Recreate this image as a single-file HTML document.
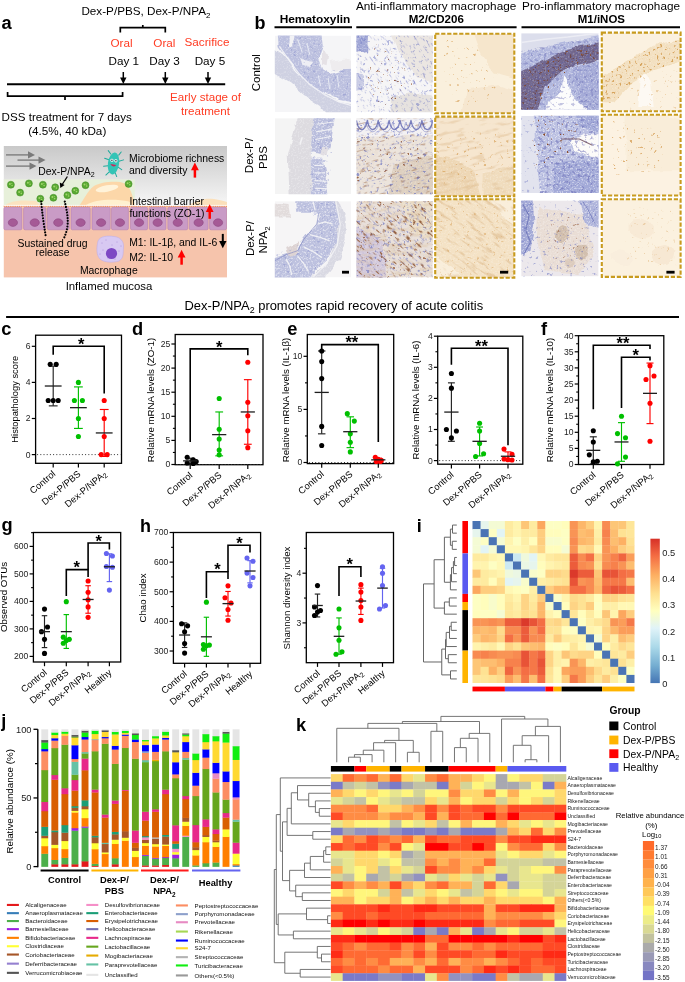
<!DOCTYPE html>
<html><head><meta charset="utf-8"><title>Figure</title><style>html,body{margin:0;padding:0;background:#fff;width:685px;height:982px;overflow:hidden;}svg{display:block;font-family:"Liberation Sans",sans-serif;will-change:transform;}</style></head><body>
<svg width="685" height="982" viewBox="0 0 685 982" font-family="Liberation Sans, sans-serif"><defs><filter id="soft" x="-0.1" y="-0.1" width="1.2" height="1.2"><feTurbulence type="fractalNoise" baseFrequency="0.09" numOctaves="2" seed="4" result="t"/><feDisplacementMap in="SourceGraphic" in2="t" scale="5.5" xChannelSelector="R" yChannelSelector="G" result="d"/><feGaussianBlur in="d" stdDeviation="0.6"/></filter><filter id="ws" x="0" y="0" width="1" height="1" color-interpolation-filters="sRGB"><feTurbulence type="fractalNoise" baseFrequency="0.6" numOctaves="2" seed="2"/><feColorMatrix type="matrix" values="0 0 0 0 1 0 0 0 0 1 0 0 0 0 1 5 0 0 0 -2.5"/><feGaussianBlur stdDeviation="0.3"/><feComposite in2="SourceAlpha" operator="in"/></filter><filter id="bd" x="0" y="0" width="1" height="1" color-interpolation-filters="sRGB"><feTurbulence type="fractalNoise" baseFrequency="0.3" numOctaves="2" seed="7"/><feColorMatrix type="matrix" values="0 0 0 0 0.36 0 0 0 0 0.4 0 0 0 0 0.74 8 0 0 0 -5.1"/><feGaussianBlur stdDeviation="0.4"/><feComposite in2="SourceAlpha" operator="in"/></filter><filter id="bd2" x="0" y="0" width="1" height="1" color-interpolation-filters="sRGB"><feTurbulence type="fractalNoise" baseFrequency="0.32" numOctaves="2" seed="11"/><feColorMatrix type="matrix" values="0 0 0 0 0.35 0 0 0 0 0.36 0 0 0 0 0.68 7 0 0 0 -4"/><feGaussianBlur stdDeviation="0.4"/><feComposite in2="SourceAlpha" operator="in"/></filter><filter id="brd" x="0" y="0" width="1" height="1" color-interpolation-filters="sRGB"><feTurbulence type="fractalNoise" baseFrequency="0.3" numOctaves="2" seed="3"/><feColorMatrix type="matrix" values="0 0 0 0 0.55 0 0 0 0 0.3 0 0 0 0 0.16 10 0 0 0 -7"/><feGaussianBlur stdDeviation="0.4"/><feComposite in2="SourceAlpha" operator="in"/></filter><filter id="gd" x="0" y="0" width="1" height="1" color-interpolation-filters="sRGB"><feTurbulence type="fractalNoise" baseFrequency="0.3" numOctaves="2" seed="5"/><feColorMatrix type="matrix" values="0 0 0 0 0.83 0 0 0 0 0.6 0 0 0 0 0.3 10 0 0 0 -6.9"/><feGaussianBlur stdDeviation="0.4"/><feComposite in2="SourceAlpha" operator="in"/></filter><filter id="brd2" x="0" y="0" width="1" height="1" color-interpolation-filters="sRGB"><feTurbulence type="fractalNoise" baseFrequency="0.4" numOctaves="2" seed="17"/><feColorMatrix type="matrix" values="0 0 0 0 0.45 0 0 0 0 0.25 0 0 0 0 0.2 8 0 0 0 -4.9"/><feGaussianBlur stdDeviation="0.35"/><feComposite in2="SourceAlpha" operator="in"/></filter><filter id="stb" x="0" y="0" width="1" height="1" color-interpolation-filters="sRGB"><feTurbulence type="fractalNoise" baseFrequency="0.14 0.45" numOctaves="2" seed="21"/><feColorMatrix type="matrix" values="0 0 0 0 0.56 0 0 0 0 0.34 0 0 0 0 0.2 8 0 0 0 -5"/><feGaussianBlur stdDeviation="0.4"/><feComposite in2="SourceAlpha" operator="in"/></filter><filter id="stt" x="0" y="0" width="1" height="1" color-interpolation-filters="sRGB"><feTurbulence type="fractalNoise" baseFrequency="0.07 0.3" numOctaves="2" seed="23"/><feColorMatrix type="matrix" values="0 0 0 0 0.84 0 0 0 0 0.68 0 0 0 0 0.48 6 0 0 0 -3.4"/><feGaussianBlur stdDeviation="0.5"/><feComposite in2="SourceAlpha" operator="in"/></filter><filter id="stbl" x="0" y="0" width="1" height="1" color-interpolation-filters="sRGB"><feTurbulence type="fractalNoise" baseFrequency="0.2 0.5" numOctaves="2" seed="25"/><feColorMatrix type="matrix" values="0 0 0 0 0.38 0 0 0 0 0.42 0 0 0 0 0.76 8 0 0 0 -5.1"/><feGaussianBlur stdDeviation="0.35"/><feComposite in2="SourceAlpha" operator="in"/></filter><filter id="gd2" x="0" y="0" width="1" height="1" color-interpolation-filters="sRGB"><feTurbulence type="fractalNoise" baseFrequency="0.35" numOctaves="2" seed="9"/><feColorMatrix type="matrix" values="0 0 0 0 0.82 0 0 0 0 0.6 0 0 0 0 0.3 8 0 0 0 -4.9"/><feGaussianBlur stdDeviation="0.4"/><feComposite in2="SourceAlpha" operator="in"/></filter><filter id="tan" x="0" y="0" width="1" height="1" color-interpolation-filters="sRGB"><feTurbulence type="fractalNoise" baseFrequency="0.08 0.25" numOctaves="2" seed="13"/><feColorMatrix type="matrix" values="0 0 0 0 0.86 0 0 0 0 0.74 0 0 0 0 0.58 5 0 0 0 -2.3"/><feGaussianBlur stdDeviation="0.6"/><feComposite in2="SourceAlpha" operator="in"/></filter><linearGradient id="lum" x1="0" y1="0" x2="0" y2="1"><stop offset="0" stop-color="#c9c9c9"/><stop offset="1" stop-color="#f7f7f7"/></linearGradient><linearGradient id="mound" x1="0" y1="0" x2="0" y2="1"><stop offset="0" stop-color="#fff4e0"/><stop offset="1" stop-color="#fcd9b0"/></linearGradient><clipPath id="c1"><rect x="274.8" y="35.6" width="76.2" height="76.6"/></clipPath><clipPath id="c2"><rect x="356.4" y="35.6" width="76.4" height="76.6"/></clipPath><clipPath id="c3"><rect x="435.5" y="34" width="78.5" height="78.9"/></clipPath><clipPath id="c4"><rect x="521.2" y="33.2" width="77.4" height="76.6"/></clipPath><clipPath id="c5"><rect x="602.1" y="32.9" width="78.2" height="78"/></clipPath><clipPath id="c6"><rect x="274.8" y="118.2" width="76.2" height="76"/></clipPath><clipPath id="c7"><rect x="356.4" y="118.2" width="76.4" height="76"/></clipPath><clipPath id="c8"><rect x="435.5" y="116.9" width="78.5" height="79"/></clipPath><clipPath id="c9"><rect x="521.2" y="115.8" width="77.4" height="77.2"/></clipPath><clipPath id="c10"><rect x="602.1" y="115" width="78.2" height="80.2"/></clipPath><clipPath id="c11"><rect x="274.8" y="201.2" width="76.2" height="76.2"/></clipPath><clipPath id="c12"><rect x="356.4" y="201.2" width="76.4" height="76.2"/></clipPath><clipPath id="c13"><rect x="435.5" y="199.6" width="78.5" height="77.8"/></clipPath><clipPath id="c14"><rect x="521.2" y="200.4" width="77.4" height="76"/></clipPath><clipPath id="c15"><rect x="602.1" y="199.6" width="78.2" height="77"/></clipPath><linearGradient id="cbi" x1="0" y1="1" x2="0" y2="0"><stop offset="0" stop-color="#4575b4"/><stop offset="0.12" stop-color="#74add1"/><stop offset="0.25" stop-color="#abd9e9"/><stop offset="0.38" stop-color="#e0f3f8"/><stop offset="0.5" stop-color="#ffffbf"/><stop offset="0.62" stop-color="#fee090"/><stop offset="0.75" stop-color="#fdae61"/><stop offset="0.88" stop-color="#f46d43"/><stop offset="1" stop-color="#d73027"/></linearGradient></defs><text x="1.6" y="29.1" font-size="18.3" font-weight="bold">a</text><text x="81.4" y="15" font-size="11.6" textLength="129" lengthAdjust="spacingAndGlyphs">Dex-P/PBS, Dex-P/NPA<tspan dy="2.9" font-size="7.89">2</tspan></text><path d="M120.3 32.5 V27.7 H165.3 V32.5 M142.8 27.7 V25" stroke="#000" stroke-width="1.7" fill="none" /><text x="121.5" y="46.6" font-size="11.7" text-anchor="middle" fill="#ff3b22">Oral</text><text x="164.4" y="46.6" font-size="11.7" text-anchor="middle" fill="#ff3b22">Oral</text><text x="207" y="46.3" font-size="11.7" text-anchor="middle" fill="#ff3b22">Sacrifice</text><text x="123.8" y="64.6" font-size="11.7" text-anchor="middle">Day 1</text><text x="164.5" y="64.6" font-size="11.7" text-anchor="middle">Day 3</text><text x="209.9" y="64.8" font-size="11.7" text-anchor="middle">Day 5</text><line x1="123.3" y1="72" x2="123.3" y2="79" stroke="#000" stroke-width="1.5" /><path d="M123.3 84 L120.1 77.5 L126.5 77.5 Z" stroke="none" stroke-width="1" fill="#000" /><line x1="165.3" y1="72" x2="165.3" y2="79" stroke="#000" stroke-width="1.5" /><path d="M165.3 84 L162.1 77.5 L168.5 77.5 Z" stroke="none" stroke-width="1" fill="#000" /><line x1="208" y1="72" x2="208" y2="79" stroke="#000" stroke-width="1.5" /><path d="M208 84 L204.8 77.5 L211.2 77.5 Z" stroke="none" stroke-width="1" fill="#000" /><line x1="7" y1="84.2" x2="225.2" y2="84.2" stroke="#000" stroke-width="1.9" /><path d="M7.6 92 V96.2 H122.6 V92 M65 96.2 V100" stroke="#000" stroke-width="1.7" fill="none" /><text x="1.6" y="121.3" font-size="11.6" textLength="130.3" lengthAdjust="spacingAndGlyphs">DSS treatment for 7 days</text><text x="28.2" y="135.3" font-size="11.8" textLength="78.1" lengthAdjust="spacingAndGlyphs">(4.5%, 40 kDa)</text><text x="205.5" y="101.4" font-size="11.6" text-anchor="middle" fill="#ff3b22">Early stage of</text><text x="205.5" y="114.6" font-size="11.6" text-anchor="middle" fill="#ff3b22">treatment</text><rect x="3.8" y="146" width="223.2" height="60" fill="url(#lum)" /><rect x="3.8" y="179.3" width="131" height="27" fill="#e7f0da" /><path d="M79 206 C 84 200, 87 191, 94 186 C 100 182, 112 181, 120 182 C 128 183, 131 190, 133 198 L 135 206 Z" stroke="none" stroke-width="1" fill="#fcd7a9" /><ellipse cx="107" cy="188.5" rx="11.5" ry="3.2" fill="#fff3da" transform="rotate(-10 107 188.5)"/><path d="M86 205 C 95 199, 115 198.5, 129 201.5 L132 205 Z" stroke="none" stroke-width="1" fill="#fff0cf" /><path d="M4 206 C 10 201, 20 199.5, 36 201 C 38 203, 40 205, 42 206 Z" stroke="none" stroke-width="1" fill="#fbe3c0" /><path d="M188 206 C 196 200, 205 198, 214 199 C 220 200, 224 201, 227 202 L227 206 Z" stroke="none" stroke-width="1" fill="#fbe0bb" /><rect x="3.8" y="206" width="223.2" height="71.4" fill="#f6c4ac" /><rect x="3.9" y="207.2" width="18" height="22.6" rx="1.5" fill="#c99bc6" stroke="#b582b3" stroke-width="0.6"/><ellipse cx="12.9" cy="222.6" rx="4.6" ry="3.8" fill="#a55a96" stroke="#8c4480" stroke-width="0.6"/><rect x="23.6" y="207.2" width="22.3" height="22.6" rx="1.5" fill="#c99bc6" stroke="#b582b3" stroke-width="0.6"/><ellipse cx="34.75" cy="222.6" rx="4.6" ry="3.8" fill="#a55a96" stroke="#8c4480" stroke-width="0.6"/><rect x="47.3" y="207.2" width="21.9" height="22.6" rx="1.5" fill="#c99bc6" stroke="#b582b3" stroke-width="0.6"/><ellipse cx="58.25" cy="222.6" rx="4.6" ry="3.8" fill="#a55a96" stroke="#8c4480" stroke-width="0.6"/><rect x="71" y="207.2" width="19.2" height="22.6" rx="1.5" fill="#c99bc6" stroke="#b582b3" stroke-width="0.6"/><ellipse cx="80.6" cy="222.6" rx="4.6" ry="3.8" fill="#a55a96" stroke="#8c4480" stroke-width="0.6"/><rect x="92" y="207.2" width="18.2" height="22.6" rx="1.5" fill="#c99bc6" stroke="#b582b3" stroke-width="0.6"/><ellipse cx="101.1" cy="222.6" rx="4.6" ry="3.8" fill="#a55a96" stroke="#8c4480" stroke-width="0.6"/><rect x="111.5" y="207.2" width="16.9" height="22.6" rx="1.5" fill="#c99bc6" stroke="#b582b3" stroke-width="0.6"/><ellipse cx="119.95" cy="222.6" rx="4.6" ry="3.8" fill="#a55a96" stroke="#8c4480" stroke-width="0.6"/><rect x="130.5" y="207.2" width="17.1" height="22.6" rx="1.5" fill="#c99bc6" stroke="#b582b3" stroke-width="0.6"/><ellipse cx="139.05" cy="222.6" rx="4.6" ry="3.8" fill="#a55a96" stroke="#8c4480" stroke-width="0.6"/><rect x="149.3" y="207.2" width="16.7" height="22.6" rx="1.5" fill="#c99bc6" stroke="#b582b3" stroke-width="0.6"/><ellipse cx="157.65" cy="222.6" rx="4.6" ry="3.8" fill="#a55a96" stroke="#8c4480" stroke-width="0.6"/><rect x="167.8" y="207.2" width="19.9" height="22.6" rx="1.5" fill="#c99bc6" stroke="#b582b3" stroke-width="0.6"/><ellipse cx="177.75" cy="222.6" rx="4.6" ry="3.8" fill="#a55a96" stroke="#8c4480" stroke-width="0.6"/><rect x="189.2" y="207.2" width="18.9" height="22.6" rx="1.5" fill="#c99bc6" stroke="#b582b3" stroke-width="0.6"/><ellipse cx="198.65" cy="222.6" rx="4.6" ry="3.8" fill="#a55a96" stroke="#8c4480" stroke-width="0.6"/><rect x="209.6" y="207.2" width="16.9" height="22.6" rx="1.5" fill="#c99bc6" stroke="#b582b3" stroke-width="0.6"/><ellipse cx="218.05" cy="222.6" rx="4.6" ry="3.8" fill="#a55a96" stroke="#8c4480" stroke-width="0.6"/><line x1="3.8" y1="206.3" x2="227" y2="206.3" stroke="#f08850" stroke-width="1.6" stroke-dasharray="0.8 1.4"/><line x1="3.8" y1="205.4" x2="227" y2="205.4" stroke="#fff" stroke-width="0.8"/><line x1="6" y1="154.9" x2="29.5" y2="154.9" stroke="#777" stroke-width="1.3" /><path d="M35 154.9 L28 151.2 L28 158.6 Z" stroke="none" stroke-width="1" fill="#7a7a7a" /><line x1="17.5" y1="160.1" x2="40" y2="160.1" stroke="#777" stroke-width="1.3" /><path d="M45.5 160.1 L38.5 156.4 L38.5 163.8 Z" stroke="none" stroke-width="1" fill="#7a7a7a" /><line x1="6" y1="166.1" x2="31" y2="166.1" stroke="#777" stroke-width="1.3" /><path d="M36.5 166.1 L29.5 162.4 L29.5 169.8 Z" stroke="none" stroke-width="1" fill="#7a7a7a" /><circle cx="10.9" cy="184.7" r="3.5" fill="#58a832" stroke="#3f8a22" stroke-width="0.5"/><circle cx="9.9" cy="184" r="1" fill="#9fd66a" /><circle cx="12.1" cy="185.5" r="0.8" fill="#9fd66a" /><circle cx="11.8" cy="183.4" r="0.5" fill="#9fd66a" /><circle cx="28.9" cy="183.4" r="3.5" fill="#58a832" stroke="#3f8a22" stroke-width="0.5"/><circle cx="27.9" cy="182.7" r="1" fill="#9fd66a" /><circle cx="30.1" cy="184.2" r="0.8" fill="#9fd66a" /><circle cx="29.8" cy="182.1" r="0.5" fill="#9fd66a" /><circle cx="42.9" cy="184.7" r="3.5" fill="#58a832" stroke="#3f8a22" stroke-width="0.5"/><circle cx="41.9" cy="184" r="1" fill="#9fd66a" /><circle cx="44.1" cy="185.5" r="0.8" fill="#9fd66a" /><circle cx="43.8" cy="183.4" r="0.5" fill="#9fd66a" /><circle cx="55.2" cy="187.3" r="3.5" fill="#58a832" stroke="#3f8a22" stroke-width="0.5"/><circle cx="54.2" cy="186.6" r="1" fill="#9fd66a" /><circle cx="56.4" cy="188.1" r="0.8" fill="#9fd66a" /><circle cx="56.1" cy="186" r="0.5" fill="#9fd66a" /><circle cx="85.5" cy="185.2" r="3.5" fill="#58a832" stroke="#3f8a22" stroke-width="0.5"/><circle cx="84.5" cy="184.5" r="1" fill="#9fd66a" /><circle cx="86.7" cy="186" r="0.8" fill="#9fd66a" /><circle cx="86.4" cy="183.9" r="0.5" fill="#9fd66a" /><circle cx="20.1" cy="192.6" r="3.5" fill="#58a832" stroke="#3f8a22" stroke-width="0.5"/><circle cx="19.1" cy="191.9" r="1" fill="#9fd66a" /><circle cx="21.3" cy="193.4" r="0.8" fill="#9fd66a" /><circle cx="21" cy="191.3" r="0.5" fill="#9fd66a" /><circle cx="40.3" cy="198.7" r="3.5" fill="#58a832" stroke="#3f8a22" stroke-width="0.5"/><circle cx="39.3" cy="198" r="1" fill="#9fd66a" /><circle cx="41.5" cy="199.5" r="0.8" fill="#9fd66a" /><circle cx="41.2" cy="197.4" r="0.5" fill="#9fd66a" /><circle cx="53.4" cy="197.8" r="3.5" fill="#58a832" stroke="#3f8a22" stroke-width="0.5"/><circle cx="52.4" cy="197.1" r="1" fill="#9fd66a" /><circle cx="54.6" cy="198.6" r="0.8" fill="#9fd66a" /><circle cx="54.3" cy="196.5" r="0.5" fill="#9fd66a" /><circle cx="67.4" cy="195.2" r="3.5" fill="#58a832" stroke="#3f8a22" stroke-width="0.5"/><circle cx="66.4" cy="194.5" r="1" fill="#9fd66a" /><circle cx="68.6" cy="196" r="0.8" fill="#9fd66a" /><circle cx="68.3" cy="193.9" r="0.5" fill="#9fd66a" /><circle cx="75.3" cy="190.8" r="3.5" fill="#58a832" stroke="#3f8a22" stroke-width="0.5"/><circle cx="74.3" cy="190.1" r="1" fill="#9fd66a" /><circle cx="76.5" cy="191.6" r="0.8" fill="#9fd66a" /><circle cx="76.2" cy="189.5" r="0.5" fill="#9fd66a" /><circle cx="128.6" cy="183.9" r="3.5" fill="#58a832" stroke="#3f8a22" stroke-width="0.5"/><circle cx="127.6" cy="183.2" r="1" fill="#9fd66a" /><circle cx="129.8" cy="184.7" r="0.8" fill="#9fd66a" /><circle cx="129.5" cy="182.6" r="0.5" fill="#9fd66a" /><path d="M41.2 201.5 C 42 212, 44 226, 45.9 237" stroke="#000" stroke-width="2.2" fill="none" stroke-dasharray="0.01 2.8" stroke-linecap="round"/><path d="M64.8 201.5 C 67 212, 70.5 224, 64 238" stroke="#000" stroke-width="2.2" fill="none" stroke-dasharray="0.01 2.8" stroke-linecap="round"/><text x="38.3" y="174.5" font-size="10.4">Dex-P/NPA<tspan dy="2.6" font-size="7.07">2</tspan></text><line x1="67.4" y1="176.5" x2="62.2" y2="184.5" stroke="#000" stroke-width="1.3" /><path d="M60.3 188 L59.8 182.6 L64.6 185 Z" stroke="none" stroke-width="1" fill="#000" /><g transform="translate(113.5 163.5) rotate(8)"><g stroke="#1faa9c" stroke-width="1" stroke-linecap="round"><line x1="-4" y1="-9" x2="-7" y2="-12"/><line x1="4" y1="-9" x2="6" y2="-12.5"/><line x1="-5" y1="-3" x2="-9.5" y2="-4"/><line x1="5" y1="-3" x2="9.5" y2="-5"/><line x1="-5" y1="3" x2="-9.5" y2="4"/><line x1="5" y1="3" x2="9" y2="5"/><line x1="-3" y1="9" x2="-6" y2="12.5"/><line x1="3" y1="9" x2="5" y2="12.5"/></g><ellipse cx="0" cy="0" rx="5.6" ry="11" fill="#33c4b6"/><circle cx="-2" cy="-3" r="1.6" fill="#fff"/><circle cx="2" cy="-3" r="1.6" fill="#fff"/><circle cx="-2" cy="-3" r="0.7" fill="#123"/><circle cx="2" cy="-3" r="0.7" fill="#123"/><path d="M-3 1 Q0 5 3 1 Z" fill="#d0245a"/></g><text x="129" y="162.2" font-size="10.4">Microbiome richness</text><text x="129" y="174.3" font-size="10.4">and diversity</text><line x1="194.9" y1="167.4" x2="194.9" y2="177.6" stroke="#ff0000" stroke-width="2.5" /><path d="M194.9 162.4 L191 170.2 L198.8 170.2 Z" stroke="none" stroke-width="1" fill="#ff0000" /><text x="129.4" y="205" font-size="10.4">Intestinal barrier</text><text x="129.4" y="217" font-size="10.4">functions (ZO-1)</text><line x1="209.7" y1="209.2" x2="209.7" y2="218.8" stroke="#ff0000" stroke-width="2.5" /><path d="M209.7 204.2 L205.8 212 L213.6 212 Z" stroke="none" stroke-width="1" fill="#ff0000" /><path d="M98 241 C 100 236, 108 235.5, 114 236.5 C 120 237, 124 241, 123.5 247 C 123 253, 124 258, 119 261 C 113 263, 104 262.5, 100 259 C 96 255, 96.5 247, 98 241 Z" stroke="#c0aee6" stroke-width="0.6" fill="#d8c9f2" /><circle cx="102" cy="243" r="0.45" fill="#8a64c8" /><circle cx="106" cy="240" r="0.45" fill="#8a64c8" /><circle cx="117" cy="242" r="0.45" fill="#8a64c8" /><circle cx="103" cy="250" r="0.45" fill="#8a64c8" /><circle cx="119" cy="251" r="0.45" fill="#8a64c8" /><circle cx="108" cy="258" r="0.45" fill="#8a64c8" /><circle cx="115" cy="259" r="0.45" fill="#8a64c8" /><circle cx="100" cy="254" r="0.45" fill="#8a64c8" /><circle cx="112" cy="245" r="0.45" fill="#8a64c8" /><circle cx="121" cy="246" r="0.45" fill="#8a64c8" /><circle cx="111.5" cy="253.5" r="5.6" fill="#7d48c4" /><text x="129.2" y="246.3" font-size="10.4">M1: IL-1β, and IL-6</text><line x1="222.8" y1="233.9" x2="222.8" y2="243.2" stroke="#000" stroke-width="2" /><path d="M222.8 248.2 L219.1 241 L226.5 241 Z" stroke="none" stroke-width="1" fill="#000" /><text x="129.2" y="260.6" font-size="10.4">M2: IL-10</text><line x1="181.6" y1="254.8" x2="181.6" y2="264.7" stroke="#ff0000" stroke-width="2.5" /><path d="M181.6 249.8 L177.7 257.6 L185.5 257.6 Z" stroke="none" stroke-width="1" fill="#ff0000" /><text x="52.5" y="246.8" font-size="10.4" text-anchor="middle">Sustained drug</text><text x="52.5" y="256.4" font-size="10.4" text-anchor="middle">release</text><text x="108.8" y="274" font-size="10.4" text-anchor="middle">Macrophage</text><text x="109" y="290.3" font-size="11.4" text-anchor="middle">Inflamed mucosa</text><text x="254.4" y="29" font-size="18" font-weight="bold">b</text><text x="279.7" y="23.4" font-size="11.2" textLength="70.6" lengthAdjust="spacingAndGlyphs" font-weight="bold">Hematoxylin</text><line x1="274.5" y1="27.2" x2="352" y2="27.2" stroke="#000" stroke-width="2" /><text x="355.9" y="10.2" font-size="11.4" textLength="160.4" lengthAdjust="spacingAndGlyphs">Anti-inflammatory macrophage</text><text x="408.7" y="23.4" font-size="11.2" textLength="55.2" lengthAdjust="spacingAndGlyphs" font-weight="bold">M2/CD206</text><line x1="356.3" y1="27.2" x2="516.6" y2="27.2" stroke="#000" stroke-width="2" /><text x="522.1" y="10.2" font-size="11.4" textLength="157.9" lengthAdjust="spacingAndGlyphs">Pro-inflammatory macrophage</text><text x="577.8" y="23.4" font-size="11.2" textLength="47.2" lengthAdjust="spacingAndGlyphs" font-weight="bold">M1/iNOS</text><line x1="521.5" y1="27.2" x2="680" y2="27.2" stroke="#000" stroke-width="2" /><text x="260.4" y="72.7" font-size="11.5" text-anchor="middle" transform="rotate(-90 260.4 72.7)">Control</text><text x="253.5" y="155.6" font-size="11.5" text-anchor="middle" transform="rotate(-90 253.5 155.6)">Dex-P/</text><text x="267" y="157.5" font-size="11.5" text-anchor="middle" transform="rotate(-90 267 157.5)">PBS</text><text x="253.5" y="238.5" font-size="11.5" text-anchor="middle" transform="rotate(-90 253.5 238.5)">Dex-P/</text><text x="267" y="240" font-size="11.5" text-anchor="middle" transform="rotate(-90 267 240)">NPA<tspan dy="2.6" font-size="7.8">2</tspan></text><g clip-path="url(#c1)"><rect x="274.8" y="35.6" width="76.2" height="76.6" fill="#f5f5f7" /><path d="M265.66 41.73 L283.94 55.52 L295.37 70.07 L309.09 83.86 L324.33 94.58 L339.57 102.24 L360.14 106.07 L360.14 121.39 L331.19 121.39 L320.52 106.84 L309.09 99.18 L291.56 84.62 L265.66 69.3 Z" fill="#cfd1e2" filter="url(#soft)"/><path d="M265.66 41.73 L283.94 55.52 L295.37 70.07 L309.09 83.86 L324.33 94.58 L339.57 102.24 L360.14 106.07 L360.14 121.39 L331.19 121.39 L320.52 106.84 L309.09 99.18 L291.56 84.62 L265.66 69.3 Z" fill="#000" filter="url(#ws)" opacity="0.2"/><path d="M277.09 26.41 L320.52 26.41 L322.81 46.32 L318.23 58.58 L322.04 69.3 L329.66 73.9 L343.38 70.07 L360.14 69.3 L360.14 103.77 L339.57 99.94 L322.81 93.05 L307.57 82.33 L297.66 70.84 L285.47 55.52 L278.61 46.32 Z" fill="#bcc0df" filter="url(#soft)"/><path d="M277.09 26.41 L320.52 26.41 L322.81 46.32 L318.23 58.58 L322.04 69.3 L329.66 73.9 L343.38 70.07 L360.14 69.3 L360.14 103.77 L339.57 99.94 L322.81 93.05 L307.57 82.33 L297.66 70.84 L285.47 55.52 L278.61 46.32 Z" fill="#000" filter="url(#ws)" opacity="0.3"/><path d="M290.04 26.41 L295.37 26.41 L293.09 46.32 L289.28 48.62 Z" fill="#f2f2f5" filter="url(#soft)"/><path d="M299.95 58.58 L312.9 60.88 L309.85 67.01 L302.23 64.71 Z" fill="#eeeef4" filter="url(#soft)"/><path d="M322.04 50.92 L328.14 54.75 L326.62 66.24 L322.04 64.71 Z" fill="#e6e2e6" filter="url(#soft)"/><path d="M329.66 60.88 L344.9 58.58 L360.14 60.88 L360.14 68.54 L331.95 70.84 Z" fill="#eeecee" filter="url(#soft)"/><path d="M277.09 26.41 L320.52 26.41 L320.52 70.84 L360.14 69.3 L360.14 103.01 L306.8 81.56 Z" fill="#000" filter="url(#bd)" opacity="0.25"/><path d="M279.37 46.32 L290.04 61.64 L299.18 73.9 L309.09 83.86 L324.33 94.58 L339.57 102.24 L351 105.31" fill="none" stroke="#f2f2f6" stroke-width="1.3" opacity="0.9" stroke-linejoin="round"/><path d="M297.66 39.43 L302.23 52.45" fill="none" stroke="#eef0f6" stroke-width="1.1" opacity="0.8" stroke-linejoin="round"/><path d="M306.8 43.26 L309.85 54.75" fill="none" stroke="#eef0f6" stroke-width="1.1" opacity="0.8" stroke-linejoin="round"/><path d="M328.14 77.73 L329.66 89.22" fill="none" stroke="#eef0f6" stroke-width="1.1" opacity="0.8" stroke-linejoin="round"/><path d="M337.28 75.43 L338.81 87.69" fill="none" stroke="#eef0f6" stroke-width="1.1" opacity="0.8" stroke-linejoin="round"/><path d="M318.23 75.43 L320.52 86.16" fill="none" stroke="#eef0f6" stroke-width="1.1" opacity="0.8" stroke-linejoin="round"/></g><g clip-path="url(#c2)"><rect x="356.4" y="35.6" width="76.4" height="76.6" fill="#f6f5f6" /><path d="M388.49 26.41 L441.97 26.41 L441.97 86.16 L417.52 77.73 L402.24 58.58 Z" fill="#ebe6e2" filter="url(#soft)"/><path d="M390.78 96.88 L409.88 92.28 L441.97 96.88 L441.97 121.39 L390.78 121.39 Z" fill="#e6e2df" filter="url(#soft)"/><path d="M347.23 26.41 L368.62 26.41 L367.1 50.92 L347.23 53.98 Z" fill="#a2a8d6" filter="url(#soft)"/><path d="M347.23 26.41 L368.62 26.41 L367.1 50.92 L347.23 53.98 Z" fill="#000" filter="url(#ws)" opacity="0.3"/><path d="M347.23 72.37 L364.04 75.43 L364.04 89.22 L347.23 92.28 Z" fill="#c8cbe4" filter="url(#soft)"/><path d="M347.23 72.37 L364.04 75.43 L364.04 89.22 L347.23 92.28 Z" fill="#000" filter="url(#ws)" opacity="0.2"/><path d="M347.23 26.41 L441.97 26.41 L441.97 121.39 L347.23 121.39 Z" fill="#000" filter="url(#bd)" opacity="0.45"/><path d="M367.86 39.43 L394.6 50.92 L417.52 89.22 L379.32 108.37 L367.86 81.56 Z" fill="#000" filter="url(#brd)" opacity="0.8"/><rect x="334.6" y="13.9" width="120" height="120" fill="#000" filter="url(#stbl)" opacity="0.45" transform="rotate(55 394.6 73.9)"/></g><g clip-path="url(#c3)"><rect x="435.5" y="34" width="78.5" height="78.9" fill="#faf0dd" /><path d="M470.82 24.53 L523.42 24.53 L523.42 81.34 L494.38 73.45 L482.6 57.67 Z" fill="#f6e6cc" filter="url(#soft)"/><path d="M466.9 89.23 L498.3 85.28 L523.42 93.18 L523.42 122.37 L459.05 122.37 Z" fill="#f6e7d0" filter="url(#soft)"/><path d="M443.35 37.95 L478.68 49.78 L502.23 93.18 L459.05 108.95 L443.35 81.34 Z" fill="#000" filter="url(#gd)" opacity="0.6"/></g><rect x="435.2" y="33.7" width="79.1" height="79.5" fill="none" stroke="#c89b1e" stroke-width="2.1" stroke-dasharray="4.2 1.8"/><g clip-path="url(#c4)"><rect x="521.2" y="33.2" width="77.4" height="76.6" fill="#dcdeec" /><path d="M511.91 56.18 L552.16 44.69 L607.89 34.73 L607.89 118.99 L511.91 118.99 Z" fill="#b2b8de" filter="url(#soft)"/><path d="M511.91 56.18 L552.16 44.69 L607.89 34.73 L607.89 118.99 L511.91 118.99 Z" fill="#000" filter="url(#ws)" opacity="0.35"/><path d="M511.91 75.33 L544.42 60.78 L567.64 48.52 L607.89 40.86 L607.89 57.71 L575.38 65.37 L559.9 73.03 L544.42 86.82 L535.13 118.99 L511.91 118.99 Z" fill="#72688f" filter="url(#soft)"/><path d="M511.91 75.33 L544.42 60.78 L567.64 48.52 L607.89 40.86 L607.89 57.71 L575.38 65.37 L559.9 73.03 L544.42 86.82 L535.13 118.99 L511.91 118.99 Z" fill="#000" filter="url(#ws)" opacity="0.2"/><path d="M571.51 67.67 L607.89 60.01 L607.89 118.99 L583.12 118.99 Z" fill="#a6acd8" filter="url(#soft)"/><path d="M571.51 67.67 L607.89 60.01 L607.89 118.99 L583.12 118.99 Z" fill="#000" filter="url(#ws)" opacity="0.35"/><path d="M564.54 75.33 L567.64 80.69 L569.19 92.95 L576.93 100.61 L586.99 108.27 L586.99 118.99 L542.87 118.99 L548.29 102.14 L558.35 94.48 L562.22 82.99 Z" fill="#fcfcfc" filter="url(#soft)"/><path d="M511.91 52.35 L607.89 34.73 L607.89 118.99 L511.91 118.99 Z" fill="#000" filter="url(#bd2)" opacity="0.35"/><path d="M511.91 77.63 L544.42 62.31 L567.64 50.05 L607.89 42.39 L607.89 56.18 L575.38 63.84 L559.9 71.5 L544.42 85.29 L533.58 118.99 L511.91 118.99 Z" fill="#000" filter="url(#brd2)" opacity="0.75"/><path d="M511.91 79.16 L548.29 60.01 L575.38 44.69 L607.89 40.86 L607.89 56.18 L567.64 69.97 L536.68 105.97 Z" fill="#000" filter="url(#brd)" opacity="1"/><path d="M521.2 42.39 L544.42 39.33 L567.64 37.03 L598.6 33.2" fill="none" stroke="#f0f0f6" stroke-width="1.5" opacity="0.8" stroke-linejoin="round"/></g><g clip-path="url(#c5)"><rect x="602.1" y="32.9" width="78.2" height="78" fill="#fbf1e0" /><path d="M592.72 101.54 L592.72 81.26 L629.47 60.2 L656.84 43.82 L689.68 39.14 L689.68 58.64 L652.93 70.34 L633.38 81.26 L613.83 103.1 Z" fill="#f3e0c0" filter="url(#soft)"/><path d="M592.72 101.54 L592.72 81.26 L629.47 60.2 L656.84 43.82 L689.68 39.14 L689.68 58.64 L652.93 70.34 L633.38 81.26 L613.83 103.1 Z" fill="#000" filter="url(#ws)" opacity="0.2"/><path d="M637.29 107 L639.64 79.7 L645.11 73.46 L650.58 79.7 L653.71 107 Z" fill="#fdf9f3" filter="url(#soft)"/><path d="M592.72 101.54 L592.72 81.26 L629.47 60.2 L656.84 43.82 L689.68 39.14 L689.68 58.64 L652.93 70.34 L633.38 81.26 L613.83 103.1 Z" fill="#000" filter="url(#gd2)" opacity="0.85"/><path d="M633.38 75.8 L689.68 64.1 L689.68 120.26 L625.56 120.26 Z" fill="#000" filter="url(#gd)" opacity="0.35"/></g><rect x="601.8" y="32.6" width="78.8" height="78.6" fill="none" stroke="#c89b1e" stroke-width="2.1" stroke-dasharray="4.2 1.8"/><g clip-path="url(#c6)"><rect x="274.8" y="118.2" width="76.2" height="76" fill="#f4f4f4" /><path d="M299.95 109.08 L314.42 109.08 L310.61 156.2 L312.14 203.32 L290.04 203.32 L287.75 156.2 Z" fill="#dddbe0" filter="url(#soft)"/><path d="M299.95 109.08 L314.42 109.08 L310.61 156.2 L312.14 203.32 L290.04 203.32 L287.75 156.2 Z" fill="#000" filter="url(#ws)" opacity="0.25"/><path d="M314.42 109.08 L335.76 109.08 L330.43 148.6 L322.04 153.92 L310.61 152.4 L312.9 122 Z" fill="#babedd" filter="url(#soft)"/><path d="M314.42 109.08 L335.76 109.08 L330.43 148.6 L322.04 153.92 L310.61 152.4 L312.9 122 Z" fill="#000" filter="url(#ws)" opacity="0.5"/><path d="M310.61 157.72 L322.04 157.72 L325.09 171.4 L328.14 203.32 L312.14 203.32 Z" fill="#bcc0de" filter="url(#soft)"/><path d="M310.61 157.72 L322.04 157.72 L325.09 171.4 L328.14 203.32 L312.14 203.32 Z" fill="#000" filter="url(#ws)" opacity="0.5"/><path d="M322.04 147.08 L328.14 148.6 L326.62 156.2 L320.52 154.68 Z" fill="#e2dfe4" filter="url(#soft)"/><path d="M312.9 109.08 L335.76 109.08 L328.14 203.32 L309.09 203.32 Z" fill="#000" filter="url(#bd)" opacity="0.3"/><path d="M316.71 124.28 L334.24 122" fill="none" stroke="#f4f4f6" stroke-width="1.2" opacity="0.9" stroke-linejoin="round"/><path d="M315.95 131.88 L332.71 128.84" fill="none" stroke="#f4f4f6" stroke-width="1.2" opacity="0.9" stroke-linejoin="round"/><path d="M315.19 139.48 L331.19 136.44" fill="none" stroke="#f4f4f6" stroke-width="1.2" opacity="0.9" stroke-linejoin="round"/><path d="M314.42 165.32 L323.57 165.32" fill="none" stroke="#f4f4f6" stroke-width="1.2" opacity="0.9" stroke-linejoin="round"/><path d="M314.42 172.92 L325.09 172.92" fill="none" stroke="#f4f4f6" stroke-width="1.2" opacity="0.9" stroke-linejoin="round"/><path d="M314.42 180.52 L326.62 181.28" fill="none" stroke="#f4f4f6" stroke-width="1.2" opacity="0.9" stroke-linejoin="round"/><path d="M314.42 188.12 L327.38 188.88" fill="none" stroke="#f4f4f6" stroke-width="1.2" opacity="0.9" stroke-linejoin="round"/><path d="M302.23 137.2 L299.95 144.8" fill="none" stroke="#f4f4f6" stroke-width="1.5" opacity="0.9" stroke-linejoin="round"/></g><g clip-path="url(#c7)"><rect x="356.4" y="118.2" width="76.4" height="76" fill="#ece4dc" /><path d="M347.23 109.08 L441.97 109.08 L441.97 134.92 L347.23 137.2 Z" fill="#f3f1f3" filter="url(#soft)"/><path d="M394.6 163.8 L441.97 152.4 L441.97 203.32 L386.96 203.32 Z" fill="#ded0c0" filter="url(#soft)"/><path d="M394.6 163.8 L441.97 152.4 L441.97 203.32 L386.96 203.32 Z" fill="#000" filter="url(#ws)" opacity="0.2"/><path d="M347.23 144.8 L379.32 148.6 L371.68 171.4 L347.23 171.4 Z" fill="#eae0d6" filter="url(#soft)"/><path d="M347.23 144.8 L379.32 148.6 L371.68 171.4 L347.23 171.4 Z" fill="#000" filter="url(#ws)" opacity="0.2"/><path d="M347.23 109.08 L441.97 109.08 L441.97 203.32 L347.23 203.32 Z" fill="#000" filter="url(#bd)" opacity="0.6"/><path d="M347.23 133.4 L425.16 141 L425.16 163.8 L347.23 186.6 Z" fill="#000" filter="url(#brd)" opacity="0.8"/><rect x="334.6" y="96.2" width="120" height="120" fill="#000" filter="url(#stb)" opacity="0.45" transform="rotate(-14 394.6 156.2)"/><rect x="334.6" y="96.2" width="120" height="120" fill="#000" filter="url(#stbl)" opacity="0.35" transform="rotate(-14 394.6 156.2)"/><path d="M356.4 120.48 L357.76 125.61 L359.13 127.89 L360.49 129.18 L361.86 129.6 L363.22 129.18 L364.59 127.89 L365.95 125.61 L367.31 120.48 L367.31 120.48 L368.68 125.61 L370.04 127.89 L371.41 129.18 L372.77 129.6 L374.14 129.18 L375.5 127.89 L376.86 125.61 L378.23 120.48 L378.23 120.48 L379.59 125.61 L380.96 127.89 L382.32 129.18 L383.69 129.6 L385.05 129.18 L386.41 127.89 L387.78 125.61 L389.14 120.48 L389.14 120.48 L390.51 125.61 L391.87 127.89 L393.24 129.18 L394.6 129.6 L395.96 129.18 L397.33 127.89 L398.69 125.61 L400.06 120.48 L400.06 120.48 L401.42 125.61 L402.79 127.89 L404.15 129.18 L405.51 129.6 L406.88 129.18 L408.24 127.89 L409.61 125.61 L410.97 120.48 L410.97 120.48 L412.34 125.61 L413.7 127.89 L415.06 129.18 L416.43 129.6 L417.79 129.18 L419.16 127.89 L420.52 125.61 L421.89 120.48 L421.89 120.48 L423.25 125.61 L424.61 127.89 L425.98 129.18 L427.34 129.6 L428.71 129.18 L430.07 127.89 L431.44 125.61 L432.8 120.48" fill="none" stroke="#4b52a8" stroke-width="1.3" opacity="0.7" stroke-linejoin="round"/><path d="M352.58 122 L354.25 127.55 L355.92 130.03 L357.59 131.42 L359.26 131.88 L360.94 131.42 L362.61 130.03 L364.28 127.55 L365.95 122 L365.95 122 L367.62 127.55 L369.29 130.03 L370.96 131.42 L372.63 131.88 L374.31 131.42 L375.98 130.03 L377.65 127.55 L379.32 122 L379.32 122 L380.99 127.55 L382.66 130.03 L384.33 131.42 L386 131.88 L387.68 131.42 L389.35 130.03 L391.02 127.55 L392.69 122 L392.69 122 L394.36 127.55 L396.03 130.03 L397.7 131.42 L399.38 131.88 L401.05 131.42 L402.72 130.03 L404.39 127.55 L406.06 122 L406.06 122 L407.73 127.55 L409.4 130.03 L411.07 131.42 L412.75 131.88 L414.42 131.42 L416.09 130.03 L417.76 127.55 L419.43 122 L419.43 122 L421.1 127.55 L422.77 130.03 L424.44 131.42 L426.12 131.88 L427.79 131.42 L429.46 130.03 L431.13 127.55 L432.8 122" fill="none" stroke="#6a70b8" stroke-width="1" opacity="0.45" stroke-linejoin="round"/></g><g clip-path="url(#c8)"><rect x="435.5" y="116.9" width="78.5" height="79" fill="#f6e6cf" /><path d="M426.08 152.45 L459.05 160.35 L474.75 173.78 L482.6 205.38 L426.08 205.38 Z" fill="#eed7b5" filter="url(#soft)"/><path d="M426.08 152.45 L459.05 160.35 L474.75 173.78 L482.6 205.38 L426.08 205.38 Z" fill="#000" filter="url(#ws)" opacity="0.2"/><path d="M482.6 172.2 L523.42 164.3 L523.42 205.38 L482.6 205.38 Z" fill="#f0dcbd" filter="url(#soft)"/><path d="M482.6 172.2 L523.42 164.3 L523.42 205.38 L482.6 205.38 Z" fill="#000" filter="url(#ws)" opacity="0.2"/><path d="M426.08 128.75 L523.42 132.7 L523.42 164.3 L474.75 180.1 L426.08 188 Z" fill="#000" filter="url(#gd)" opacity="0.6"/><rect x="414.75" y="96.4" width="120" height="120" fill="#000" filter="url(#stt)" opacity="0.32" transform="rotate(-12 474.75 156.4)"/></g><rect x="435.2" y="116.6" width="79.1" height="79.6" fill="none" stroke="#c89b1e" stroke-width="2.1" stroke-dasharray="4.2 1.8"/><g clip-path="url(#c9)"><rect x="521.2" y="115.8" width="77.4" height="77.2" fill="#e2e3ee" /><path d="M534.36 106.54 L607.89 106.54 L607.89 202.26 L540.55 202.26 L536.68 154.4 Z" fill="#bcc1e2" filter="url(#soft)"/><path d="M534.36 106.54 L607.89 106.54 L607.89 202.26 L540.55 202.26 L536.68 154.4 Z" fill="#000" filter="url(#ws)" opacity="0.5"/><path d="M553.71 163.66 L590.86 159.03 L607.89 162.12 L607.89 202.26 L553.71 202.26 Z" fill="#a3aad8" filter="url(#soft)"/><path d="M553.71 163.66 L590.86 159.03 L607.89 162.12 L607.89 202.26 L553.71 202.26 Z" fill="#000" filter="url(#ws)" opacity="0.45"/><path d="M573.83 106.54 L607.89 106.54 L607.89 131.24 L579.25 128.92 Z" fill="#a3aad8" filter="url(#soft)"/><path d="M573.83 106.54 L607.89 106.54 L607.89 131.24 L579.25 128.92 Z" fill="#000" filter="url(#ws)" opacity="0.45"/><path d="M569.96 143.59 L576.93 137.42 L583.12 134.33 L607.89 134.33 L607.89 159.03 L586.99 155.94 L576.93 151.31 Z" fill="#fcfbf9" filter="url(#soft)"/><path d="M534.36 106.54 L607.89 106.54 L607.89 202.26 L540.55 202.26 Z" fill="#000" filter="url(#bd2)" opacity="0.45"/><path d="M511.91 106.54 L544.42 106.54 L544.42 202.26 L511.91 202.26 Z" fill="#000" filter="url(#bd)" opacity="0.35"/><path d="M530.49 106.54 L579.25 123.52 L567.64 158.26 L532.81 165.98 Z" fill="#000" filter="url(#brd)" opacity="1"/><path d="M561.45 138.96 L569.19 138.96 L579.25 138.96 L592.41 145.14" fill="none" stroke="#6a4a5a" stroke-width="1.1" opacity="0.8" stroke-linejoin="round"/></g><g clip-path="url(#c10)"><rect x="602.1" y="115" width="78.2" height="80.2" fill="#fcf2e2" /><path d="M625.56 105.38 L689.68 123.02 L689.68 171.14 L625.56 171.14 Z" fill="#f9edd9" filter="url(#soft)"/><path d="M609.92 119.01 L664.66 131.04 L660.75 171.14 L613.83 175.15 Z" fill="#000" filter="url(#gd)" opacity="0.7"/></g><rect x="601.8" y="114.7" width="78.8" height="80.8" fill="none" stroke="#c89b1e" stroke-width="2.1" stroke-dasharray="4.2 1.8"/><g clip-path="url(#c11)"><rect x="274.8" y="201.2" width="76.2" height="76.2" fill="#f6f5f6" /><path d="M320.52 192.06 L335.76 192.06 L345.67 216.44 L345.67 239.3 L340.33 258.35 L328.14 273.59 L320.52 286.54 L301.47 286.54 L328.14 262.16 L337.28 239.3 L331.95 212.63 Z" fill="#d9d9e3" filter="url(#soft)"/><path d="M320.52 192.06 L335.76 192.06 L345.67 216.44 L345.67 239.3 L340.33 258.35 L328.14 273.59 L320.52 286.54 L301.47 286.54 L328.14 262.16 L337.28 239.3 L331.95 212.63 Z" fill="#000" filter="url(#ws)" opacity="0.25"/><path d="M293.85 192.06 L334.24 192.06 L338.81 220.25 L335.76 243.11 L326.62 260.64 L316.71 269.78 L303.76 286.54 L265.66 286.54 L265.66 260.64 L286.23 254.54 L297.66 250.73 L303.76 239.3 L316.71 224.06 L319 212.63 L309.09 211.87 L296.14 211.87 Z" fill="#bdc1df" filter="url(#soft)"/><path d="M293.85 192.06 L334.24 192.06 L338.81 220.25 L335.76 243.11 L326.62 260.64 L316.71 269.78 L303.76 286.54 L265.66 286.54 L265.66 260.64 L286.23 254.54 L297.66 250.73 L303.76 239.3 L316.71 224.06 L319 212.63 L309.09 211.87 L296.14 211.87 Z" fill="#000" filter="url(#ws)" opacity="0.45"/><path d="M265.66 202.72 L288.52 205.01 L290.04 216.44 L265.66 216.44 Z" fill="#e2dcdc" filter="url(#soft)"/><path d="M265.66 202.72 L288.52 205.01 L290.04 216.44 L265.66 216.44 Z" fill="#000" filter="url(#ws)" opacity="0.3"/><path d="M286.23 246.92 L299.18 240.82 L297.66 253.02 L288.52 256.06 Z" fill="#ddd3d3" filter="url(#soft)"/><path d="M286.23 246.92 L299.18 240.82 L297.66 253.02 L288.52 256.06 Z" fill="#000" filter="url(#ws)" opacity="0.2"/><path d="M293.85 192.06 L338.81 192.06 L335.76 243.11 L305.28 286.54 L265.66 286.54 L265.66 260.64 L303.76 239.3 L316.71 224.06 Z" fill="#000" filter="url(#bd)" opacity="0.25"/><path d="M312.9 201.2 L315.19 210.34" fill="none" stroke="#f4f4f6" stroke-width="1.4" opacity="0.9" stroke-linejoin="round"/><path d="M317.47 224.06 L325.09 221.77 L332.71 224.06" fill="none" stroke="#f4f4f6" stroke-width="1.3" opacity="0.9" stroke-linejoin="round"/><path d="M309.85 234.73 L319 237.01 L329.66 240.82" fill="none" stroke="#f4f4f6" stroke-width="1.3" opacity="0.9" stroke-linejoin="round"/><path d="M303.76 246.92 L312.9 251.49 L322.04 257.59" fill="none" stroke="#f4f4f6" stroke-width="1.3" opacity="0.9" stroke-linejoin="round"/><path d="M297.66 256.06 L303.76 263.68 L308.33 271.3" fill="none" stroke="#f4f4f6" stroke-width="1.3" opacity="0.9" stroke-linejoin="round"/><path d="M286.23 259.11 L290.04 266.73 L291.56 275.11" fill="none" stroke="#f4f4f6" stroke-width="1.3" opacity="0.9" stroke-linejoin="round"/><path d="M335.76 201.2 L340.33 224.06 L337.28 245.4 L326.62 263.68 L312.9 277.4" fill="none" stroke="#f2f2f5" stroke-width="1.2" opacity="0.9" stroke-linejoin="round"/><path d="M319 212.63 L316.71 224.06 L303.76 239.3 L297.66 250.73 L286.23 254.54 L274.8 260.64" fill="none" stroke="#6f77bb" stroke-width="0.9" opacity="0.6" stroke-linejoin="round"/></g><g clip-path="url(#c12)"><rect x="356.4" y="201.2" width="76.4" height="76.2" fill="#e9e0da" /><path d="M398.42 192.06 L441.97 192.06 L441.97 246.92 L409.88 231.68 Z" fill="#ebdfcc" filter="url(#soft)"/><path d="M398.42 192.06 L441.97 192.06 L441.97 246.92 L409.88 231.68 Z" fill="#000" filter="url(#ws)" opacity="0.2"/><path d="M347.23 224.06 L383.14 239.3 L386.96 286.54 L347.23 286.54 Z" fill="#d4cadb" filter="url(#soft)"/><path d="M347.23 224.06 L383.14 239.3 L386.96 286.54 L347.23 286.54 Z" fill="#000" filter="url(#ws)" opacity="0.2"/><path d="M347.23 192.06 L441.97 192.06 L441.97 286.54 L347.23 286.54 Z" fill="#000" filter="url(#bd)" opacity="0.55"/><path d="M347.23 192.06 L441.97 192.06 L441.97 286.54 L347.23 286.54 Z" fill="#000" filter="url(#brd)" opacity="0.7"/><path d="M347.23 192.06 L441.97 192.06 L441.97 286.54 L347.23 286.54 Z" fill="#000" filter="url(#tan)" opacity="0.3"/><rect x="334.6" y="179.3" width="120" height="120" fill="#000" filter="url(#stb)" opacity="0.9" transform="rotate(42 394.6 239.3)"/><rect x="334.6" y="179.3" width="120" height="120" fill="#000" filter="url(#stbl)" opacity="0.5" transform="rotate(42 394.6 239.3)"/></g><g clip-path="url(#c13)"><rect x="435.5" y="199.6" width="78.5" height="77.8" fill="#f9eedb" /><path d="M426.08 190.26 L482.6 190.26 L523.42 238.5 L523.42 286.74 L474.75 286.74 L426.08 246.28 Z" fill="#f4e2c5" filter="url(#soft)"/><path d="M426.08 190.26 L482.6 190.26 L523.42 238.5 L523.42 286.74 L474.75 286.74 L426.08 246.28 Z" fill="#000" filter="url(#ws)" opacity="0.2"/><path d="M426.08 190.26 L523.42 190.26 L523.42 286.74 L426.08 286.74 Z" fill="#000" filter="url(#gd)" opacity="0.45"/><rect x="414.75" y="178.5" width="120" height="120" fill="#000" filter="url(#stt)" opacity="0.45" transform="rotate(35 474.75 238.5)"/></g><rect x="435.2" y="199.3" width="79.1" height="78.4" fill="none" stroke="#c89b1e" stroke-width="2.1" stroke-dasharray="4.2 1.8"/><g clip-path="url(#c14)"><rect x="521.2" y="200.4" width="77.4" height="76" fill="#ece8ec" /><path d="M538.23 208 L583.12 214.08 L594.73 253.6 L579.25 274.12 L544.42 270.32 L536.68 238.4 Z" fill="#e9ddd5" filter="url(#soft)"/><path d="M538.23 208 L583.12 214.08 L594.73 253.6 L579.25 274.12 L544.42 270.32 L536.68 238.4 Z" fill="#000" filter="url(#ws)" opacity="0.25"/><path d="M511.91 191.28 L532.04 191.28 L534.36 223.2 L530.49 249.8 L511.91 259.68 Z" fill="#a2a8d6" filter="url(#soft)"/><path d="M511.91 191.28 L532.04 191.28 L534.36 223.2 L530.49 249.8 L511.91 259.68 Z" fill="#000" filter="url(#ws)" opacity="0.45"/><path d="M576.93 191.28 L607.89 191.28 L607.89 229.28 L586.99 225.48 L581.57 211.8 Z" fill="#afb4db" filter="url(#soft)"/><path d="M576.93 191.28 L607.89 191.28 L607.89 229.28 L586.99 225.48 L581.57 211.8 Z" fill="#000" filter="url(#ws)" opacity="0.45"/><path d="M567.36 236.4 L564.49 241.6 L560.45 244.13 L556.79 243.02 L554.91 238.69 L555.53 232.8 L558.41 227.6 L562.45 225.07 L566.1 226.18 L567.98 230.51 Z" fill="#d2bfae" filter="url(#soft)"/><path d="M567.36 236.4 L564.49 241.6 L560.45 244.13 L556.79 243.02 L554.91 238.69 L555.53 232.8 L558.41 227.6 L562.45 225.07 L566.1 226.18 L567.98 230.51 Z" fill="#000" filter="url(#ws)" opacity="0.2"/><path d="M587.69 255.36 L584.34 258.65 L579.93 259.44 L576.15 257.41 L574.45 253.35 L575.46 248.8 L578.81 245.51 L583.21 244.72 L586.99 246.75 L588.7 250.81 Z" fill="#d2bfae" filter="url(#soft)"/><path d="M587.69 255.36 L584.34 258.65 L579.93 259.44 L576.15 257.41 L574.45 253.35 L575.46 248.8 L578.81 245.51 L583.21 244.72 L586.99 246.75 L588.7 250.81 Z" fill="#000" filter="url(#ws)" opacity="0.2"/><path d="M573.83 262.72 L572.95 265.4 L570.62 267.06 L567.75 267.06 L565.43 265.4 L564.54 262.72 L565.43 260.04 L567.75 258.38 L570.62 258.38 L572.95 260.04 Z" fill="#dccbbd" filter="url(#soft)"/><path d="M573.83 262.72 L572.95 265.4 L570.62 267.06 L567.75 267.06 L565.43 265.4 L564.54 262.72 L565.43 260.04 L567.75 258.38 L570.62 258.38 L572.95 260.04 Z" fill="#000" filter="url(#ws)" opacity="0.1"/><path d="M511.91 191.28 L607.89 191.28 L607.89 285.52 L511.91 285.52 Z" fill="#000" filter="url(#bd)" opacity="0.45"/><path d="M586.99 238.4 L582.56 251.8 L570.95 260.08 L556.59 260.08 L544.98 251.8 L540.55 238.4 L544.98 225 L556.59 216.72 L570.95 216.72 L582.56 225 Z" fill="#000" filter="url(#brd)" opacity="0.5"/><path d="M522.75 204.2 L528.94 215.6 L525.84 230.8 L530.49 242.2 L524.3 253.6" fill="none" stroke="#5e66b0" stroke-width="1.1" opacity="0.7" stroke-linejoin="round"/><path d="M583.12 201.92 L589.31 211.8 L594.73 223.2" fill="none" stroke="#5e66b0" stroke-width="1" opacity="0.6" stroke-linejoin="round"/></g><g clip-path="url(#c15)"><rect x="602.1" y="199.6" width="78.2" height="77" fill="#fbf1df" /><path d="M652.72 233.66 L648.2 238.16 L641 239.11 L633.87 236.15 L629.55 230.4 L629.68 224.06 L634.2 219.56 L641.4 218.61 L648.53 221.57 L652.85 227.32 Z" fill="#f8ead6" filter="url(#soft)"/><path d="M675.36 252.59 L674.2 258.83 L668.81 263.61 L661.23 265.13 L654.36 262.79 L650.83 257.49 L651.99 251.25 L657.39 246.47 L664.96 244.95 L671.83 247.29 Z" fill="#f7e8d3" filter="url(#soft)"/><path d="M632.86 260.76 L629.36 264.44 L622.92 265.4 L615.99 263.29 L611.23 258.91 L610.44 253.94 L613.94 250.26 L620.38 249.3 L627.31 251.41 L632.07 255.79 Z" fill="#f9eedd" filter="url(#soft)"/><path d="M625.56 207.3 L672.48 207.3 L676.39 268.9 L625.56 261.2 Z" fill="#000" filter="url(#gd)" opacity="0.35"/></g><rect x="601.8" y="199.3" width="78.8" height="77.6" fill="none" stroke="#c89b1e" stroke-width="2.1" stroke-dasharray="4.2 1.8"/><rect x="342" y="270.8" width="7" height="2.8" fill="#000" /><rect x="500" y="270.8" width="8.2" height="2.8" fill="#000" /><rect x="666.4" y="270.8" width="8.2" height="2.8" fill="#000" /><text x="184.5" y="310" font-size="12.9" textLength="298.6" lengthAdjust="spacingAndGlyphs">Dex-P/NPA<tspan dy="3" font-size="8.9">2</tspan><tspan dy="-3"> promotes rapid recovery of acute colitis</tspan></text><line x1="6.1" y1="317" x2="679" y2="317" stroke="#000" stroke-width="1.9" /><text x="1.2" y="335.4" font-size="18.3" font-weight="bold">c</text><text x="132.1" y="335.4" font-size="18.3" font-weight="bold">d</text><text x="287.3" y="335.4" font-size="18.3" font-weight="bold">e</text><text x="541" y="335.3" font-size="18.3" font-weight="bold">f</text><rect x="35.6" y="335.2" width="85.9" height="128.1" fill="none" stroke="#000" stroke-width="1.3"/><line x1="31.8" y1="454.6" x2="35.6" y2="454.6" stroke="#000" stroke-width="1.2" /><text x="30.6" y="457.5" font-size="8.6" text-anchor="end" fill="#222">0</text><line x1="31.8" y1="418.5" x2="35.6" y2="418.5" stroke="#000" stroke-width="1.2" /><text x="30.6" y="421.4" font-size="8.6" text-anchor="end" fill="#222">2</text><line x1="31.8" y1="382.4" x2="35.6" y2="382.4" stroke="#000" stroke-width="1.2" /><text x="30.6" y="385.3" font-size="8.6" text-anchor="end" fill="#222">4</text><line x1="31.8" y1="346.3" x2="35.6" y2="346.3" stroke="#000" stroke-width="1.2" /><text x="30.6" y="349.2" font-size="8.6" text-anchor="end" fill="#222">6</text><line x1="37.1" y1="454.6" x2="120.5" y2="454.6" stroke="#333" stroke-width="1" stroke-dasharray="1 2.2"/><line x1="53.2" y1="463.3" x2="53.2" y2="467.5" stroke="#000" stroke-width="1.2" /><line x1="78.4" y1="463.3" x2="78.4" y2="467.5" stroke="#000" stroke-width="1.2" /><line x1="104.2" y1="463.3" x2="104.2" y2="467.5" stroke="#000" stroke-width="1.2" /><line x1="53.2" y1="405.87" x2="53.2" y2="366.16" stroke="#222" stroke-width="1.15" /><line x1="48.8" y1="405.87" x2="57.6" y2="405.87" stroke="#222" stroke-width="1.15" /><line x1="48.8" y1="366.16" x2="57.6" y2="366.16" stroke="#222" stroke-width="1.15" /><circle cx="50.2" cy="364.35" r="2.55" fill="#000" /><circle cx="56.2" cy="364.35" r="2.55" fill="#000" /><circle cx="48.2" cy="400.45" r="2.55" fill="#000" /><circle cx="53.2" cy="400.45" r="2.55" fill="#000" /><circle cx="58.2" cy="400.45" r="2.55" fill="#000" /><line x1="44.8" y1="386.01" x2="61.6" y2="386.01" stroke="#1e1e1e" stroke-width="1.3" /><line x1="78.4" y1="428.43" x2="78.4" y2="386.91" stroke="#00c000" stroke-width="1.15" /><line x1="74" y1="428.43" x2="82.8" y2="428.43" stroke="#00c000" stroke-width="1.15" /><line x1="74" y1="386.91" x2="82.8" y2="386.91" stroke="#00c000" stroke-width="1.15" /><circle cx="78.4" cy="382.4" r="2.55" fill="#00c000" /><circle cx="74.4" cy="400.45" r="2.55" fill="#00c000" /><circle cx="82.4" cy="400.45" r="2.55" fill="#00c000" /><circle cx="78.4" cy="418.5" r="2.55" fill="#00c000" /><circle cx="78.4" cy="436.55" r="2.55" fill="#00c000" /><line x1="70" y1="407.67" x2="86.8" y2="407.67" stroke="#1e1e1e" stroke-width="1.3" /><line x1="104.2" y1="456.41" x2="104.2" y2="409.48" stroke="#ff0000" stroke-width="1.15" /><line x1="99.8" y1="456.41" x2="108.6" y2="456.41" stroke="#ff0000" stroke-width="1.15" /><line x1="99.8" y1="409.48" x2="108.6" y2="409.48" stroke="#ff0000" stroke-width="1.15" /><circle cx="104.2" cy="400.45" r="2.55" fill="#ff0000" /><circle cx="104.2" cy="418.5" r="2.55" fill="#ff0000" /><circle cx="104.2" cy="436.55" r="2.55" fill="#ff0000" /><circle cx="101.2" cy="454.6" r="2.55" fill="#ff0000" /><circle cx="107.2" cy="454.6" r="2.55" fill="#ff0000" /><line x1="95.8" y1="432.94" x2="112.6" y2="432.94" stroke="#1e1e1e" stroke-width="1.3" /><path d="M53.2 354.7 V346.3 H104.2 V393.4" stroke="#000" stroke-width="1.6" fill="none" /><text x="81.1" y="349.9" font-size="16.5" text-anchor="middle" font-weight="bold">*</text><text x="18.2" y="399.25" font-size="9.3" text-anchor="middle" transform="rotate(-90 18.2 399.25)">Histopathology score</text><text x="56.2" y="474.9" font-size="9.4" text-anchor="end" transform="rotate(-40 56.2 474.9)">Control</text><text x="81.4" y="474.9" font-size="9.4" text-anchor="end" transform="rotate(-40 81.4 474.9)">Dex-P/PBS</text><text x="107.2" y="474.9" font-size="9.4" text-anchor="end" transform="rotate(-40 107.2 474.9)">Dex-P/NPA<tspan font-size="7" dy="1.7">2</tspan></text><rect x="175.2" y="334.5" width="87.8" height="130.2" fill="none" stroke="#000" stroke-width="1.3"/><line x1="171.4" y1="464.5" x2="175.2" y2="464.5" stroke="#000" stroke-width="1.2" /><text x="170.2" y="467.4" font-size="8.6" text-anchor="end" fill="#222">0</text><line x1="171.4" y1="440.4" x2="175.2" y2="440.4" stroke="#000" stroke-width="1.2" /><text x="170.2" y="443.3" font-size="8.6" text-anchor="end" fill="#222">5</text><line x1="171.4" y1="416.3" x2="175.2" y2="416.3" stroke="#000" stroke-width="1.2" /><text x="170.2" y="419.2" font-size="8.6" text-anchor="end" fill="#222">10</text><line x1="171.4" y1="392.2" x2="175.2" y2="392.2" stroke="#000" stroke-width="1.2" /><text x="170.2" y="395.1" font-size="8.6" text-anchor="end" fill="#222">15</text><line x1="171.4" y1="368.1" x2="175.2" y2="368.1" stroke="#000" stroke-width="1.2" /><text x="170.2" y="371" font-size="8.6" text-anchor="end" fill="#222">20</text><line x1="171.4" y1="344" x2="175.2" y2="344" stroke="#000" stroke-width="1.2" /><text x="170.2" y="346.9" font-size="8.6" text-anchor="end" fill="#222">25</text><line x1="172.9" y1="452.45" x2="175.2" y2="452.45" stroke="#000" stroke-width="1.1" /><line x1="172.9" y1="428.35" x2="175.2" y2="428.35" stroke="#000" stroke-width="1.1" /><line x1="172.9" y1="404.25" x2="175.2" y2="404.25" stroke="#000" stroke-width="1.1" /><line x1="172.9" y1="380.15" x2="175.2" y2="380.15" stroke="#000" stroke-width="1.1" /><line x1="172.9" y1="356.05" x2="175.2" y2="356.05" stroke="#000" stroke-width="1.1" /><line x1="176.7" y1="464.5" x2="262" y2="464.5" stroke="#333" stroke-width="1" stroke-dasharray="1 2.2"/><line x1="190.2" y1="464.7" x2="190.2" y2="468.9" stroke="#000" stroke-width="1.2" /><line x1="219.2" y1="464.7" x2="219.2" y2="468.9" stroke="#000" stroke-width="1.2" /><line x1="247.8" y1="464.7" x2="247.8" y2="468.9" stroke="#000" stroke-width="1.2" /><line x1="190.2" y1="463.54" x2="190.2" y2="458.23" stroke="#222" stroke-width="1.15" /><line x1="186.3" y1="463.54" x2="194.1" y2="463.54" stroke="#222" stroke-width="1.15" /><line x1="186.3" y1="458.23" x2="194.1" y2="458.23" stroke="#222" stroke-width="1.15" /><circle cx="187.2" cy="457.27" r="2.55" fill="#000" /><circle cx="193.2" cy="459.68" r="2.55" fill="#000" /><circle cx="196.2" cy="461.61" r="2.55" fill="#000" /><circle cx="187.2" cy="463.05" r="2.55" fill="#000" /><circle cx="193.2" cy="463.54" r="2.55" fill="#000" /><line x1="183.1" y1="460.88" x2="197.3" y2="460.88" stroke="#1e1e1e" stroke-width="1.3" /><line x1="219.2" y1="455.82" x2="219.2" y2="411.96" stroke="#00c000" stroke-width="1.15" /><line x1="215.3" y1="455.82" x2="223.1" y2="455.82" stroke="#00c000" stroke-width="1.15" /><line x1="215.3" y1="411.96" x2="223.1" y2="411.96" stroke="#00c000" stroke-width="1.15" /><circle cx="219.2" cy="398.47" r="2.55" fill="#00c000" /><circle cx="219.2" cy="429.31" r="2.55" fill="#00c000" /><circle cx="219.2" cy="438.95" r="2.55" fill="#00c000" /><circle cx="219.2" cy="450.04" r="2.55" fill="#00c000" /><circle cx="219.2" cy="454.86" r="2.55" fill="#00c000" /><line x1="212.1" y1="434.62" x2="226.3" y2="434.62" stroke="#1e1e1e" stroke-width="1.3" /><line x1="247.8" y1="444.26" x2="247.8" y2="379.67" stroke="#ff0000" stroke-width="1.15" /><line x1="243.9" y1="444.26" x2="251.7" y2="444.26" stroke="#ff0000" stroke-width="1.15" /><line x1="243.9" y1="379.67" x2="251.7" y2="379.67" stroke="#ff0000" stroke-width="1.15" /><circle cx="247.8" cy="362.32" r="2.55" fill="#ff0000" /><circle cx="247.8" cy="402.32" r="2.55" fill="#ff0000" /><circle cx="247.8" cy="415.82" r="2.55" fill="#ff0000" /><circle cx="247.8" cy="430.76" r="2.55" fill="#ff0000" /><circle cx="247.8" cy="447.63" r="2.55" fill="#ff0000" /><line x1="240.7" y1="411.96" x2="254.9" y2="411.96" stroke="#1e1e1e" stroke-width="1.3" /><path d="M190.2 442 V348.9 H247.8 V355.2" stroke="#000" stroke-width="1.6" fill="none" /><text x="219.2" y="352.5" font-size="16.5" text-anchor="middle" font-weight="bold">*</text><text x="154.3" y="400" font-size="9.7" text-anchor="middle" transform="rotate(-90 154.3 400)">Relative mRNA levels (ZO-1)</text><text x="193.2" y="476.3" font-size="9.4" text-anchor="end" transform="rotate(-40 193.2 476.3)">Control</text><text x="222.2" y="476.3" font-size="9.4" text-anchor="end" transform="rotate(-40 222.2 476.3)">Dex-P/PBS</text><text x="250.8" y="476.3" font-size="9.4" text-anchor="end" transform="rotate(-40 250.8 476.3)">Dex-P/NPA<tspan font-size="7" dy="1.7">2</tspan></text><rect x="307.3" y="334.5" width="86.4" height="129.1" fill="none" stroke="#000" stroke-width="1.3"/><line x1="303.5" y1="462.5" x2="307.3" y2="462.5" stroke="#000" stroke-width="1.2" /><text x="302.3" y="465.4" font-size="8.6" text-anchor="end" fill="#222">0</text><line x1="303.5" y1="409.4" x2="307.3" y2="409.4" stroke="#000" stroke-width="1.2" /><text x="302.3" y="412.3" font-size="8.6" text-anchor="end" fill="#222">5</text><line x1="303.5" y1="356.3" x2="307.3" y2="356.3" stroke="#000" stroke-width="1.2" /><text x="302.3" y="359.2" font-size="8.6" text-anchor="end" fill="#222">10</text><line x1="305" y1="435.95" x2="307.3" y2="435.95" stroke="#000" stroke-width="1.1" /><line x1="305" y1="382.85" x2="307.3" y2="382.85" stroke="#000" stroke-width="1.1" /><line x1="308.8" y1="462.5" x2="392.7" y2="462.5" stroke="#333" stroke-width="1" stroke-dasharray="1 2.2"/><line x1="321.7" y1="463.6" x2="321.7" y2="467.8" stroke="#000" stroke-width="1.2" /><line x1="350.3" y1="463.6" x2="350.3" y2="467.8" stroke="#000" stroke-width="1.2" /><line x1="378.3" y1="463.6" x2="378.3" y2="467.8" stroke="#000" stroke-width="1.2" /><line x1="321.7" y1="433.83" x2="321.7" y2="350.99" stroke="#222" stroke-width="1.15" /><line x1="317.95" y1="433.83" x2="325.45" y2="433.83" stroke="#222" stroke-width="1.15" /><line x1="317.95" y1="350.99" x2="325.45" y2="350.99" stroke="#222" stroke-width="1.15" /><circle cx="321.7" cy="350.99" r="2.55" fill="#000" /><circle cx="321.7" cy="361.61" r="2.55" fill="#000" /><circle cx="321.7" cy="378.6" r="2.55" fill="#000" /><circle cx="321.7" cy="426.39" r="2.55" fill="#000" /><circle cx="321.7" cy="445.51" r="2.55" fill="#000" /><line x1="314.6" y1="392.41" x2="328.8" y2="392.41" stroke="#1e1e1e" stroke-width="1.3" /><line x1="350.3" y1="447.63" x2="350.3" y2="416.83" stroke="#00c000" stroke-width="1.15" /><line x1="346.55" y1="447.63" x2="354.05" y2="447.63" stroke="#00c000" stroke-width="1.15" /><line x1="346.55" y1="416.83" x2="354.05" y2="416.83" stroke="#00c000" stroke-width="1.15" /><circle cx="347.3" cy="413.65" r="2.55" fill="#00c000" /><circle cx="354.3" cy="421.08" r="2.55" fill="#00c000" /><circle cx="350.3" cy="433.83" r="2.55" fill="#00c000" /><circle cx="350.3" cy="442.32" r="2.55" fill="#00c000" /><circle cx="350.3" cy="451.88" r="2.55" fill="#00c000" /><line x1="343.2" y1="431.7" x2="357.4" y2="431.7" stroke="#1e1e1e" stroke-width="1.3" /><line x1="378.3" y1="461.44" x2="378.3" y2="458.25" stroke="#ff0000" stroke-width="1.15" /><line x1="374.55" y1="461.44" x2="382.05" y2="461.44" stroke="#ff0000" stroke-width="1.15" /><line x1="374.55" y1="458.25" x2="382.05" y2="458.25" stroke="#ff0000" stroke-width="1.15" /><circle cx="375.3" cy="457.19" r="2.55" fill="#ff0000" /><circle cx="378.3" cy="459.31" r="2.55" fill="#ff0000" /><circle cx="381.3" cy="460.38" r="2.55" fill="#ff0000" /><circle cx="376.3" cy="461.44" r="2.55" fill="#ff0000" /><circle cx="380.3" cy="461.44" r="2.55" fill="#ff0000" /><line x1="371.2" y1="459.85" x2="385.4" y2="459.85" stroke="#1e1e1e" stroke-width="1.3" /><path d="M321.7 350 V344.6 H378.3 V442" stroke="#000" stroke-width="1.6" fill="none" /><text x="351.8" y="348.2" font-size="16.5" text-anchor="middle" font-weight="bold">**</text><text x="289" y="400" font-size="9.7" text-anchor="middle" transform="rotate(-90 289 400)">Relative mRNA levels (IL-1β)</text><text x="324.7" y="475.2" font-size="9.4" text-anchor="end" transform="rotate(-40 324.7 475.2)">Control</text><text x="353.3" y="475.2" font-size="9.4" text-anchor="end" transform="rotate(-40 353.3 475.2)">Dex-P/PBS</text><text x="381.3" y="475.2" font-size="9.4" text-anchor="end" transform="rotate(-40 381.3 475.2)">Dex-P/NPA<tspan font-size="7" dy="1.7">2</tspan></text><rect x="437.7" y="336.2" width="85.1" height="128" fill="none" stroke="#000" stroke-width="1.3"/><line x1="433.9" y1="460.6" x2="437.7" y2="460.6" stroke="#000" stroke-width="1.2" /><text x="432.7" y="463.5" font-size="8.6" text-anchor="end" fill="#222">0</text><line x1="433.9" y1="429.5" x2="437.7" y2="429.5" stroke="#000" stroke-width="1.2" /><text x="432.7" y="432.4" font-size="8.6" text-anchor="end" fill="#222">1</text><line x1="433.9" y1="398.4" x2="437.7" y2="398.4" stroke="#000" stroke-width="1.2" /><text x="432.7" y="401.3" font-size="8.6" text-anchor="end" fill="#222">2</text><line x1="433.9" y1="367.3" x2="437.7" y2="367.3" stroke="#000" stroke-width="1.2" /><text x="432.7" y="370.2" font-size="8.6" text-anchor="end" fill="#222">3</text><line x1="433.9" y1="336.2" x2="437.7" y2="336.2" stroke="#000" stroke-width="1.2" /><text x="432.7" y="339.1" font-size="8.6" text-anchor="end" fill="#222">4</text><line x1="435.4" y1="445.05" x2="437.7" y2="445.05" stroke="#000" stroke-width="1.1" /><line x1="435.4" y1="413.95" x2="437.7" y2="413.95" stroke="#000" stroke-width="1.1" /><line x1="435.4" y1="382.85" x2="437.7" y2="382.85" stroke="#000" stroke-width="1.1" /><line x1="435.4" y1="351.75" x2="437.7" y2="351.75" stroke="#000" stroke-width="1.1" /><line x1="439.2" y1="460.6" x2="521.8" y2="460.6" stroke="#333" stroke-width="1" stroke-dasharray="1 2.2"/><line x1="451.4" y1="464.2" x2="451.4" y2="468.4" stroke="#000" stroke-width="1.2" /><line x1="479.6" y1="464.2" x2="479.6" y2="468.4" stroke="#000" stroke-width="1.2" /><line x1="508" y1="464.2" x2="508" y2="468.4" stroke="#000" stroke-width="1.2" /><line x1="451.4" y1="441.32" x2="451.4" y2="382.85" stroke="#222" stroke-width="1.15" /><line x1="447.95" y1="441.32" x2="454.85" y2="441.32" stroke="#222" stroke-width="1.15" /><line x1="447.95" y1="382.85" x2="454.85" y2="382.85" stroke="#222" stroke-width="1.15" /><circle cx="451.4" cy="373.52" r="2.55" fill="#000" /><circle cx="451.4" cy="388.14" r="2.55" fill="#000" /><circle cx="446.4" cy="429.5" r="2.55" fill="#000" /><circle cx="456.4" cy="431.06" r="2.55" fill="#000" /><circle cx="451.4" cy="437.9" r="2.55" fill="#000" /><line x1="444.25" y1="412.08" x2="458.55" y2="412.08" stroke="#1e1e1e" stroke-width="1.3" /><line x1="479.6" y1="455.94" x2="479.6" y2="427.01" stroke="#00c000" stroke-width="1.15" /><line x1="476.15" y1="455.94" x2="483.05" y2="455.94" stroke="#00c000" stroke-width="1.15" /><line x1="476.15" y1="427.01" x2="483.05" y2="427.01" stroke="#00c000" stroke-width="1.15" /><circle cx="479.6" cy="423.28" r="2.55" fill="#00c000" /><circle cx="479.6" cy="431.06" r="2.55" fill="#00c000" /><circle cx="479.6" cy="443.5" r="2.55" fill="#00c000" /><circle cx="483.6" cy="453.76" r="2.55" fill="#00c000" /><circle cx="475.6" cy="456.56" r="2.55" fill="#00c000" /><line x1="472.45" y1="441.32" x2="486.75" y2="441.32" stroke="#1e1e1e" stroke-width="1.3" /><line x1="508" y1="460.6" x2="508" y2="451.89" stroke="#ff0000" stroke-width="1.15" /><line x1="504.55" y1="460.6" x2="511.45" y2="460.6" stroke="#ff0000" stroke-width="1.15" /><line x1="504.55" y1="451.89" x2="511.45" y2="451.89" stroke="#ff0000" stroke-width="1.15" /><circle cx="504" cy="449.09" r="2.55" fill="#ff0000" /><circle cx="512" cy="454.38" r="2.55" fill="#ff0000" /><circle cx="504" cy="459.05" r="2.55" fill="#ff0000" /><circle cx="508" cy="459.67" r="2.55" fill="#ff0000" /><circle cx="512" cy="459.98" r="2.55" fill="#ff0000" /><line x1="500.85" y1="456.25" x2="515.15" y2="456.25" stroke="#1e1e1e" stroke-width="1.3" /><path d="M451.4 364.7 V348.2 H508 V445.2" stroke="#000" stroke-width="1.6" fill="none" /><text x="481.5" y="351.8" font-size="16.5" text-anchor="middle" font-weight="bold">**</text><text x="418.8" y="400" font-size="9.7" text-anchor="middle" transform="rotate(-90 418.8 400)">Relative mRNA levels (IL-6)</text><text x="454.4" y="475.8" font-size="9.4" text-anchor="end" transform="rotate(-40 454.4 475.8)">Control</text><text x="482.6" y="475.8" font-size="9.4" text-anchor="end" transform="rotate(-40 482.6 475.8)">Dex-P/PBS</text><text x="511" y="475.8" font-size="9.4" text-anchor="end" transform="rotate(-40 511 475.8)">Dex-P/NPA<tspan font-size="7" dy="1.7">2</tspan></text><rect x="578.5" y="335.7" width="85.3" height="128.8" fill="none" stroke="#000" stroke-width="1.3"/><line x1="574.7" y1="464.5" x2="578.5" y2="464.5" stroke="#000" stroke-width="1.2" /><text x="573.5" y="467.4" font-size="8.6" text-anchor="end" fill="#222">0</text><line x1="574.7" y1="448.4" x2="578.5" y2="448.4" stroke="#000" stroke-width="1.2" /><text x="573.5" y="451.3" font-size="8.6" text-anchor="end" fill="#222">5</text><line x1="574.7" y1="432.3" x2="578.5" y2="432.3" stroke="#000" stroke-width="1.2" /><text x="573.5" y="435.2" font-size="8.6" text-anchor="end" fill="#222">10</text><line x1="574.7" y1="416.2" x2="578.5" y2="416.2" stroke="#000" stroke-width="1.2" /><text x="573.5" y="419.1" font-size="8.6" text-anchor="end" fill="#222">15</text><line x1="574.7" y1="400.1" x2="578.5" y2="400.1" stroke="#000" stroke-width="1.2" /><text x="573.5" y="403" font-size="8.6" text-anchor="end" fill="#222">20</text><line x1="574.7" y1="384" x2="578.5" y2="384" stroke="#000" stroke-width="1.2" /><text x="573.5" y="386.9" font-size="8.6" text-anchor="end" fill="#222">25</text><line x1="574.7" y1="367.9" x2="578.5" y2="367.9" stroke="#000" stroke-width="1.2" /><text x="573.5" y="370.8" font-size="8.6" text-anchor="end" fill="#222">30</text><line x1="574.7" y1="351.8" x2="578.5" y2="351.8" stroke="#000" stroke-width="1.2" /><text x="573.5" y="354.7" font-size="8.6" text-anchor="end" fill="#222">35</text><line x1="574.7" y1="335.7" x2="578.5" y2="335.7" stroke="#000" stroke-width="1.2" /><text x="573.5" y="338.6" font-size="8.6" text-anchor="end" fill="#222">40</text><line x1="576.2" y1="456.45" x2="578.5" y2="456.45" stroke="#000" stroke-width="1.1" /><line x1="576.2" y1="440.35" x2="578.5" y2="440.35" stroke="#000" stroke-width="1.1" /><line x1="576.2" y1="424.25" x2="578.5" y2="424.25" stroke="#000" stroke-width="1.1" /><line x1="576.2" y1="408.15" x2="578.5" y2="408.15" stroke="#000" stroke-width="1.1" /><line x1="576.2" y1="392.05" x2="578.5" y2="392.05" stroke="#000" stroke-width="1.1" /><line x1="576.2" y1="375.95" x2="578.5" y2="375.95" stroke="#000" stroke-width="1.1" /><line x1="576.2" y1="359.85" x2="578.5" y2="359.85" stroke="#000" stroke-width="1.1" /><line x1="576.2" y1="343.75" x2="578.5" y2="343.75" stroke="#000" stroke-width="1.1" /><line x1="593.3" y1="464.5" x2="593.3" y2="468.7" stroke="#000" stroke-width="1.2" /><line x1="621.5" y1="464.5" x2="621.5" y2="468.7" stroke="#000" stroke-width="1.2" /><line x1="650" y1="464.5" x2="650" y2="468.7" stroke="#000" stroke-width="1.2" /><line x1="593.3" y1="463.86" x2="593.3" y2="436.81" stroke="#222" stroke-width="1.15" /><line x1="589.8" y1="463.86" x2="596.8" y2="463.86" stroke="#222" stroke-width="1.15" /><line x1="589.8" y1="436.81" x2="596.8" y2="436.81" stroke="#222" stroke-width="1.15" /><circle cx="593.3" cy="430.69" r="2.55" fill="#000" /><circle cx="593.3" cy="441.96" r="2.55" fill="#000" /><circle cx="589.3" cy="454.84" r="2.55" fill="#000" /><circle cx="597.3" cy="461.28" r="2.55" fill="#000" /><circle cx="593.3" cy="461.92" r="2.55" fill="#000" /><line x1="586.3" y1="450.33" x2="600.3" y2="450.33" stroke="#1e1e1e" stroke-width="1.3" /><line x1="621.5" y1="461.28" x2="621.5" y2="422.64" stroke="#00c000" stroke-width="1.15" /><line x1="618" y1="461.28" x2="625" y2="461.28" stroke="#00c000" stroke-width="1.15" /><line x1="618" y1="422.64" x2="625" y2="422.64" stroke="#00c000" stroke-width="1.15" /><circle cx="621.5" cy="416.2" r="2.55" fill="#00c000" /><circle cx="617.5" cy="433.59" r="2.55" fill="#00c000" /><circle cx="625.5" cy="437.77" r="2.55" fill="#00c000" /><circle cx="625.5" cy="457.09" r="2.55" fill="#00c000" /><circle cx="617.5" cy="463.86" r="2.55" fill="#00c000" /><line x1="614.5" y1="441.96" x2="628.5" y2="441.96" stroke="#1e1e1e" stroke-width="1.3" /><line x1="650" y1="423.61" x2="650" y2="363.07" stroke="#ff0000" stroke-width="1.15" /><line x1="646.5" y1="423.61" x2="653.5" y2="423.61" stroke="#ff0000" stroke-width="1.15" /><line x1="646.5" y1="363.07" x2="653.5" y2="363.07" stroke="#ff0000" stroke-width="1.15" /><circle cx="650" cy="365.65" r="2.55" fill="#ff0000" /><circle cx="654" cy="375.95" r="2.55" fill="#ff0000" /><circle cx="646" cy="379.49" r="2.55" fill="#ff0000" /><circle cx="650" cy="403.32" r="2.55" fill="#ff0000" /><circle cx="650" cy="441.32" r="2.55" fill="#ff0000" /><line x1="643" y1="393.34" x2="657" y2="393.34" stroke="#1e1e1e" stroke-width="1.3" /><path d="M593.3 409.2 V345.3 H650 V348.9" stroke="#000" stroke-width="1.6" fill="none" /><text x="623" y="348.9" font-size="16.5" text-anchor="middle" font-weight="bold">**</text><path d="M621.5 408 V357.3 H650 V360.5" stroke="#000" stroke-width="1.6" fill="none" /><text x="635.7" y="360.9" font-size="16.5" text-anchor="middle" font-weight="bold">*</text><text x="553.3" y="400" font-size="9.7" text-anchor="middle" transform="rotate(-90 553.3 400)">Relative mRNA levels (IL-10)</text><text x="596.3" y="476.1" font-size="9.4" text-anchor="end" transform="rotate(-40 596.3 476.1)">Control</text><text x="624.5" y="476.1" font-size="9.4" text-anchor="end" transform="rotate(-40 624.5 476.1)">Dex-P/PBS</text><text x="653" y="476.1" font-size="9.4" text-anchor="end" transform="rotate(-40 653 476.1)">Dex-P/NPA<tspan font-size="7" dy="1.7">2</tspan></text><text x="1.4" y="530.5" font-size="18.3" font-weight="bold">g</text><text x="139.9" y="531.9" font-size="18" font-weight="bold">h</text><rect x="33.4" y="532.5" width="87.3" height="129.5" fill="none" stroke="#000" stroke-width="1.3"/><line x1="29.6" y1="656.4" x2="33.4" y2="656.4" stroke="#000" stroke-width="1.2" /><text x="28.4" y="659.3" font-size="8.6" text-anchor="end" fill="#222">200</text><line x1="29.6" y1="628.9" x2="33.4" y2="628.9" stroke="#000" stroke-width="1.2" /><text x="28.4" y="631.8" font-size="8.6" text-anchor="end" fill="#222">300</text><line x1="29.6" y1="601.4" x2="33.4" y2="601.4" stroke="#000" stroke-width="1.2" /><text x="28.4" y="604.3" font-size="8.6" text-anchor="end" fill="#222">400</text><line x1="29.6" y1="573.9" x2="33.4" y2="573.9" stroke="#000" stroke-width="1.2" /><text x="28.4" y="576.8" font-size="8.6" text-anchor="end" fill="#222">500</text><line x1="29.6" y1="546.4" x2="33.4" y2="546.4" stroke="#000" stroke-width="1.2" /><text x="28.4" y="549.3" font-size="8.6" text-anchor="end" fill="#222">600</text><line x1="31.1" y1="642.65" x2="33.4" y2="642.65" stroke="#000" stroke-width="1.1" /><line x1="31.1" y1="615.15" x2="33.4" y2="615.15" stroke="#000" stroke-width="1.1" /><line x1="31.1" y1="587.65" x2="33.4" y2="587.65" stroke="#000" stroke-width="1.1" /><line x1="31.1" y1="560.15" x2="33.4" y2="560.15" stroke="#000" stroke-width="1.1" /><line x1="31.1" y1="532.65" x2="33.4" y2="532.65" stroke="#000" stroke-width="1.1" /><line x1="44.5" y1="662" x2="44.5" y2="666.2" stroke="#000" stroke-width="1.2" /><line x1="66.3" y1="662" x2="66.3" y2="666.2" stroke="#000" stroke-width="1.2" /><line x1="88.1" y1="662" x2="88.1" y2="666.2" stroke="#000" stroke-width="1.2" /><line x1="109.4" y1="662" x2="109.4" y2="666.2" stroke="#000" stroke-width="1.2" /><line x1="44.5" y1="647.6" x2="44.5" y2="615.7" stroke="#222" stroke-width="1.15" /><line x1="41.75" y1="647.6" x2="47.25" y2="647.6" stroke="#222" stroke-width="1.15" /><line x1="41.75" y1="615.7" x2="47.25" y2="615.7" stroke="#222" stroke-width="1.15" /><circle cx="44.5" cy="609.1" r="2.55" fill="#000" /><circle cx="47.5" cy="626.98" r="2.55" fill="#000" /><circle cx="41.5" cy="631.65" r="2.55" fill="#000" /><circle cx="44.5" cy="639.35" r="2.55" fill="#000" /><circle cx="44.5" cy="653.38" r="2.55" fill="#000" /><line x1="39" y1="631.65" x2="50" y2="631.65" stroke="#1e1e1e" stroke-width="1.3" /><line x1="66.3" y1="648.42" x2="66.3" y2="614.6" stroke="#00c000" stroke-width="1.15" /><line x1="63.55" y1="648.42" x2="69.05" y2="648.42" stroke="#00c000" stroke-width="1.15" /><line x1="63.55" y1="614.6" x2="69.05" y2="614.6" stroke="#00c000" stroke-width="1.15" /><circle cx="66.3" cy="601.67" r="2.55" fill="#00c000" /><circle cx="63.3" cy="637.15" r="2.55" fill="#00c000" /><circle cx="69.3" cy="639.35" r="2.55" fill="#00c000" /><circle cx="66.3" cy="640.45" r="2.55" fill="#00c000" /><circle cx="63.3" cy="643.2" r="2.55" fill="#00c000" /><line x1="60.8" y1="631.65" x2="71.8" y2="631.65" stroke="#1e1e1e" stroke-width="1.3" /><line x1="88.1" y1="613.23" x2="88.1" y2="585.72" stroke="#ff0000" stroke-width="1.15" /><line x1="85.35" y1="613.23" x2="90.85" y2="613.23" stroke="#ff0000" stroke-width="1.15" /><line x1="85.35" y1="585.72" x2="90.85" y2="585.72" stroke="#ff0000" stroke-width="1.15" /><circle cx="88.1" cy="581.05" r="2.55" fill="#ff0000" /><circle cx="88.1" cy="592.32" r="2.55" fill="#ff0000" /><circle cx="88.1" cy="599.75" r="2.55" fill="#ff0000" /><circle cx="88.1" cy="606.9" r="2.55" fill="#ff0000" /><circle cx="88.1" cy="617.35" r="2.55" fill="#ff0000" /><line x1="82.6" y1="599.48" x2="93.6" y2="599.48" stroke="#1e1e1e" stroke-width="1.3" /><line x1="109.4" y1="581.6" x2="109.4" y2="553.82" stroke="#6464f0" stroke-width="1.15" /><line x1="106.65" y1="581.6" x2="112.15" y2="581.6" stroke="#6464f0" stroke-width="1.15" /><line x1="106.65" y1="553.82" x2="112.15" y2="553.82" stroke="#6464f0" stroke-width="1.15" /><circle cx="106.4" cy="553.55" r="2.55" fill="#6464f0" /><circle cx="112.4" cy="556.02" r="2.55" fill="#6464f0" /><circle cx="106.4" cy="566.47" r="2.55" fill="#6464f0" /><circle cx="112.4" cy="567.3" r="2.55" fill="#6464f0" /><circle cx="109.4" cy="590.12" r="2.55" fill="#6464f0" /><line x1="103.9" y1="566.75" x2="114.9" y2="566.75" stroke="#1e1e1e" stroke-width="1.3" /><path d="M66.3 596 V569.6 H88.1 V577" stroke="#000" stroke-width="1.6" fill="none" /><text x="76.6" y="573.2" font-size="16.5" text-anchor="middle" font-weight="bold">*</text><path d="M88.1 569.6 V543 H109.4 V549.5" stroke="#000" stroke-width="1.6" fill="none" /><text x="98.6" y="546.6" font-size="16.5" text-anchor="middle" font-weight="bold">*</text><text x="7.2" y="597" font-size="9.7" text-anchor="middle" transform="rotate(-90 7.2 597)">Observed OTUs</text><text x="47.5" y="673.6" font-size="9.4" text-anchor="end" transform="rotate(-40 47.5 673.6)">Control</text><text x="69.3" y="673.6" font-size="9.4" text-anchor="end" transform="rotate(-40 69.3 673.6)">Dex-P/PBS</text><text x="91.1" y="673.6" font-size="9.4" text-anchor="end" transform="rotate(-40 91.1 673.6)">Dex-P/NPA<tspan font-size="7" dy="1.7">2</tspan></text><text x="112.4" y="673.6" font-size="9.4" text-anchor="end" transform="rotate(-40 112.4 673.6)">Healthy</text><rect x="173.4" y="532.5" width="87.2" height="130.8" fill="none" stroke="#000" stroke-width="1.3"/><line x1="169.6" y1="651.02" x2="173.4" y2="651.02" stroke="#000" stroke-width="1.2" /><text x="168.4" y="653.92" font-size="8.6" text-anchor="end" fill="#222">300</text><line x1="169.6" y1="621.39" x2="173.4" y2="621.39" stroke="#000" stroke-width="1.2" /><text x="168.4" y="624.29" font-size="8.6" text-anchor="end" fill="#222">400</text><line x1="169.6" y1="591.76" x2="173.4" y2="591.76" stroke="#000" stroke-width="1.2" /><text x="168.4" y="594.66" font-size="8.6" text-anchor="end" fill="#222">500</text><line x1="169.6" y1="562.13" x2="173.4" y2="562.13" stroke="#000" stroke-width="1.2" /><text x="168.4" y="565.03" font-size="8.6" text-anchor="end" fill="#222">600</text><line x1="169.6" y1="532.5" x2="173.4" y2="532.5" stroke="#000" stroke-width="1.2" /><text x="168.4" y="535.4" font-size="8.6" text-anchor="end" fill="#222">700</text><line x1="171.1" y1="636.21" x2="173.4" y2="636.21" stroke="#000" stroke-width="1.1" /><line x1="171.1" y1="606.58" x2="173.4" y2="606.58" stroke="#000" stroke-width="1.1" /><line x1="171.1" y1="576.95" x2="173.4" y2="576.95" stroke="#000" stroke-width="1.1" /><line x1="171.1" y1="547.32" x2="173.4" y2="547.32" stroke="#000" stroke-width="1.1" /><line x1="184.6" y1="663.3" x2="184.6" y2="667.5" stroke="#000" stroke-width="1.2" /><line x1="206.4" y1="663.3" x2="206.4" y2="667.5" stroke="#000" stroke-width="1.2" /><line x1="228" y1="663.3" x2="228" y2="667.5" stroke="#000" stroke-width="1.2" /><line x1="250" y1="663.3" x2="250" y2="667.5" stroke="#000" stroke-width="1.2" /><line x1="184.6" y1="647.46" x2="184.6" y2="622.87" stroke="#222" stroke-width="1.15" /><line x1="181.9" y1="647.46" x2="187.3" y2="647.46" stroke="#222" stroke-width="1.15" /><line x1="181.9" y1="622.87" x2="187.3" y2="622.87" stroke="#222" stroke-width="1.15" /><circle cx="181.6" cy="623.76" r="2.55" fill="#000" /><circle cx="187.6" cy="625.83" r="2.55" fill="#000" /><circle cx="184.6" cy="631.76" r="2.55" fill="#000" /><circle cx="184.6" cy="643.61" r="2.55" fill="#000" /><circle cx="184.6" cy="653.09" r="2.55" fill="#000" /><line x1="179.1" y1="635.02" x2="190.1" y2="635.02" stroke="#1e1e1e" stroke-width="1.3" /><line x1="206.4" y1="656.35" x2="206.4" y2="617.24" stroke="#00c000" stroke-width="1.15" /><line x1="203.7" y1="656.35" x2="209.1" y2="656.35" stroke="#00c000" stroke-width="1.15" /><line x1="203.7" y1="617.24" x2="209.1" y2="617.24" stroke="#00c000" stroke-width="1.15" /><circle cx="206.4" cy="602.13" r="2.55" fill="#00c000" /><circle cx="203.4" cy="644.5" r="2.55" fill="#00c000" /><circle cx="209.4" cy="645.09" r="2.55" fill="#00c000" /><circle cx="206.4" cy="645.69" r="2.55" fill="#00c000" /><circle cx="203.4" cy="649.24" r="2.55" fill="#00c000" /><line x1="200.9" y1="636.8" x2="211.9" y2="636.8" stroke="#1e1e1e" stroke-width="1.3" /><line x1="228" y1="616.06" x2="228" y2="591.46" stroke="#ff0000" stroke-width="1.15" /><line x1="225.3" y1="616.06" x2="230.7" y2="616.06" stroke="#ff0000" stroke-width="1.15" /><line x1="225.3" y1="591.46" x2="230.7" y2="591.46" stroke="#ff0000" stroke-width="1.15" /><circle cx="228" cy="585.83" r="2.55" fill="#ff0000" /><circle cx="225" cy="597.69" r="2.55" fill="#ff0000" /><circle cx="231" cy="603.02" r="2.55" fill="#ff0000" /><circle cx="228" cy="609.54" r="2.55" fill="#ff0000" /><circle cx="228" cy="620.2" r="2.55" fill="#ff0000" /><line x1="222.5" y1="603.61" x2="233.5" y2="603.61" stroke="#1e1e1e" stroke-width="1.3" /><line x1="250" y1="582.87" x2="250" y2="560.65" stroke="#6464f0" stroke-width="1.15" /><line x1="247.3" y1="582.87" x2="252.7" y2="582.87" stroke="#6464f0" stroke-width="1.15" /><line x1="247.3" y1="560.65" x2="252.7" y2="560.65" stroke="#6464f0" stroke-width="1.15" /><circle cx="247" cy="557.98" r="2.55" fill="#6464f0" /><circle cx="253" cy="561.24" r="2.55" fill="#6464f0" /><circle cx="247" cy="573.09" r="2.55" fill="#6464f0" /><circle cx="253" cy="577.54" r="2.55" fill="#6464f0" /><circle cx="250" cy="585.83" r="2.55" fill="#6464f0" /><line x1="244.5" y1="571.02" x2="255.5" y2="571.02" stroke="#1e1e1e" stroke-width="1.3" /><path d="M206.4 598 V571.7 H228 V579" stroke="#000" stroke-width="1.6" fill="none" /><text x="217.4" y="575.3" font-size="16.5" text-anchor="middle" font-weight="bold">*</text><path d="M228 571.7 V545.2 H250 V552.6" stroke="#000" stroke-width="1.6" fill="none" /><text x="239.4" y="548.8" font-size="16.5" text-anchor="middle" font-weight="bold">*</text><text x="145.5" y="598" font-size="9.7" text-anchor="middle" transform="rotate(-90 145.5 598)">Chao index</text><text x="187.6" y="674.9" font-size="9.4" text-anchor="end" transform="rotate(-40 187.6 674.9)">Control</text><text x="209.4" y="674.9" font-size="9.4" text-anchor="end" transform="rotate(-40 209.4 674.9)">Dex-P/PBS</text><text x="231" y="674.9" font-size="9.4" text-anchor="end" transform="rotate(-40 231 674.9)">Dex-P/NPA<tspan font-size="7" dy="1.7">2</tspan></text><text x="253" y="674.9" font-size="9.4" text-anchor="end" transform="rotate(-40 253 674.9)">Healthy</text><rect x="306.3" y="532.5" width="87.2" height="130.2" fill="none" stroke="#000" stroke-width="1.3"/><line x1="302.5" y1="622.9" x2="306.3" y2="622.9" stroke="#000" stroke-width="1.2" /><text x="301.3" y="625.8" font-size="8.6" text-anchor="end" fill="#222">3</text><line x1="302.5" y1="573.2" x2="306.3" y2="573.2" stroke="#000" stroke-width="1.2" /><text x="301.3" y="576.1" font-size="8.6" text-anchor="end" fill="#222">4</text><line x1="304" y1="647.75" x2="306.3" y2="647.75" stroke="#000" stroke-width="1.1" /><line x1="304" y1="598.05" x2="306.3" y2="598.05" stroke="#000" stroke-width="1.1" /><line x1="304" y1="548.35" x2="306.3" y2="548.35" stroke="#000" stroke-width="1.1" /><line x1="317.5" y1="662.7" x2="317.5" y2="666.9" stroke="#000" stroke-width="1.2" /><line x1="339" y1="662.7" x2="339" y2="666.9" stroke="#000" stroke-width="1.2" /><line x1="360.9" y1="662.7" x2="360.9" y2="666.9" stroke="#000" stroke-width="1.2" /><line x1="382.5" y1="662.7" x2="382.5" y2="666.9" stroke="#000" stroke-width="1.2" /><line x1="317.5" y1="616.94" x2="317.5" y2="594.07" stroke="#222" stroke-width="1.15" /><line x1="314.75" y1="616.94" x2="320.25" y2="616.94" stroke="#222" stroke-width="1.15" /><line x1="314.75" y1="594.07" x2="320.25" y2="594.07" stroke="#222" stroke-width="1.15" /><circle cx="317.5" cy="585.62" r="2.55" fill="#000" /><circle cx="314.5" cy="607" r="2.55" fill="#000" /><circle cx="320.5" cy="610.48" r="2.55" fill="#000" /><circle cx="317.5" cy="611.97" r="2.55" fill="#000" /><circle cx="314.5" cy="615.45" r="2.55" fill="#000" /><line x1="312.2" y1="605.5" x2="322.8" y2="605.5" stroke="#1e1e1e" stroke-width="1.3" /><line x1="339" y1="654.21" x2="339" y2="617.93" stroke="#00c000" stroke-width="1.15" /><line x1="336.25" y1="654.21" x2="341.75" y2="654.21" stroke="#00c000" stroke-width="1.15" /><line x1="336.25" y1="617.93" x2="341.75" y2="617.93" stroke="#00c000" stroke-width="1.15" /><circle cx="339" cy="608.98" r="2.55" fill="#00c000" /><circle cx="339" cy="627.87" r="2.55" fill="#00c000" /><circle cx="339" cy="640.3" r="2.55" fill="#00c000" /><circle cx="342" cy="651.73" r="2.55" fill="#00c000" /><circle cx="336" cy="654.21" r="2.55" fill="#00c000" /><line x1="333.7" y1="636.32" x2="344.3" y2="636.32" stroke="#1e1e1e" stroke-width="1.3" /><line x1="360.9" y1="614.45" x2="360.9" y2="588.11" stroke="#ff0000" stroke-width="1.15" /><line x1="358.15" y1="614.45" x2="363.65" y2="614.45" stroke="#ff0000" stroke-width="1.15" /><line x1="358.15" y1="588.11" x2="363.65" y2="588.11" stroke="#ff0000" stroke-width="1.15" /><circle cx="360.9" cy="584.63" r="2.55" fill="#ff0000" /><circle cx="360.9" cy="592.09" r="2.55" fill="#ff0000" /><circle cx="360.9" cy="600.54" r="2.55" fill="#ff0000" /><circle cx="360.9" cy="607" r="2.55" fill="#ff0000" /><circle cx="360.9" cy="620.42" r="2.55" fill="#ff0000" /><line x1="355.6" y1="601.03" x2="366.2" y2="601.03" stroke="#1e1e1e" stroke-width="1.3" /><line x1="382.5" y1="607.99" x2="382.5" y2="568.23" stroke="#6464f0" stroke-width="1.15" /><line x1="379.75" y1="607.99" x2="385.25" y2="607.99" stroke="#6464f0" stroke-width="1.15" /><line x1="379.75" y1="568.23" x2="385.25" y2="568.23" stroke="#6464f0" stroke-width="1.15" /><circle cx="382.5" cy="566.74" r="2.55" fill="#6464f0" /><circle cx="382.5" cy="573.2" r="2.55" fill="#6464f0" /><circle cx="382.5" cy="585.62" r="2.55" fill="#6464f0" /><circle cx="385.5" cy="605.5" r="2.55" fill="#6464f0" /><circle cx="379.5" cy="608.98" r="2.55" fill="#6464f0" /><line x1="377.2" y1="588.11" x2="387.8" y2="588.11" stroke="#1e1e1e" stroke-width="1.3" /><path d="M339 596 V566.8 H360.9 V577" stroke="#000" stroke-width="1.6" fill="none" /><text x="349.7" y="570.4" font-size="16.5" text-anchor="middle" font-weight="bold">*</text><text x="289.5" y="598" font-size="9.7" text-anchor="middle" transform="rotate(-90 289.5 598)">Shannon diversity index</text><text x="320.5" y="674.3" font-size="9.4" text-anchor="end" transform="rotate(-40 320.5 674.3)">Control</text><text x="342" y="674.3" font-size="9.4" text-anchor="end" transform="rotate(-40 342 674.3)">Dex-P/PBS</text><text x="363.9" y="674.3" font-size="9.4" text-anchor="end" transform="rotate(-40 363.9 674.3)">Dex-P/NPA<tspan font-size="7" dy="1.7">2</tspan></text><text x="385.5" y="674.3" font-size="9.4" text-anchor="end" transform="rotate(-40 385.5 674.3)">Healthy</text><text x="416.7" y="532.1" font-size="18" font-weight="bold">i</text><rect x="472.5" y="521" width="8.4" height="8.4" fill="#4a74b4" /><rect x="480.6" y="521" width="8.4" height="8.4" fill="#e6f5ed" /><rect x="488.7" y="521" width="8.4" height="8.4" fill="#f4fbd4" /><rect x="496.8" y="521" width="8.4" height="8.4" fill="#f4fbd4" /><rect x="504.9" y="521" width="8.4" height="8.4" fill="#feeba0" /><rect x="513" y="521" width="8.4" height="8.4" fill="#fff4ae" /><rect x="521.1" y="521" width="8.4" height="8.4" fill="#fdc677" /><rect x="529.2" y="521" width="8.4" height="8.4" fill="#feeba0" /><rect x="537.3" y="521" width="8.4" height="8.4" fill="#fca75e" /><rect x="545.4" y="521" width="8.4" height="8.4" fill="#fdfec3" /><rect x="553.5" y="521" width="8.4" height="8.4" fill="#fdfec3" /><rect x="561.6" y="521" width="8.4" height="8.4" fill="#fffdbc" /><rect x="569.7" y="521" width="8.4" height="8.4" fill="#f99455" /><rect x="577.8" y="521" width="8.4" height="8.4" fill="#fdb76a" /><rect x="585.9" y="521" width="8.4" height="8.4" fill="#fecd7e" /><rect x="594" y="521" width="8.4" height="8.4" fill="#fff4ae" /><rect x="602.1" y="521" width="8.4" height="8.4" fill="#f88b51" /><rect x="610.2" y="521" width="8.4" height="8.4" fill="#fdc677" /><rect x="618.3" y="521" width="8.4" height="8.4" fill="#fdc677" /><rect x="626.4" y="521" width="8.1" height="8.4" fill="#fee699" /><rect x="472.5" y="529.1" width="8.4" height="8.4" fill="#e6f5ed" /><rect x="480.6" y="529.1" width="8.4" height="8.4" fill="#4a74b4" /><rect x="488.7" y="529.1" width="8.4" height="8.4" fill="#fdfec3" /><rect x="496.8" y="529.1" width="8.4" height="8.4" fill="#e2f4f5" /><rect x="504.9" y="529.1" width="8.4" height="8.4" fill="#feeba0" /><rect x="513" y="529.1" width="8.4" height="8.4" fill="#fff4ae" /><rect x="521.1" y="529.1" width="8.4" height="8.4" fill="#feeba0" /><rect x="529.2" y="529.1" width="8.4" height="8.4" fill="#feeba0" /><rect x="537.3" y="529.1" width="8.4" height="8.4" fill="#fecd7e" /><rect x="545.4" y="529.1" width="8.4" height="8.4" fill="#fffdbc" /><rect x="553.5" y="529.1" width="8.4" height="8.4" fill="#fffdbc" /><rect x="561.6" y="529.1" width="8.4" height="8.4" fill="#fdfec3" /><rect x="569.7" y="529.1" width="8.4" height="8.4" fill="#f99455" /><rect x="577.8" y="529.1" width="8.4" height="8.4" fill="#fdbe70" /><rect x="585.9" y="529.1" width="8.4" height="8.4" fill="#fdb76a" /><rect x="594" y="529.1" width="8.4" height="8.4" fill="#feefa7" /><rect x="602.1" y="529.1" width="8.4" height="8.4" fill="#f7814c" /><rect x="610.2" y="529.1" width="8.4" height="8.4" fill="#fdbe70" /><rect x="618.3" y="529.1" width="8.4" height="8.4" fill="#fee293" /><rect x="626.4" y="529.1" width="8.1" height="8.4" fill="#fee699" /><rect x="472.5" y="537.2" width="8.4" height="8.4" fill="#f4fbd4" /><rect x="480.6" y="537.2" width="8.4" height="8.4" fill="#fdfec3" /><rect x="488.7" y="537.2" width="8.4" height="8.4" fill="#4a74b4" /><rect x="496.8" y="537.2" width="8.4" height="8.4" fill="#f4fbd4" /><rect x="504.9" y="537.2" width="8.4" height="8.4" fill="#fff4ae" /><rect x="513" y="537.2" width="8.4" height="8.4" fill="#fdfec3" /><rect x="521.1" y="537.2" width="8.4" height="8.4" fill="#feefa7" /><rect x="529.2" y="537.2" width="8.4" height="8.4" fill="#fffdbc" /><rect x="537.3" y="537.2" width="8.4" height="8.4" fill="#fecd7e" /><rect x="545.4" y="537.2" width="8.4" height="8.4" fill="#f8fccb" /><rect x="553.5" y="537.2" width="8.4" height="8.4" fill="#f8fccb" /><rect x="561.6" y="537.2" width="8.4" height="8.4" fill="#fdfec3" /><rect x="569.7" y="537.2" width="8.4" height="8.4" fill="#f88b51" /><rect x="577.8" y="537.2" width="8.4" height="8.4" fill="#fdb76a" /><rect x="585.9" y="537.2" width="8.4" height="8.4" fill="#fdbe70" /><rect x="594" y="537.2" width="8.4" height="8.4" fill="#feeba0" /><rect x="602.1" y="537.2" width="8.4" height="8.4" fill="#f88b51" /><rect x="610.2" y="537.2" width="8.4" height="8.4" fill="#fdbe70" /><rect x="618.3" y="537.2" width="8.4" height="8.4" fill="#fdb063" /><rect x="626.4" y="537.2" width="8.1" height="8.4" fill="#fee293" /><rect x="472.5" y="545.3" width="8.4" height="8.4" fill="#f4fbd4" /><rect x="480.6" y="545.3" width="8.4" height="8.4" fill="#e2f4f5" /><rect x="488.7" y="545.3" width="8.4" height="8.4" fill="#f4fbd4" /><rect x="496.8" y="545.3" width="8.4" height="8.4" fill="#4a74b4" /><rect x="504.9" y="545.3" width="8.4" height="8.4" fill="#fff8b5" /><rect x="513" y="545.3" width="8.4" height="8.4" fill="#fff8b5" /><rect x="521.1" y="545.3" width="8.4" height="8.4" fill="#fff4ae" /><rect x="529.2" y="545.3" width="8.4" height="8.4" fill="#fee699" /><rect x="537.3" y="545.3" width="8.4" height="8.4" fill="#fed485" /><rect x="545.4" y="545.3" width="8.4" height="8.4" fill="#fffdbc" /><rect x="553.5" y="545.3" width="8.4" height="8.4" fill="#fffdbc" /><rect x="561.6" y="545.3" width="8.4" height="8.4" fill="#f4fbd4" /><rect x="569.7" y="545.3" width="8.4" height="8.4" fill="#f99455" /><rect x="577.8" y="545.3" width="8.4" height="8.4" fill="#fedb8c" /><rect x="585.9" y="545.3" width="8.4" height="8.4" fill="#fed485" /><rect x="594" y="545.3" width="8.4" height="8.4" fill="#fff8b5" /><rect x="602.1" y="545.3" width="8.4" height="8.4" fill="#f99455" /><rect x="610.2" y="545.3" width="8.4" height="8.4" fill="#fdb063" /><rect x="618.3" y="545.3" width="8.4" height="8.4" fill="#fecd7e" /><rect x="626.4" y="545.3" width="8.1" height="8.4" fill="#fedb8c" /><rect x="472.5" y="553.4" width="8.4" height="8.4" fill="#feeba0" /><rect x="480.6" y="553.4" width="8.4" height="8.4" fill="#feeba0" /><rect x="488.7" y="553.4" width="8.4" height="8.4" fill="#fff4ae" /><rect x="496.8" y="553.4" width="8.4" height="8.4" fill="#fff8b5" /><rect x="504.9" y="553.4" width="8.4" height="8.4" fill="#4a74b4" /><rect x="513" y="553.4" width="8.4" height="8.4" fill="#cce9f2" /><rect x="521.1" y="553.4" width="8.4" height="8.4" fill="#eff9dc" /><rect x="529.2" y="553.4" width="8.4" height="8.4" fill="#e2f4f5" /><rect x="537.3" y="553.4" width="8.4" height="8.4" fill="#fff8b5" /><rect x="545.4" y="553.4" width="8.4" height="8.4" fill="#feeba0" /><rect x="553.5" y="553.4" width="8.4" height="8.4" fill="#fee699" /><rect x="561.6" y="553.4" width="8.4" height="8.4" fill="#fee699" /><rect x="569.7" y="553.4" width="8.4" height="8.4" fill="#ec5c3b" /><rect x="577.8" y="553.4" width="8.4" height="8.4" fill="#f88b51" /><rect x="585.9" y="553.4" width="8.4" height="8.4" fill="#f46e44" /><rect x="594" y="553.4" width="8.4" height="8.4" fill="#fed485" /><rect x="602.1" y="553.4" width="8.4" height="8.4" fill="#f99455" /><rect x="610.2" y="553.4" width="8.4" height="8.4" fill="#f7814c" /><rect x="618.3" y="553.4" width="8.4" height="8.4" fill="#f0653f" /><rect x="626.4" y="553.4" width="8.1" height="8.4" fill="#fb9d59" /><rect x="472.5" y="561.5" width="8.4" height="8.4" fill="#fff4ae" /><rect x="480.6" y="561.5" width="8.4" height="8.4" fill="#fff4ae" /><rect x="488.7" y="561.5" width="8.4" height="8.4" fill="#fdfec3" /><rect x="496.8" y="561.5" width="8.4" height="8.4" fill="#fff8b5" /><rect x="504.9" y="561.5" width="8.4" height="8.4" fill="#cce9f2" /><rect x="513" y="561.5" width="8.4" height="8.4" fill="#4a74b4" /><rect x="521.1" y="561.5" width="8.4" height="8.4" fill="#ebf7e4" /><rect x="529.2" y="561.5" width="8.4" height="8.4" fill="#e6f5ed" /><rect x="537.3" y="561.5" width="8.4" height="8.4" fill="#fffdbc" /><rect x="545.4" y="561.5" width="8.4" height="8.4" fill="#fff4ae" /><rect x="553.5" y="561.5" width="8.4" height="8.4" fill="#feefa7" /><rect x="561.6" y="561.5" width="8.4" height="8.4" fill="#feeba0" /><rect x="569.7" y="561.5" width="8.4" height="8.4" fill="#ec5c3b" /><rect x="577.8" y="561.5" width="8.4" height="8.4" fill="#f88b51" /><rect x="585.9" y="561.5" width="8.4" height="8.4" fill="#f99455" /><rect x="594" y="561.5" width="8.4" height="8.4" fill="#fee293" /><rect x="602.1" y="561.5" width="8.4" height="8.4" fill="#f88b51" /><rect x="610.2" y="561.5" width="8.4" height="8.4" fill="#f7814c" /><rect x="618.3" y="561.5" width="8.4" height="8.4" fill="#f99455" /><rect x="626.4" y="561.5" width="8.1" height="8.4" fill="#fdbe70" /><rect x="472.5" y="569.6" width="8.4" height="8.4" fill="#fdc677" /><rect x="480.6" y="569.6" width="8.4" height="8.4" fill="#feeba0" /><rect x="488.7" y="569.6" width="8.4" height="8.4" fill="#feefa7" /><rect x="496.8" y="569.6" width="8.4" height="8.4" fill="#fff4ae" /><rect x="504.9" y="569.6" width="8.4" height="8.4" fill="#eff9dc" /><rect x="513" y="569.6" width="8.4" height="8.4" fill="#ebf7e4" /><rect x="521.1" y="569.6" width="8.4" height="8.4" fill="#4a74b4" /><rect x="529.2" y="569.6" width="8.4" height="8.4" fill="#f8fccb" /><rect x="537.3" y="569.6" width="8.4" height="8.4" fill="#fdfec3" /><rect x="545.4" y="569.6" width="8.4" height="8.4" fill="#fed485" /><rect x="553.5" y="569.6" width="8.4" height="8.4" fill="#fed485" /><rect x="561.6" y="569.6" width="8.4" height="8.4" fill="#fedb8c" /><rect x="569.7" y="569.6" width="8.4" height="8.4" fill="#db392b" /><rect x="577.8" y="569.6" width="8.4" height="8.4" fill="#ec5c3b" /><rect x="585.9" y="569.6" width="8.4" height="8.4" fill="#ec5c3b" /><rect x="594" y="569.6" width="8.4" height="8.4" fill="#fdc677" /><rect x="602.1" y="569.6" width="8.4" height="8.4" fill="#e85337" /><rect x="610.2" y="569.6" width="8.4" height="8.4" fill="#e85337" /><rect x="618.3" y="569.6" width="8.4" height="8.4" fill="#f46e44" /><rect x="626.4" y="569.6" width="8.1" height="8.4" fill="#f57848" /><rect x="472.5" y="577.7" width="8.4" height="8.4" fill="#feeba0" /><rect x="480.6" y="577.7" width="8.4" height="8.4" fill="#feeba0" /><rect x="488.7" y="577.7" width="8.4" height="8.4" fill="#fffdbc" /><rect x="496.8" y="577.7" width="8.4" height="8.4" fill="#fee699" /><rect x="504.9" y="577.7" width="8.4" height="8.4" fill="#e2f4f5" /><rect x="513" y="577.7" width="8.4" height="8.4" fill="#e6f5ed" /><rect x="521.1" y="577.7" width="8.4" height="8.4" fill="#f8fccb" /><rect x="529.2" y="577.7" width="8.4" height="8.4" fill="#4a74b4" /><rect x="537.3" y="577.7" width="8.4" height="8.4" fill="#feefa7" /><rect x="545.4" y="577.7" width="8.4" height="8.4" fill="#feeba0" /><rect x="553.5" y="577.7" width="8.4" height="8.4" fill="#fee699" /><rect x="561.6" y="577.7" width="8.4" height="8.4" fill="#fee293" /><rect x="569.7" y="577.7" width="8.4" height="8.4" fill="#e85337" /><rect x="577.8" y="577.7" width="8.4" height="8.4" fill="#f99455" /><rect x="585.9" y="577.7" width="8.4" height="8.4" fill="#f88b51" /><rect x="594" y="577.7" width="8.4" height="8.4" fill="#fdbe70" /><rect x="602.1" y="577.7" width="8.4" height="8.4" fill="#f57848" /><rect x="610.2" y="577.7" width="8.4" height="8.4" fill="#f57848" /><rect x="618.3" y="577.7" width="8.4" height="8.4" fill="#f57848" /><rect x="626.4" y="577.7" width="8.1" height="8.4" fill="#fdbe70" /><rect x="472.5" y="585.8" width="8.4" height="8.4" fill="#fca75e" /><rect x="480.6" y="585.8" width="8.4" height="8.4" fill="#fecd7e" /><rect x="488.7" y="585.8" width="8.4" height="8.4" fill="#fecd7e" /><rect x="496.8" y="585.8" width="8.4" height="8.4" fill="#fed485" /><rect x="504.9" y="585.8" width="8.4" height="8.4" fill="#fff8b5" /><rect x="513" y="585.8" width="8.4" height="8.4" fill="#fffdbc" /><rect x="521.1" y="585.8" width="8.4" height="8.4" fill="#fdfec3" /><rect x="529.2" y="585.8" width="8.4" height="8.4" fill="#feefa7" /><rect x="537.3" y="585.8" width="8.4" height="8.4" fill="#4a74b4" /><rect x="545.4" y="585.8" width="8.4" height="8.4" fill="#fecd7e" /><rect x="553.5" y="585.8" width="8.4" height="8.4" fill="#fdb76a" /><rect x="561.6" y="585.8" width="8.4" height="8.4" fill="#fdb76a" /><rect x="569.7" y="585.8" width="8.4" height="8.4" fill="#f46e44" /><rect x="577.8" y="585.8" width="8.4" height="8.4" fill="#f46e44" /><rect x="585.9" y="585.8" width="8.4" height="8.4" fill="#f88b51" /><rect x="594" y="585.8" width="8.4" height="8.4" fill="#fdb76a" /><rect x="602.1" y="585.8" width="8.4" height="8.4" fill="#f0653f" /><rect x="610.2" y="585.8" width="8.4" height="8.4" fill="#e85337" /><rect x="618.3" y="585.8" width="8.4" height="8.4" fill="#ec5c3b" /><rect x="626.4" y="585.8" width="8.1" height="8.4" fill="#f46e44" /><rect x="472.5" y="593.9" width="8.4" height="8.4" fill="#fdfec3" /><rect x="480.6" y="593.9" width="8.4" height="8.4" fill="#fffdbc" /><rect x="488.7" y="593.9" width="8.4" height="8.4" fill="#f8fccb" /><rect x="496.8" y="593.9" width="8.4" height="8.4" fill="#fffdbc" /><rect x="504.9" y="593.9" width="8.4" height="8.4" fill="#feeba0" /><rect x="513" y="593.9" width="8.4" height="8.4" fill="#fff4ae" /><rect x="521.1" y="593.9" width="8.4" height="8.4" fill="#fed485" /><rect x="529.2" y="593.9" width="8.4" height="8.4" fill="#feeba0" /><rect x="537.3" y="593.9" width="8.4" height="8.4" fill="#fecd7e" /><rect x="545.4" y="593.9" width="8.4" height="8.4" fill="#4a74b4" /><rect x="553.5" y="593.9" width="8.4" height="8.4" fill="#f8fccb" /><rect x="561.6" y="593.9" width="8.4" height="8.4" fill="#fff4ae" /><rect x="569.7" y="593.9" width="8.4" height="8.4" fill="#fedb8c" /><rect x="577.8" y="593.9" width="8.4" height="8.4" fill="#fee293" /><rect x="585.9" y="593.9" width="8.4" height="8.4" fill="#feeba0" /><rect x="594" y="593.9" width="8.4" height="8.4" fill="#fffdbc" /><rect x="602.1" y="593.9" width="8.4" height="8.4" fill="#fed485" /><rect x="610.2" y="593.9" width="8.4" height="8.4" fill="#fed485" /><rect x="618.3" y="593.9" width="8.4" height="8.4" fill="#fee293" /><rect x="626.4" y="593.9" width="8.1" height="8.4" fill="#fee699" /><rect x="472.5" y="602" width="8.4" height="8.4" fill="#fdfec3" /><rect x="480.6" y="602" width="8.4" height="8.4" fill="#fffdbc" /><rect x="488.7" y="602" width="8.4" height="8.4" fill="#f8fccb" /><rect x="496.8" y="602" width="8.4" height="8.4" fill="#fffdbc" /><rect x="504.9" y="602" width="8.4" height="8.4" fill="#fee699" /><rect x="513" y="602" width="8.4" height="8.4" fill="#feefa7" /><rect x="521.1" y="602" width="8.4" height="8.4" fill="#fed485" /><rect x="529.2" y="602" width="8.4" height="8.4" fill="#fee699" /><rect x="537.3" y="602" width="8.4" height="8.4" fill="#fdb76a" /><rect x="545.4" y="602" width="8.4" height="8.4" fill="#f8fccb" /><rect x="553.5" y="602" width="8.4" height="8.4" fill="#4a74b4" /><rect x="561.6" y="602" width="8.4" height="8.4" fill="#fffdbc" /><rect x="569.7" y="602" width="8.4" height="8.4" fill="#fed485" /><rect x="577.8" y="602" width="8.4" height="8.4" fill="#fee293" /><rect x="585.9" y="602" width="8.4" height="8.4" fill="#fecd7e" /><rect x="594" y="602" width="8.4" height="8.4" fill="#fdfec3" /><rect x="602.1" y="602" width="8.4" height="8.4" fill="#feefa7" /><rect x="610.2" y="602" width="8.4" height="8.4" fill="#feefa7" /><rect x="618.3" y="602" width="8.4" height="8.4" fill="#fff8b5" /><rect x="626.4" y="602" width="8.1" height="8.4" fill="#fff8b5" /><rect x="472.5" y="610.1" width="8.4" height="8.4" fill="#fffdbc" /><rect x="480.6" y="610.1" width="8.4" height="8.4" fill="#fdfec3" /><rect x="488.7" y="610.1" width="8.4" height="8.4" fill="#fdfec3" /><rect x="496.8" y="610.1" width="8.4" height="8.4" fill="#f4fbd4" /><rect x="504.9" y="610.1" width="8.4" height="8.4" fill="#fee699" /><rect x="513" y="610.1" width="8.4" height="8.4" fill="#feeba0" /><rect x="521.1" y="610.1" width="8.4" height="8.4" fill="#fedb8c" /><rect x="529.2" y="610.1" width="8.4" height="8.4" fill="#fee293" /><rect x="537.3" y="610.1" width="8.4" height="8.4" fill="#fdb76a" /><rect x="545.4" y="610.1" width="8.4" height="8.4" fill="#fff4ae" /><rect x="553.5" y="610.1" width="8.4" height="8.4" fill="#fffdbc" /><rect x="561.6" y="610.1" width="8.4" height="8.4" fill="#4a74b4" /><rect x="569.7" y="610.1" width="8.4" height="8.4" fill="#fee699" /><rect x="577.8" y="610.1" width="8.4" height="8.4" fill="#fffdbc" /><rect x="585.9" y="610.1" width="8.4" height="8.4" fill="#feeba0" /><rect x="594" y="610.1" width="8.4" height="8.4" fill="#fffdbc" /><rect x="602.1" y="610.1" width="8.4" height="8.4" fill="#fdc677" /><rect x="610.2" y="610.1" width="8.4" height="8.4" fill="#fff4ae" /><rect x="618.3" y="610.1" width="8.4" height="8.4" fill="#fca75e" /><rect x="626.4" y="610.1" width="8.1" height="8.4" fill="#fecd7e" /><rect x="472.5" y="618.2" width="8.4" height="8.4" fill="#f99455" /><rect x="480.6" y="618.2" width="8.4" height="8.4" fill="#f99455" /><rect x="488.7" y="618.2" width="8.4" height="8.4" fill="#f88b51" /><rect x="496.8" y="618.2" width="8.4" height="8.4" fill="#f99455" /><rect x="504.9" y="618.2" width="8.4" height="8.4" fill="#ec5c3b" /><rect x="513" y="618.2" width="8.4" height="8.4" fill="#ec5c3b" /><rect x="521.1" y="618.2" width="8.4" height="8.4" fill="#db392b" /><rect x="529.2" y="618.2" width="8.4" height="8.4" fill="#e85337" /><rect x="537.3" y="618.2" width="8.4" height="8.4" fill="#f46e44" /><rect x="545.4" y="618.2" width="8.4" height="8.4" fill="#fedb8c" /><rect x="553.5" y="618.2" width="8.4" height="8.4" fill="#fed485" /><rect x="561.6" y="618.2" width="8.4" height="8.4" fill="#fee699" /><rect x="569.7" y="618.2" width="8.4" height="8.4" fill="#4a74b4" /><rect x="577.8" y="618.2" width="8.4" height="8.4" fill="#fdfec3" /><rect x="585.9" y="618.2" width="8.4" height="8.4" fill="#feefa7" /><rect x="594" y="618.2" width="8.4" height="8.4" fill="#fee699" /><rect x="602.1" y="618.2" width="8.4" height="8.4" fill="#fedb8c" /><rect x="610.2" y="618.2" width="8.4" height="8.4" fill="#f99455" /><rect x="618.3" y="618.2" width="8.4" height="8.4" fill="#fb9d59" /><rect x="626.4" y="618.2" width="8.1" height="8.4" fill="#f57848" /><rect x="472.5" y="626.3" width="8.4" height="8.4" fill="#fdb76a" /><rect x="480.6" y="626.3" width="8.4" height="8.4" fill="#fdbe70" /><rect x="488.7" y="626.3" width="8.4" height="8.4" fill="#fdb76a" /><rect x="496.8" y="626.3" width="8.4" height="8.4" fill="#fedb8c" /><rect x="504.9" y="626.3" width="8.4" height="8.4" fill="#f88b51" /><rect x="513" y="626.3" width="8.4" height="8.4" fill="#f88b51" /><rect x="521.1" y="626.3" width="8.4" height="8.4" fill="#ec5c3b" /><rect x="529.2" y="626.3" width="8.4" height="8.4" fill="#f99455" /><rect x="537.3" y="626.3" width="8.4" height="8.4" fill="#f46e44" /><rect x="545.4" y="626.3" width="8.4" height="8.4" fill="#fee293" /><rect x="553.5" y="626.3" width="8.4" height="8.4" fill="#fee293" /><rect x="561.6" y="626.3" width="8.4" height="8.4" fill="#fffdbc" /><rect x="569.7" y="626.3" width="8.4" height="8.4" fill="#fdfec3" /><rect x="577.8" y="626.3" width="8.4" height="8.4" fill="#4a74b4" /><rect x="585.9" y="626.3" width="8.4" height="8.4" fill="#fff4ae" /><rect x="594" y="626.3" width="8.4" height="8.4" fill="#fff8b5" /><rect x="602.1" y="626.3" width="8.4" height="8.4" fill="#fed485" /><rect x="610.2" y="626.3" width="8.4" height="8.4" fill="#fdb76a" /><rect x="618.3" y="626.3" width="8.4" height="8.4" fill="#fb9d59" /><rect x="626.4" y="626.3" width="8.1" height="8.4" fill="#fb9d59" /><rect x="472.5" y="634.4" width="8.4" height="8.4" fill="#fecd7e" /><rect x="480.6" y="634.4" width="8.4" height="8.4" fill="#fdb76a" /><rect x="488.7" y="634.4" width="8.4" height="8.4" fill="#fdbe70" /><rect x="496.8" y="634.4" width="8.4" height="8.4" fill="#fed485" /><rect x="504.9" y="634.4" width="8.4" height="8.4" fill="#f46e44" /><rect x="513" y="634.4" width="8.4" height="8.4" fill="#f99455" /><rect x="521.1" y="634.4" width="8.4" height="8.4" fill="#ec5c3b" /><rect x="529.2" y="634.4" width="8.4" height="8.4" fill="#f88b51" /><rect x="537.3" y="634.4" width="8.4" height="8.4" fill="#f88b51" /><rect x="545.4" y="634.4" width="8.4" height="8.4" fill="#feeba0" /><rect x="553.5" y="634.4" width="8.4" height="8.4" fill="#fecd7e" /><rect x="561.6" y="634.4" width="8.4" height="8.4" fill="#feeba0" /><rect x="569.7" y="634.4" width="8.4" height="8.4" fill="#feefa7" /><rect x="577.8" y="634.4" width="8.4" height="8.4" fill="#fff4ae" /><rect x="585.9" y="634.4" width="8.4" height="8.4" fill="#4a74b4" /><rect x="594" y="634.4" width="8.4" height="8.4" fill="#f4fbd4" /><rect x="602.1" y="634.4" width="8.4" height="8.4" fill="#fed485" /><rect x="610.2" y="634.4" width="8.4" height="8.4" fill="#feefa7" /><rect x="618.3" y="634.4" width="8.4" height="8.4" fill="#fdbe70" /><rect x="626.4" y="634.4" width="8.1" height="8.4" fill="#fecd7e" /><rect x="472.5" y="642.5" width="8.4" height="8.4" fill="#fff4ae" /><rect x="480.6" y="642.5" width="8.4" height="8.4" fill="#feefa7" /><rect x="488.7" y="642.5" width="8.4" height="8.4" fill="#feeba0" /><rect x="496.8" y="642.5" width="8.4" height="8.4" fill="#fff8b5" /><rect x="504.9" y="642.5" width="8.4" height="8.4" fill="#fed485" /><rect x="513" y="642.5" width="8.4" height="8.4" fill="#fee293" /><rect x="521.1" y="642.5" width="8.4" height="8.4" fill="#fdc677" /><rect x="529.2" y="642.5" width="8.4" height="8.4" fill="#fdbe70" /><rect x="537.3" y="642.5" width="8.4" height="8.4" fill="#fdb76a" /><rect x="545.4" y="642.5" width="8.4" height="8.4" fill="#fffdbc" /><rect x="553.5" y="642.5" width="8.4" height="8.4" fill="#fdfec3" /><rect x="561.6" y="642.5" width="8.4" height="8.4" fill="#fffdbc" /><rect x="569.7" y="642.5" width="8.4" height="8.4" fill="#fee699" /><rect x="577.8" y="642.5" width="8.4" height="8.4" fill="#fff8b5" /><rect x="585.9" y="642.5" width="8.4" height="8.4" fill="#f4fbd4" /><rect x="594" y="642.5" width="8.4" height="8.4" fill="#4a74b4" /><rect x="602.1" y="642.5" width="8.4" height="8.4" fill="#fffdbc" /><rect x="610.2" y="642.5" width="8.4" height="8.4" fill="#feeba0" /><rect x="618.3" y="642.5" width="8.4" height="8.4" fill="#fedb8c" /><rect x="626.4" y="642.5" width="8.1" height="8.4" fill="#fee699" /><rect x="472.5" y="650.6" width="8.4" height="8.4" fill="#f88b51" /><rect x="480.6" y="650.6" width="8.4" height="8.4" fill="#f7814c" /><rect x="488.7" y="650.6" width="8.4" height="8.4" fill="#f88b51" /><rect x="496.8" y="650.6" width="8.4" height="8.4" fill="#f99455" /><rect x="504.9" y="650.6" width="8.4" height="8.4" fill="#f99455" /><rect x="513" y="650.6" width="8.4" height="8.4" fill="#f88b51" /><rect x="521.1" y="650.6" width="8.4" height="8.4" fill="#e85337" /><rect x="529.2" y="650.6" width="8.4" height="8.4" fill="#f57848" /><rect x="537.3" y="650.6" width="8.4" height="8.4" fill="#f0653f" /><rect x="545.4" y="650.6" width="8.4" height="8.4" fill="#fed485" /><rect x="553.5" y="650.6" width="8.4" height="8.4" fill="#feefa7" /><rect x="561.6" y="650.6" width="8.4" height="8.4" fill="#fdc677" /><rect x="569.7" y="650.6" width="8.4" height="8.4" fill="#fedb8c" /><rect x="577.8" y="650.6" width="8.4" height="8.4" fill="#fed485" /><rect x="585.9" y="650.6" width="8.4" height="8.4" fill="#fed485" /><rect x="594" y="650.6" width="8.4" height="8.4" fill="#fffdbc" /><rect x="602.1" y="650.6" width="8.4" height="8.4" fill="#4a74b4" /><rect x="610.2" y="650.6" width="8.4" height="8.4" fill="#fee699" /><rect x="618.3" y="650.6" width="8.4" height="8.4" fill="#feeba0" /><rect x="626.4" y="650.6" width="8.1" height="8.4" fill="#fecd7e" /><rect x="472.5" y="658.7" width="8.4" height="8.4" fill="#fdc677" /><rect x="480.6" y="658.7" width="8.4" height="8.4" fill="#fdbe70" /><rect x="488.7" y="658.7" width="8.4" height="8.4" fill="#fdbe70" /><rect x="496.8" y="658.7" width="8.4" height="8.4" fill="#fdb063" /><rect x="504.9" y="658.7" width="8.4" height="8.4" fill="#f7814c" /><rect x="513" y="658.7" width="8.4" height="8.4" fill="#f7814c" /><rect x="521.1" y="658.7" width="8.4" height="8.4" fill="#e85337" /><rect x="529.2" y="658.7" width="8.4" height="8.4" fill="#f57848" /><rect x="537.3" y="658.7" width="8.4" height="8.4" fill="#e85337" /><rect x="545.4" y="658.7" width="8.4" height="8.4" fill="#fed485" /><rect x="553.5" y="658.7" width="8.4" height="8.4" fill="#feefa7" /><rect x="561.6" y="658.7" width="8.4" height="8.4" fill="#fff4ae" /><rect x="569.7" y="658.7" width="8.4" height="8.4" fill="#f99455" /><rect x="577.8" y="658.7" width="8.4" height="8.4" fill="#fdb76a" /><rect x="585.9" y="658.7" width="8.4" height="8.4" fill="#feefa7" /><rect x="594" y="658.7" width="8.4" height="8.4" fill="#feeba0" /><rect x="602.1" y="658.7" width="8.4" height="8.4" fill="#fee699" /><rect x="610.2" y="658.7" width="8.4" height="8.4" fill="#4a74b4" /><rect x="618.3" y="658.7" width="8.4" height="8.4" fill="#fee293" /><rect x="626.4" y="658.7" width="8.1" height="8.4" fill="#feefa7" /><rect x="472.5" y="666.8" width="8.4" height="8.4" fill="#fdc677" /><rect x="480.6" y="666.8" width="8.4" height="8.4" fill="#fee293" /><rect x="488.7" y="666.8" width="8.4" height="8.4" fill="#fdb063" /><rect x="496.8" y="666.8" width="8.4" height="8.4" fill="#fecd7e" /><rect x="504.9" y="666.8" width="8.4" height="8.4" fill="#f0653f" /><rect x="513" y="666.8" width="8.4" height="8.4" fill="#f99455" /><rect x="521.1" y="666.8" width="8.4" height="8.4" fill="#f46e44" /><rect x="529.2" y="666.8" width="8.4" height="8.4" fill="#f57848" /><rect x="537.3" y="666.8" width="8.4" height="8.4" fill="#ec5c3b" /><rect x="545.4" y="666.8" width="8.4" height="8.4" fill="#fee293" /><rect x="553.5" y="666.8" width="8.4" height="8.4" fill="#fff8b5" /><rect x="561.6" y="666.8" width="8.4" height="8.4" fill="#fca75e" /><rect x="569.7" y="666.8" width="8.4" height="8.4" fill="#fb9d59" /><rect x="577.8" y="666.8" width="8.4" height="8.4" fill="#fb9d59" /><rect x="585.9" y="666.8" width="8.4" height="8.4" fill="#fdbe70" /><rect x="594" y="666.8" width="8.4" height="8.4" fill="#fedb8c" /><rect x="602.1" y="666.8" width="8.4" height="8.4" fill="#feeba0" /><rect x="610.2" y="666.8" width="8.4" height="8.4" fill="#fee293" /><rect x="618.3" y="666.8" width="8.4" height="8.4" fill="#4a74b4" /><rect x="626.4" y="666.8" width="8.1" height="8.4" fill="#fdfec3" /><rect x="472.5" y="674.9" width="8.4" height="8.1" fill="#fee699" /><rect x="480.6" y="674.9" width="8.4" height="8.1" fill="#fee699" /><rect x="488.7" y="674.9" width="8.4" height="8.1" fill="#fee293" /><rect x="496.8" y="674.9" width="8.4" height="8.1" fill="#fedb8c" /><rect x="504.9" y="674.9" width="8.4" height="8.1" fill="#fb9d59" /><rect x="513" y="674.9" width="8.4" height="8.1" fill="#fdbe70" /><rect x="521.1" y="674.9" width="8.4" height="8.1" fill="#f57848" /><rect x="529.2" y="674.9" width="8.4" height="8.1" fill="#fdbe70" /><rect x="537.3" y="674.9" width="8.4" height="8.1" fill="#f46e44" /><rect x="545.4" y="674.9" width="8.4" height="8.1" fill="#fee699" /><rect x="553.5" y="674.9" width="8.4" height="8.1" fill="#fff8b5" /><rect x="561.6" y="674.9" width="8.4" height="8.1" fill="#fecd7e" /><rect x="569.7" y="674.9" width="8.4" height="8.1" fill="#f57848" /><rect x="577.8" y="674.9" width="8.4" height="8.1" fill="#fb9d59" /><rect x="585.9" y="674.9" width="8.4" height="8.1" fill="#fecd7e" /><rect x="594" y="674.9" width="8.4" height="8.1" fill="#fee699" /><rect x="602.1" y="674.9" width="8.4" height="8.1" fill="#fecd7e" /><rect x="610.2" y="674.9" width="8.4" height="8.1" fill="#feefa7" /><rect x="618.3" y="674.9" width="8.4" height="8.1" fill="#fdfec3" /><rect x="626.4" y="674.9" width="8.1" height="8.1" fill="#4a74b4" /><rect x="462.4" y="521" width="5.6" height="32.4" fill="#ff0000" /><rect x="472.5" y="686.6" width="32.4" height="4.8" fill="#ff0000" /><rect x="462.4" y="553.4" width="5.6" height="40.5" fill="#5a5af0" /><rect x="504.9" y="686.6" width="40.5" height="4.8" fill="#5a5af0" /><rect x="462.4" y="593.9" width="5.6" height="8.1" fill="#ff0000" /><rect x="545.4" y="686.6" width="8.1" height="4.8" fill="#ff0000" /><rect x="462.4" y="602" width="5.6" height="8.1" fill="#ffb400" /><rect x="553.5" y="686.6" width="8.1" height="4.8" fill="#ffb400" /><rect x="462.4" y="610.1" width="5.6" height="40.5" fill="#000000" /><rect x="561.6" y="686.6" width="40.5" height="4.8" fill="#000000" /><rect x="462.4" y="650.6" width="5.6" height="32.4" fill="#ffb400" /><rect x="602.1" y="686.6" width="32.4" height="4.8" fill="#ffb400" /><path d="M456.8 525.05 H452.5 V533.15 H456.8 M456.8 541.25 H452.3 V549.35 H456.8 M452.5 529.1 H450.4 V545.3 H452.3 M456.8 557.45 H454.6 V565.55 H456.8 M454.6 561.5 H453.4 V573.65 H456.8 M453.4 567.58 H451.5 V581.75 H456.8 M451.5 574.66 H450.4 V589.85 H456.8 M450.4 537.2 H444.4 V582.26 H450.4 M456.8 597.95 H449.3 V606.05 H456.8 M449.3 602 H444.4 V614.15 H456.8 M444.4 559.73 H434.1 V608.08 H444.4 M456.8 622.25 H451.2 V630.35 H456.8 M451.2 626.3 H449.5 V638.45 H456.8 M449.5 632.38 H446.2 V646.55 H456.8 M456.8 654.65 H448.3 V662.75 H456.8 M446.2 639.46 H445.5 V658.7 H448.3 M456.8 670.85 H450.5 V678.95 H456.8 M445.5 649.08 H441.75 V674.9 H450.5 M434.1 583.9 H423.5 V661.99 H441.75" stroke="#666" stroke-width="1" fill="none" /><rect x="650.4" y="538.7" width="9.4" height="144.4" fill="url(#cbi)" /><text x="662.3" y="686.9" font-size="9.3" fill="#222">0</text><text x="662.3" y="660.7" font-size="9.3" fill="#222">0.1</text><text x="662.3" y="634.5" font-size="9.3" fill="#222">0.2</text><text x="662.3" y="608.3" font-size="9.3" fill="#222">0.3</text><text x="662.3" y="582.1" font-size="9.3" fill="#222">0.4</text><text x="662.3" y="555.9" font-size="9.3" fill="#222">0.5</text><text x="1.2" y="727.1" font-size="18" font-weight="bold">j</text><line x1="37.8" y1="729.3" x2="37.8" y2="867.2" stroke="#000" stroke-width="1.4" /><line x1="33.5" y1="866.6" x2="37.8" y2="866.6" stroke="#000" stroke-width="1.3" /><text x="31.5" y="869.9" font-size="9.3" text-anchor="end" fill="#222">0</text><line x1="33.5" y1="797.95" x2="37.8" y2="797.95" stroke="#000" stroke-width="1.3" /><text x="31.5" y="801.25" font-size="9.3" text-anchor="end" fill="#222">50</text><line x1="33.5" y1="729.3" x2="37.8" y2="729.3" stroke="#000" stroke-width="1.3" /><text x="31.5" y="732.6" font-size="9.3" text-anchor="end" fill="#222">100</text><line x1="35" y1="832.27" x2="37.8" y2="832.27" stroke="#000" stroke-width="1.2" /><line x1="35" y1="763.62" x2="37.8" y2="763.62" stroke="#000" stroke-width="1.2" /><text x="12.6" y="801.3" font-size="9.8" text-anchor="middle" transform="rotate(-90 12.6 801.3)">Relative abundance (%)</text><rect x="41.3" y="853.56" width="6.9" height="13.29" fill="#4daf4a" /><rect x="41.3" y="846" width="6.9" height="7.8" fill="#ff7f00" /><rect x="41.3" y="838.04" width="6.9" height="8.21" fill="#ffff33" /><rect x="41.3" y="835.57" width="6.9" height="2.72" fill="#a65628" /><rect x="41.3" y="826.65" width="6.9" height="9.17" fill="#1b9e77" /><rect x="41.3" y="810.99" width="6.9" height="15.9" fill="#d95f02" /><rect x="41.3" y="801.79" width="6.9" height="9.45" fill="#e7298a" /><rect x="41.3" y="769.94" width="6.9" height="32.1" fill="#66a61e" /><rect x="41.3" y="751.13" width="6.9" height="19.06" fill="#fc8d62" /><rect x="41.3" y="748.93" width="6.9" height="2.45" fill="#0000ff" /><rect x="41.3" y="742.34" width="6.9" height="6.84" fill="#11ee11" /><rect x="41.3" y="739.87" width="6.9" height="2.72" fill="#555555" /><rect x="41.3" y="729.3" width="6.9" height="10.82" fill="#e5e5e5" /><rect x="51.37" y="864.13" width="6.9" height="2.72" fill="#e41a1c" /><rect x="51.37" y="859.74" width="6.9" height="4.64" fill="#4daf4a" /><rect x="51.37" y="847.93" width="6.9" height="12.06" fill="#ff7f00" /><rect x="51.37" y="844.63" width="6.9" height="3.55" fill="#ffff33" /><rect x="51.37" y="832" width="6.9" height="12.88" fill="#a65628" /><rect x="51.37" y="830.35" width="6.9" height="1.9" fill="#1b9e77" /><rect x="51.37" y="779.55" width="6.9" height="51.05" fill="#d95f02" /><rect x="51.37" y="774.88" width="6.9" height="4.92" fill="#e7298a" /><rect x="51.37" y="747.97" width="6.9" height="27.16" fill="#66a61e" /><rect x="51.37" y="740.42" width="6.9" height="7.8" fill="#fc8d62" /><rect x="51.37" y="738.09" width="6.9" height="2.58" fill="#0000ff" /><rect x="51.37" y="734.79" width="6.9" height="3.55" fill="#ffd92f" /><rect x="51.37" y="732.32" width="6.9" height="2.72" fill="#11ee11" /><rect x="51.37" y="729.3" width="6.9" height="3.27" fill="#e5e5e5" /><rect x="61.44" y="864.13" width="6.9" height="2.72" fill="#e41a1c" /><rect x="61.44" y="857.69" width="6.9" height="6.69" fill="#4daf4a" /><rect x="61.44" y="848.92" width="6.9" height="9.02" fill="#ff7f00" /><rect x="61.44" y="840.84" width="6.9" height="8.33" fill="#ffff33" /><rect x="61.44" y="832.48" width="6.9" height="8.61" fill="#a65628" /><rect x="61.44" y="824.94" width="6.9" height="7.79" fill="#1b9e77" /><rect x="61.44" y="793.98" width="6.9" height="31.22" fill="#d95f02" /><rect x="61.44" y="788.08" width="6.9" height="6.14" fill="#e7298a" /><rect x="61.44" y="744.51" width="6.9" height="43.82" fill="#66a61e" /><rect x="61.44" y="735.6" width="6.9" height="9.16" fill="#fc8d62" /><rect x="61.44" y="733.55" width="6.9" height="2.31" fill="#ffd92f" /><rect x="61.44" y="731.49" width="6.9" height="2.31" fill="#11ee11" /><rect x="61.44" y="729.3" width="6.9" height="2.44" fill="#e5e5e5" /><rect x="71.51" y="864.13" width="6.9" height="2.72" fill="#e41a1c" /><rect x="71.51" y="830.45" width="6.9" height="33.92" fill="#4daf4a" /><rect x="71.51" y="827.98" width="6.9" height="2.72" fill="#9c1fe0" /><rect x="71.51" y="812.31" width="6.9" height="15.92" fill="#ff7f00" /><rect x="71.51" y="810.66" width="6.9" height="1.9" fill="#ffff33" /><rect x="71.51" y="807.64" width="6.9" height="3.27" fill="#a65628" /><rect x="71.51" y="805.99" width="6.9" height="1.9" fill="#1b9e77" /><rect x="71.51" y="790.46" width="6.9" height="15.78" fill="#d95f02" /><rect x="71.51" y="779.88" width="6.9" height="10.83" fill="#e7298a" /><rect x="71.51" y="774.52" width="6.9" height="5.61" fill="#66a61e" /><rect x="71.51" y="761.6" width="6.9" height="13.17" fill="#66c2a5" /><rect x="71.51" y="758.85" width="6.9" height="3" fill="#fc8d62" /><rect x="71.51" y="745.11" width="6.9" height="13.99" fill="#0000ff" /><rect x="71.51" y="737.55" width="6.9" height="7.81" fill="#ffd92f" /><rect x="71.51" y="736.45" width="6.9" height="1.35" fill="#66a61e" /><rect x="71.51" y="734.8" width="6.9" height="1.9" fill="#555555" /><rect x="71.51" y="729.3" width="6.9" height="5.75" fill="#e5e5e5" /><rect x="81.58" y="861.12" width="6.9" height="5.73" fill="#e41a1c" /><rect x="81.58" y="827.55" width="6.9" height="33.82" fill="#4daf4a" /><rect x="81.58" y="826.31" width="6.9" height="1.48" fill="#9c1fe0" /><rect x="81.58" y="817.96" width="6.9" height="8.61" fill="#ff7f00" /><rect x="81.58" y="809.05" width="6.9" height="9.16" fill="#ffff33" /><rect x="81.58" y="806.03" width="6.9" height="3.26" fill="#a65628" /><rect x="81.58" y="800.14" width="6.9" height="6.14" fill="#1b9e77" /><rect x="81.58" y="770.13" width="6.9" height="30.26" fill="#d95f02" /><rect x="81.58" y="758.35" width="6.9" height="12.03" fill="#e7298a" /><rect x="81.58" y="753.28" width="6.9" height="5.32" fill="#66a61e" /><rect x="81.58" y="751.91" width="6.9" height="1.62" fill="#66c2a5" /><rect x="81.58" y="739.3" width="6.9" height="12.86" fill="#fc8d62" /><rect x="81.58" y="736.84" width="6.9" height="2.72" fill="#0000ff" /><rect x="81.58" y="732.31" width="6.9" height="4.77" fill="#11ee11" /><rect x="81.58" y="730.53" width="6.9" height="2.03" fill="#555555" /><rect x="81.58" y="729.3" width="6.9" height="1.48" fill="#e5e5e5" /><rect x="91.65" y="865.78" width="6.9" height="1.07" fill="#e41a1c" /><rect x="91.65" y="863.58" width="6.9" height="2.44" fill="#4daf4a" /><rect x="91.65" y="849.04" width="6.9" height="14.79" fill="#ff7f00" /><rect x="91.65" y="843.01" width="6.9" height="6.29" fill="#ffff33" /><rect x="91.65" y="837.11" width="6.9" height="6.15" fill="#a65628" /><rect x="91.65" y="835.6" width="6.9" height="1.76" fill="#1b9e77" /><rect x="91.65" y="792.26" width="6.9" height="43.59" fill="#d95f02" /><rect x="91.65" y="789.38" width="6.9" height="3.13" fill="#e7298a" /><rect x="91.65" y="751.11" width="6.9" height="38.52" fill="#66a61e" /><rect x="91.65" y="739.86" width="6.9" height="11.5" fill="#fc8d62" /><rect x="91.65" y="739.04" width="6.9" height="1.07" fill="#8da0cb" /><rect x="91.65" y="733.83" width="6.9" height="5.46" fill="#ffd92f" /><rect x="91.65" y="730.53" width="6.9" height="3.54" fill="#11ee11" /><rect x="91.65" y="729.3" width="6.9" height="1.48" fill="#e5e5e5" /><rect x="101.72" y="853.86" width="6.9" height="12.99" fill="#ff7f00" /><rect x="101.72" y="852.21" width="6.9" height="1.89" fill="#ffff33" /><rect x="101.72" y="843.85" width="6.9" height="8.61" fill="#a65628" /><rect x="101.72" y="842.62" width="6.9" height="1.48" fill="#66c2a5" /><rect x="101.72" y="817.41" width="6.9" height="25.46" fill="#d95f02" /><rect x="101.72" y="814.39" width="6.9" height="3.26" fill="#e7298a" /><rect x="101.72" y="743.55" width="6.9" height="71.09" fill="#66a61e" /><rect x="101.72" y="738.07" width="6.9" height="5.73" fill="#fc8d62" /><rect x="101.72" y="736.84" width="6.9" height="1.48" fill="#0000ff" /><rect x="101.72" y="731.77" width="6.9" height="5.32" fill="#ffd92f" /><rect x="101.72" y="730.12" width="6.9" height="1.89" fill="#555555" /><rect x="101.72" y="729.3" width="6.9" height="1.07" fill="#e5e5e5" /><rect x="111.79" y="864.13" width="6.9" height="2.72" fill="#e41a1c" /><rect x="111.79" y="858.08" width="6.9" height="6.3" fill="#4daf4a" /><rect x="111.79" y="843.79" width="6.9" height="14.54" fill="#ff7f00" /><rect x="111.79" y="839.52" width="6.9" height="4.51" fill="#ffff33" /><rect x="111.79" y="834.16" width="6.9" height="5.61" fill="#a65628" /><rect x="111.79" y="831.69" width="6.9" height="2.72" fill="#1b9e77" /><rect x="111.79" y="803.65" width="6.9" height="28.29" fill="#d95f02" /><rect x="111.79" y="800.36" width="6.9" height="3.55" fill="#e7298a" /><rect x="111.79" y="763.66" width="6.9" height="36.95" fill="#66a61e" /><rect x="111.79" y="749.37" width="6.9" height="14.54" fill="#fc8d62" /><rect x="111.79" y="745.66" width="6.9" height="3.96" fill="#0000ff" /><rect x="111.79" y="734.25" width="6.9" height="11.66" fill="#ffd92f" /><rect x="111.79" y="731.77" width="6.9" height="2.72" fill="#11ee11" /><rect x="111.79" y="729.3" width="6.9" height="2.72" fill="#e5e5e5" /><rect x="121.86" y="840.57" width="6.9" height="26.28" fill="#ff7f00" /><rect x="121.86" y="837.55" width="6.9" height="3.26" fill="#ffff33" /><rect x="121.86" y="831.11" width="6.9" height="6.69" fill="#a65628" /><rect x="121.86" y="790.55" width="6.9" height="40.81" fill="#d95f02" /><rect x="121.86" y="789.73" width="6.9" height="1.07" fill="#e7298a" /><rect x="121.86" y="747.8" width="6.9" height="42.18" fill="#66a61e" /><rect x="121.86" y="735.6" width="6.9" height="12.45" fill="#fc8d62" /><rect x="121.86" y="734.37" width="6.9" height="1.48" fill="#0000ff" /><rect x="121.86" y="732.73" width="6.9" height="1.89" fill="#ffd92f" /><rect x="121.86" y="730.67" width="6.9" height="2.31" fill="#11ee11" /><rect x="121.86" y="729.3" width="6.9" height="1.62" fill="#e5e5e5" /><rect x="131.93" y="856.85" width="6.9" height="10" fill="#ff7f00" /><rect x="131.93" y="850.67" width="6.9" height="6.43" fill="#ffff33" /><rect x="131.93" y="847.65" width="6.9" height="3.27" fill="#a65628" /><rect x="131.93" y="842.57" width="6.9" height="5.33" fill="#d95f02" /><rect x="131.93" y="830.35" width="6.9" height="12.47" fill="#e7298a" /><rect x="131.93" y="758.54" width="6.9" height="72.06" fill="#66a61e" /><rect x="131.93" y="741.79" width="6.9" height="17" fill="#fc8d62" /><rect x="131.93" y="739.32" width="6.9" height="2.72" fill="#0000ff" /><rect x="131.93" y="734.79" width="6.9" height="4.78" fill="#11ee11" /><rect x="131.93" y="733.14" width="6.9" height="1.9" fill="#555555" /><rect x="131.93" y="729.3" width="6.9" height="4.09" fill="#e5e5e5" /><rect x="142" y="865.23" width="6.9" height="1.62" fill="#e41a1c" /><rect x="142" y="855.64" width="6.9" height="9.84" fill="#4daf4a" /><rect x="142" y="854.68" width="6.9" height="1.21" fill="#9c1fe0" /><rect x="142" y="845.64" width="6.9" height="9.29" fill="#ff7f00" /><rect x="142" y="842.89" width="6.9" height="2.99" fill="#ffff33" /><rect x="142" y="839.61" width="6.9" height="3.54" fill="#a65628" /><rect x="142" y="837.14" width="6.9" height="2.72" fill="#f58fc8" /><rect x="142" y="835.91" width="6.9" height="1.48" fill="#1b9e77" /><rect x="142" y="820.42" width="6.9" height="15.73" fill="#d95f02" /><rect x="142" y="811.52" width="6.9" height="9.16" fill="#e7298a" /><rect x="142" y="762.05" width="6.9" height="49.72" fill="#66a61e" /><rect x="142" y="759.99" width="6.9" height="2.31" fill="#66c2a5" /><rect x="142" y="752.73" width="6.9" height="7.51" fill="#fc8d62" /><rect x="142" y="751.09" width="6.9" height="1.89" fill="#8da0cb" /><rect x="142" y="744.92" width="6.9" height="6.42" fill="#0000ff" /><rect x="142" y="741.08" width="6.9" height="4.09" fill="#ffd92f" /><rect x="142" y="739.85" width="6.9" height="1.48" fill="#11ee11" /><rect x="142" y="729.3" width="6.9" height="10.8" fill="#e5e5e5" /><rect x="152.07" y="865.23" width="6.9" height="1.62" fill="#e41a1c" /><rect x="152.07" y="858.51" width="6.9" height="6.97" fill="#4daf4a" /><rect x="152.07" y="857.68" width="6.9" height="1.07" fill="#9c1fe0" /><rect x="152.07" y="846.3" width="6.9" height="11.63" fill="#ff7f00" /><rect x="152.07" y="843.97" width="6.9" height="2.58" fill="#ffff33" /><rect x="152.07" y="838.48" width="6.9" height="5.74" fill="#a65628" /><rect x="152.07" y="837.25" width="6.9" height="1.48" fill="#b3b3b3" /><rect x="152.07" y="811.6" width="6.9" height="25.9" fill="#d95f02" /><rect x="152.07" y="809.13" width="6.9" height="2.72" fill="#e7298a" /><rect x="152.07" y="760.98" width="6.9" height="48.39" fill="#66a61e" /><rect x="152.07" y="759.61" width="6.9" height="1.62" fill="#e6ab02" /><rect x="152.07" y="751.66" width="6.9" height="8.21" fill="#fc8d62" /><rect x="152.07" y="744.39" width="6.9" height="7.52" fill="#0000ff" /><rect x="152.07" y="738.22" width="6.9" height="6.42" fill="#ffd92f" /><rect x="152.07" y="736.02" width="6.9" height="2.44" fill="#11ee11" /><rect x="152.07" y="729.3" width="6.9" height="6.97" fill="#e5e5e5" /><rect x="162.14" y="864.82" width="6.9" height="2.03" fill="#e41a1c" /><rect x="162.14" y="857.81" width="6.9" height="7.25" fill="#4daf4a" /><rect x="162.14" y="856.99" width="6.9" height="1.07" fill="#9c1fe0" /><rect x="162.14" y="845.73" width="6.9" height="11.51" fill="#ff7f00" /><rect x="162.14" y="844.36" width="6.9" height="1.62" fill="#ffff33" /><rect x="162.14" y="836.39" width="6.9" height="8.21" fill="#a65628" /><rect x="162.14" y="834.75" width="6.9" height="1.9" fill="#1b9e77" /><rect x="162.14" y="793.97" width="6.9" height="41.03" fill="#d95f02" /><rect x="162.14" y="789.44" width="6.9" height="4.78" fill="#e7298a" /><rect x="162.14" y="751.13" width="6.9" height="38.56" fill="#66a61e" /><rect x="162.14" y="739.32" width="6.9" height="12.06" fill="#fc8d62" /><rect x="162.14" y="737.68" width="6.9" height="1.9" fill="#0000ff" /><rect x="162.14" y="735.2" width="6.9" height="2.72" fill="#ffd92f" /><rect x="162.14" y="731.5" width="6.9" height="3.96" fill="#11ee11" /><rect x="162.14" y="729.3" width="6.9" height="2.45" fill="#e5e5e5" /><rect x="172.21" y="858.09" width="6.9" height="8.76" fill="#4daf4a" /><rect x="172.21" y="854.38" width="6.9" height="3.96" fill="#9c1fe0" /><rect x="172.21" y="851.91" width="6.9" height="2.72" fill="#ffff33" /><rect x="172.21" y="848.61" width="6.9" height="3.55" fill="#f58fc8" /><rect x="172.21" y="843.53" width="6.9" height="5.33" fill="#1b9e77" /><rect x="172.21" y="841.06" width="6.9" height="2.72" fill="#d95f02" /><rect x="172.21" y="825.14" width="6.9" height="16.18" fill="#e7298a" /><rect x="172.21" y="778.04" width="6.9" height="47.34" fill="#66a61e" /><rect x="172.21" y="774.2" width="6.9" height="4.09" fill="#fc8d62" /><rect x="172.21" y="762.11" width="6.9" height="12.33" fill="#0000ff" /><rect x="172.21" y="752.09" width="6.9" height="10.27" fill="#ffd92f" /><rect x="172.21" y="750.03" width="6.9" height="2.31" fill="#555555" /><rect x="172.21" y="729.3" width="6.9" height="20.98" fill="#e5e5e5" /><rect x="182.28" y="836.73" width="6.9" height="30.12" fill="#4daf4a" /><rect x="182.28" y="835.5" width="6.9" height="1.48" fill="#f58fc8" /><rect x="182.28" y="825.77" width="6.9" height="9.98" fill="#ff7f00" /><rect x="182.28" y="821.52" width="6.9" height="4.5" fill="#ffff33" /><rect x="182.28" y="817.68" width="6.9" height="4.09" fill="#a65628" /><rect x="182.28" y="798.91" width="6.9" height="19.02" fill="#d95f02" /><rect x="182.28" y="795.89" width="6.9" height="3.26" fill="#e7298a" /><rect x="182.28" y="759.45" width="6.9" height="36.7" fill="#66a61e" /><rect x="182.28" y="757.8" width="6.9" height="1.89" fill="#66c2a5" /><rect x="182.28" y="751.64" width="6.9" height="6.42" fill="#fc8d62" /><rect x="182.28" y="741.91" width="6.9" height="9.98" fill="#0000ff" /><rect x="182.28" y="736.01" width="6.9" height="6.14" fill="#ffd92f" /><rect x="182.28" y="734.37" width="6.9" height="1.89" fill="#11ee11" /><rect x="182.28" y="733.14" width="6.9" height="1.48" fill="#555555" /><rect x="182.28" y="729.3" width="6.9" height="4.09" fill="#e5e5e5" /><rect x="192.35" y="865.23" width="6.9" height="1.62" fill="#4daf4a" /><rect x="192.35" y="855.23" width="6.9" height="10.25" fill="#ff7f00" /><rect x="192.35" y="849.88" width="6.9" height="5.59" fill="#ffff33" /><rect x="192.35" y="847.14" width="6.9" height="2.99" fill="#a65628" /><rect x="192.35" y="842.07" width="6.9" height="5.32" fill="#d95f02" /><rect x="192.35" y="824.94" width="6.9" height="17.38" fill="#e7298a" /><rect x="192.35" y="795.89" width="6.9" height="29.3" fill="#66a61e" /><rect x="192.35" y="785.48" width="6.9" height="10.66" fill="#fc8d62" /><rect x="192.35" y="772.6" width="6.9" height="13.13" fill="#0000ff" /><rect x="192.35" y="759.86" width="6.9" height="12.99" fill="#ffd92f" /><rect x="192.35" y="753.28" width="6.9" height="6.83" fill="#11ee11" /><rect x="192.35" y="729.3" width="6.9" height="24.23" fill="#e5e5e5" /><rect x="202.42" y="863.03" width="6.9" height="3.82" fill="#4daf4a" /><rect x="202.42" y="842.05" width="6.9" height="21.24" fill="#ff7f00" /><rect x="202.42" y="836.7" width="6.9" height="5.6" fill="#ffff33" /><rect x="202.42" y="835.05" width="6.9" height="1.9" fill="#a65628" /><rect x="202.42" y="826.69" width="6.9" height="8.62" fill="#d95f02" /><rect x="202.42" y="819.14" width="6.9" height="7.79" fill="#e7298a" /><rect x="202.42" y="768.8" width="6.9" height="50.59" fill="#66a61e" /><rect x="202.42" y="757.42" width="6.9" height="11.63" fill="#fc8d62" /><rect x="202.42" y="749.19" width="6.9" height="8.48" fill="#0000ff" /><rect x="202.42" y="741.92" width="6.9" height="7.52" fill="#ffd92f" /><rect x="202.42" y="733.96" width="6.9" height="8.21" fill="#11ee11" /><rect x="202.42" y="729.3" width="6.9" height="4.91" fill="#e5e5e5" /><rect x="212.49" y="862.35" width="6.9" height="4.5" fill="#4daf4a" /><rect x="212.49" y="846.71" width="6.9" height="15.89" fill="#ff7f00" /><rect x="212.49" y="842.05" width="6.9" height="4.91" fill="#ffff33" /><rect x="212.49" y="840.4" width="6.9" height="1.9" fill="#a65628" /><rect x="212.49" y="833.82" width="6.9" height="6.83" fill="#d95f02" /><rect x="212.49" y="829.15" width="6.9" height="4.91" fill="#e7298a" /><rect x="212.49" y="792.26" width="6.9" height="37.15" fill="#66a61e" /><rect x="212.49" y="778.54" width="6.9" height="13.97" fill="#fc8d62" /><rect x="212.49" y="773.05" width="6.9" height="5.74" fill="#e78ac3" /><rect x="212.49" y="762.63" width="6.9" height="10.67" fill="#0000ff" /><rect x="212.49" y="741.1" width="6.9" height="21.78" fill="#ffd92f" /><rect x="212.49" y="736.02" width="6.9" height="5.33" fill="#11ee11" /><rect x="212.49" y="729.3" width="6.9" height="6.97" fill="#e5e5e5" /><rect x="222.56" y="836.73" width="6.9" height="30.12" fill="#ff7f00" /><rect x="222.56" y="829.19" width="6.9" height="7.79" fill="#ffff33" /><rect x="222.56" y="817.41" width="6.9" height="12.03" fill="#d95f02" /><rect x="222.56" y="812.89" width="6.9" height="4.77" fill="#e7298a" /><rect x="222.56" y="799.46" width="6.9" height="13.68" fill="#66a61e" /><rect x="222.56" y="781.78" width="6.9" height="17.93" fill="#fc8d62" /><rect x="222.56" y="771.23" width="6.9" height="10.8" fill="#0000ff" /><rect x="222.56" y="742.32" width="6.9" height="29.16" fill="#ffd92f" /><rect x="222.56" y="733.41" width="6.9" height="9.16" fill="#11ee11" /><rect x="222.56" y="731.77" width="6.9" height="1.89" fill="#555555" /><rect x="222.56" y="729.3" width="6.9" height="2.72" fill="#e5e5e5" /><rect x="232.63" y="865.23" width="6.9" height="1.62" fill="#377eb8" /><rect x="232.63" y="864" width="6.9" height="1.48" fill="#ff7f00" /><rect x="232.63" y="853.45" width="6.9" height="10.8" fill="#ffff33" /><rect x="232.63" y="842.48" width="6.9" height="11.21" fill="#e7298a" /><rect x="232.63" y="821.52" width="6.9" height="21.21" fill="#66a61e" /><rect x="232.63" y="819.46" width="6.9" height="2.31" fill="#66c2a5" /><rect x="232.63" y="799.18" width="6.9" height="20.53" fill="#fc8d62" /><rect x="232.63" y="797.13" width="6.9" height="2.31" fill="#e78ac3" /><rect x="232.63" y="780.82" width="6.9" height="16.56" fill="#0000ff" /><rect x="232.63" y="759.72" width="6.9" height="21.35" fill="#ffd92f" /><rect x="232.63" y="746.02" width="6.9" height="13.95" fill="#11ee11" /><rect x="232.63" y="729.3" width="6.9" height="16.97" fill="#e5e5e5" /><line x1="40.6" y1="870.6" x2="88.6" y2="870.6" stroke="#000" stroke-width="2" /><line x1="91.4" y1="870.6" x2="138.4" y2="870.6" stroke="#ffb400" stroke-width="2" /><line x1="141" y1="870.6" x2="188.6" y2="870.6" stroke="#ff1a1a" stroke-width="2" /><line x1="192" y1="870.6" x2="240.4" y2="870.6" stroke="#6464f0" stroke-width="2" /><text x="64.6" y="882.6" font-size="9.3" text-anchor="middle" font-weight="bold">Control</text><text x="114.4" y="882.6" font-size="9.3" text-anchor="middle" font-weight="bold">Dex-P/</text><text x="114.4" y="894.3" font-size="9.3" text-anchor="middle" font-weight="bold">PBS</text><text x="164.4" y="882.6" font-size="9.3" text-anchor="middle" font-weight="bold">Dex-P/</text><text x="164.4" y="894.3" font-size="9.3" text-anchor="middle" font-weight="bold">NPA<tspan dy="2.3" font-size="6.4">2</tspan></text><text x="215.6" y="885.6" font-size="9.3" text-anchor="middle" font-weight="bold">Healthy</text><rect x="6.9" y="903.9" width="12" height="2.1" fill="#e41a1c" /><text x="25.2" y="907.1" font-size="6.1" fill="#111">Alcaligenaceae</text><rect x="6.9" y="912.1" width="12" height="2.1" fill="#377eb8" /><text x="25.2" y="915.3" font-size="6.1" fill="#111">Anaeroplasmataceae</text><rect x="6.9" y="920" width="12" height="2.1" fill="#4daf4a" /><text x="25.2" y="923.2" font-size="6.1" fill="#111">Bacteroidaceae</text><rect x="6.9" y="928.1" width="12" height="2.1" fill="#9c1fe0" /><text x="25.2" y="931.3" font-size="6.1" fill="#111">Barnesiellaceae</text><rect x="6.9" y="936.8" width="12" height="2.1" fill="#ff7f00" /><text x="25.2" y="940" font-size="6.1" fill="#111">Bifidobacteriaceae</text><rect x="6.9" y="945.2" width="12" height="2.1" fill="#ffff33" /><text x="25.2" y="948.4" font-size="6.1" fill="#111">Clostridiaceae</text><rect x="6.9" y="953.5" width="12" height="2.1" fill="#a65628" /><text x="25.2" y="956.7" font-size="6.1" fill="#111">Coriobacteriaceae</text><rect x="6.9" y="962.6" width="12" height="2.1" fill="#9580d0" /><text x="25.2" y="965.8" font-size="6.1" fill="#111">Deferribacteraceae</text><rect x="6.9" y="971.8" width="12" height="2.1" fill="#555555" /><text x="25.2" y="975" font-size="6.1" fill="#111">Verrucomicrobiaceae</text><rect x="86.3" y="903.9" width="12" height="2.1" fill="#f58fc8" /><text x="104.8" y="907.1" font-size="6.1" fill="#111">Desulfovibrionaceae</text><rect x="86.3" y="912.1" width="12" height="2.1" fill="#1b9e77" /><text x="104.8" y="915.3" font-size="6.1" fill="#111">Enterobacteriaceae</text><rect x="86.3" y="920" width="12" height="2.1" fill="#d95f02" /><text x="104.8" y="923.2" font-size="6.1" fill="#111">Erysipelotrichaceae</text><rect x="86.3" y="928.1" width="12" height="2.1" fill="#7570b3" /><text x="104.8" y="931.3" font-size="6.1" fill="#111">Helicobacteraceae</text><rect x="86.3" y="936.8" width="12" height="2.1" fill="#e7298a" /><text x="104.8" y="940" font-size="6.1" fill="#111">Lachnospiraceae</text><rect x="86.3" y="945.6" width="12" height="2.1" fill="#66a61e" /><text x="104.8" y="948.8" font-size="6.1" fill="#111">Lactobacillaceae</text><rect x="86.3" y="954.5" width="12" height="2.1" fill="#e6ab02" /><text x="104.8" y="957.7" font-size="6.1" fill="#111">Mogibacteriaceae</text><rect x="86.3" y="963.4" width="12" height="2.1" fill="#66c2a5" /><text x="104.8" y="966.6" font-size="6.1" fill="#111">Paraprevotellaceae</text><rect x="86.3" y="973.8" width="12" height="2.1" fill="#e5e5e5" /><text x="104.8" y="977" font-size="6.1" fill="#111">Unclassified</text><rect x="175.9" y="904.4" width="12" height="2.1" fill="#fc8d62" /><text x="194.6" y="907.6" font-size="6.1" fill="#111">Peptostreptococcaceae</text><rect x="175.9" y="913.1" width="12" height="2.1" fill="#8da0cb" /><text x="194.6" y="916.3" font-size="6.1" fill="#111">Porphyromonadaceae</text><rect x="175.9" y="921.2" width="12" height="2.1" fill="#e78ac3" /><text x="194.6" y="924.4" font-size="6.1" fill="#111">Prevotellaceae</text><rect x="175.9" y="930.5" width="12" height="2.1" fill="#a6d854" /><text x="194.6" y="933.7" font-size="6.1" fill="#111">Rikenellaceae</text><rect x="175.9" y="939.5" width="12" height="2.1" fill="#0000ff" /><text x="194.6" y="942.7" font-size="6.1" fill="#111">Ruminococcaceae</text><rect x="175.9" y="947.2" width="12" height="2.1" fill="#ffd92f" /><text x="194.6" y="950.4" font-size="6.1" fill="#111">S24-7</text><rect x="175.9" y="956.1" width="12" height="2.1" fill="#b3b3b3" /><text x="194.6" y="959.3" font-size="6.1" fill="#111">Streptococcaceae</text><rect x="175.9" y="964.4" width="12" height="2.1" fill="#11ee11" /><text x="194.6" y="967.6" font-size="6.1" fill="#111">Turicibacteraceae</text><rect x="175.9" y="974.4" width="12" height="2.1" fill="#999999" /><text x="194.6" y="977.6" font-size="6.1" fill="#111">Others(&lt;0.5%)</text><text x="296.1" y="730.6" font-size="18.3" font-weight="bold">k</text><rect x="330.9" y="774.1" width="12.07" height="7.96" fill="#ffd86c" /><rect x="342.67" y="774.1" width="12.07" height="7.96" fill="#ff6a33" /><rect x="354.44" y="774.1" width="12.07" height="7.96" fill="#ff8c44" /><rect x="366.21" y="774.1" width="12.07" height="7.96" fill="#ff6a33" /><rect x="377.98" y="774.1" width="12.07" height="7.96" fill="#ffb257" /><rect x="389.75" y="774.1" width="12.07" height="7.96" fill="#ff6a33" /><rect x="401.52" y="774.1" width="12.07" height="7.96" fill="#ffd86c" /><rect x="413.29" y="774.1" width="12.07" height="7.96" fill="#e8e68e" /><rect x="425.06" y="774.1" width="12.07" height="7.96" fill="#ff8c44" /><rect x="436.83" y="774.1" width="12.07" height="7.96" fill="#ff6a33" /><rect x="448.6" y="774.1" width="12.07" height="7.96" fill="#ffb257" /><rect x="460.37" y="774.1" width="12.07" height="7.96" fill="#ffb257" /><rect x="472.14" y="774.1" width="12.07" height="7.96" fill="#ffd86c" /><rect x="483.91" y="774.1" width="12.07" height="7.96" fill="#fff67c" /><rect x="495.68" y="774.1" width="12.07" height="7.96" fill="#a8a8b0" /><rect x="507.45" y="774.1" width="12.07" height="7.96" fill="#fff67c" /><rect x="519.22" y="774.1" width="12.07" height="7.96" fill="#ffd86c" /><rect x="530.99" y="774.1" width="12.07" height="7.96" fill="#ffd86c" /><rect x="542.76" y="774.1" width="12.07" height="7.96" fill="#d4d498" /><rect x="554.53" y="774.1" width="11.77" height="7.96" fill="#d4d498" /><text x="567.4" y="779.73" font-size="5.15" fill="#222">Alcaligenaceae</text><rect x="330.9" y="781.76" width="12.07" height="7.96" fill="#7a7ac8" /><rect x="342.67" y="781.76" width="12.07" height="7.96" fill="#c2c2a6" /><rect x="354.44" y="781.76" width="12.07" height="7.96" fill="#d4d498" /><rect x="366.21" y="781.76" width="12.07" height="7.96" fill="#c2c2a6" /><rect x="377.98" y="781.76" width="12.07" height="7.96" fill="#9292c0" /><rect x="389.75" y="781.76" width="12.07" height="7.96" fill="#7a7ac8" /><rect x="401.52" y="781.76" width="12.07" height="7.96" fill="#a8a8b0" /><rect x="413.29" y="781.76" width="12.07" height="7.96" fill="#c2c2a6" /><rect x="425.06" y="781.76" width="12.07" height="7.96" fill="#c2c2a6" /><rect x="436.83" y="781.76" width="12.07" height="7.96" fill="#7a7ac8" /><rect x="448.6" y="781.76" width="12.07" height="7.96" fill="#ffb257" /><rect x="460.37" y="781.76" width="12.07" height="7.96" fill="#d4d498" /><rect x="472.14" y="781.76" width="12.07" height="7.96" fill="#fff67c" /><rect x="483.91" y="781.76" width="12.07" height="7.96" fill="#e8e68e" /><rect x="495.68" y="781.76" width="12.07" height="7.96" fill="#a8a8b0" /><rect x="507.45" y="781.76" width="12.07" height="7.96" fill="#a8a8b0" /><rect x="519.22" y="781.76" width="12.07" height="7.96" fill="#c2c2a6" /><rect x="530.99" y="781.76" width="12.07" height="7.96" fill="#fff67c" /><rect x="542.76" y="781.76" width="12.07" height="7.96" fill="#7a7ac8" /><rect x="554.53" y="781.76" width="11.77" height="7.96" fill="#ffb257" /><text x="567.4" y="787.39" font-size="5.15" fill="#222">Anaeroplasmataceae</text><rect x="330.9" y="789.42" width="12.07" height="7.96" fill="#ffb257" /><rect x="342.67" y="789.42" width="12.07" height="7.96" fill="#ffd86c" /><rect x="354.44" y="789.42" width="12.07" height="7.96" fill="#fff67c" /><rect x="366.21" y="789.42" width="12.07" height="7.96" fill="#ffd86c" /><rect x="377.98" y="789.42" width="12.07" height="7.96" fill="#fff67c" /><rect x="389.75" y="789.42" width="12.07" height="7.96" fill="#e8e68e" /><rect x="401.52" y="789.42" width="12.07" height="7.96" fill="#fff67c" /><rect x="413.29" y="789.42" width="12.07" height="7.96" fill="#d4d498" /><rect x="425.06" y="789.42" width="12.07" height="7.96" fill="#fff67c" /><rect x="436.83" y="789.42" width="12.07" height="7.96" fill="#fff67c" /><rect x="448.6" y="789.42" width="12.07" height="7.96" fill="#ff8c44" /><rect x="460.37" y="789.42" width="12.07" height="7.96" fill="#ffd86c" /><rect x="472.14" y="789.42" width="12.07" height="7.96" fill="#ffd86c" /><rect x="483.91" y="789.42" width="12.07" height="7.96" fill="#ff8c44" /><rect x="495.68" y="789.42" width="12.07" height="7.96" fill="#fff67c" /><rect x="507.45" y="789.42" width="12.07" height="7.96" fill="#ffb257" /><rect x="519.22" y="789.42" width="12.07" height="7.96" fill="#fff67c" /><rect x="530.99" y="789.42" width="12.07" height="7.96" fill="#fff67c" /><rect x="542.76" y="789.42" width="12.07" height="7.96" fill="#fff67c" /><rect x="554.53" y="789.42" width="11.77" height="7.96" fill="#ffd86c" /><text x="567.4" y="795.05" font-size="5.15" fill="#222">Desulfovibrionaceae</text><rect x="330.9" y="797.08" width="12.07" height="7.96" fill="#e8e68e" /><rect x="342.67" y="797.08" width="12.07" height="7.96" fill="#d4d498" /><rect x="354.44" y="797.08" width="12.07" height="7.96" fill="#c2c2a6" /><rect x="366.21" y="797.08" width="12.07" height="7.96" fill="#fff67c" /><rect x="377.98" y="797.08" width="12.07" height="7.96" fill="#e8e68e" /><rect x="389.75" y="797.08" width="12.07" height="7.96" fill="#d4d498" /><rect x="401.52" y="797.08" width="12.07" height="7.96" fill="#c2c2a6" /><rect x="413.29" y="797.08" width="12.07" height="7.96" fill="#c2c2a6" /><rect x="425.06" y="797.08" width="12.07" height="7.96" fill="#ffd86c" /><rect x="436.83" y="797.08" width="12.07" height="7.96" fill="#e8e68e" /><rect x="448.6" y="797.08" width="12.07" height="7.96" fill="#ffb257" /><rect x="460.37" y="797.08" width="12.07" height="7.96" fill="#fff67c" /><rect x="472.14" y="797.08" width="12.07" height="7.96" fill="#ffd86c" /><rect x="483.91" y="797.08" width="12.07" height="7.96" fill="#ffd86c" /><rect x="495.68" y="797.08" width="12.07" height="7.96" fill="#d4d498" /><rect x="507.45" y="797.08" width="12.07" height="7.96" fill="#ffd86c" /><rect x="519.22" y="797.08" width="12.07" height="7.96" fill="#fff67c" /><rect x="530.99" y="797.08" width="12.07" height="7.96" fill="#ffd86c" /><rect x="542.76" y="797.08" width="12.07" height="7.96" fill="#d4d498" /><rect x="554.53" y="797.08" width="11.77" height="7.96" fill="#ffd86c" /><text x="567.4" y="802.71" font-size="5.15" fill="#222">Rikenellaceae</text><rect x="330.9" y="804.74" width="12.07" height="7.96" fill="#ff8c44" /><rect x="342.67" y="804.74" width="12.07" height="7.96" fill="#ff8c44" /><rect x="354.44" y="804.74" width="12.07" height="7.96" fill="#ff8c44" /><rect x="366.21" y="804.74" width="12.07" height="7.96" fill="#ff6a33" /><rect x="377.98" y="804.74" width="12.07" height="7.96" fill="#ffd86c" /><rect x="389.75" y="804.74" width="12.07" height="7.96" fill="#ffd86c" /><rect x="401.52" y="804.74" width="12.07" height="7.96" fill="#ffb257" /><rect x="413.29" y="804.74" width="12.07" height="7.96" fill="#ff8c44" /><rect x="425.06" y="804.74" width="12.07" height="7.96" fill="#ff4a25" /><rect x="436.83" y="804.74" width="12.07" height="7.96" fill="#ff8c44" /><rect x="448.6" y="804.74" width="12.07" height="7.96" fill="#ff4a25" /><rect x="460.37" y="804.74" width="12.07" height="7.96" fill="#ff6a33" /><rect x="472.14" y="804.74" width="12.07" height="7.96" fill="#ff4a25" /><rect x="483.91" y="804.74" width="12.07" height="7.96" fill="#ff4a25" /><rect x="495.68" y="804.74" width="12.07" height="7.96" fill="#ff8c44" /><rect x="507.45" y="804.74" width="12.07" height="7.96" fill="#ff4a25" /><rect x="519.22" y="804.74" width="12.07" height="7.96" fill="#ff4a25" /><rect x="530.99" y="804.74" width="12.07" height="7.96" fill="#ff4a25" /><rect x="542.76" y="804.74" width="12.07" height="7.96" fill="#ff4a25" /><rect x="554.53" y="804.74" width="11.77" height="7.96" fill="#ff4a25" /><text x="567.4" y="810.37" font-size="5.15" fill="#222">Ruminococcaceae</text><rect x="330.9" y="812.4" width="12.07" height="7.96" fill="#ff4a25" /><rect x="342.67" y="812.4" width="12.07" height="7.96" fill="#ff8c44" /><rect x="354.44" y="812.4" width="12.07" height="7.96" fill="#ff8c44" /><rect x="366.21" y="812.4" width="12.07" height="7.96" fill="#ff8c44" /><rect x="377.98" y="812.4" width="12.07" height="7.96" fill="#ffb257" /><rect x="389.75" y="812.4" width="12.07" height="7.96" fill="#ff8c44" /><rect x="401.52" y="812.4" width="12.07" height="7.96" fill="#ff8c44" /><rect x="413.29" y="812.4" width="12.07" height="7.96" fill="#ffb257" /><rect x="425.06" y="812.4" width="12.07" height="7.96" fill="#ff4a25" /><rect x="436.83" y="812.4" width="12.07" height="7.96" fill="#ffb257" /><rect x="448.6" y="812.4" width="12.07" height="7.96" fill="#ff4a25" /><rect x="460.37" y="812.4" width="12.07" height="7.96" fill="#ff6a33" /><rect x="472.14" y="812.4" width="12.07" height="7.96" fill="#ff6a33" /><rect x="483.91" y="812.4" width="12.07" height="7.96" fill="#ff0000" /><rect x="495.68" y="812.4" width="12.07" height="7.96" fill="#ff6a33" /><rect x="507.45" y="812.4" width="12.07" height="7.96" fill="#ff0000" /><rect x="519.22" y="812.4" width="12.07" height="7.96" fill="#ff6a33" /><rect x="530.99" y="812.4" width="12.07" height="7.96" fill="#ff6a33" /><rect x="542.76" y="812.4" width="12.07" height="7.96" fill="#ff6a33" /><rect x="554.53" y="812.4" width="11.77" height="7.96" fill="#ff0000" /><text x="567.4" y="818.03" font-size="5.15" fill="#222">Unclassified</text><rect x="330.9" y="820.06" width="12.07" height="7.96" fill="#e8e68e" /><rect x="342.67" y="820.06" width="12.07" height="7.96" fill="#ffd86c" /><rect x="354.44" y="820.06" width="12.07" height="7.96" fill="#fff67c" /><rect x="366.21" y="820.06" width="12.07" height="7.96" fill="#fff67c" /><rect x="377.98" y="820.06" width="12.07" height="7.96" fill="#fff67c" /><rect x="389.75" y="820.06" width="12.07" height="7.96" fill="#c2c2a6" /><rect x="401.52" y="820.06" width="12.07" height="7.96" fill="#fff67c" /><rect x="413.29" y="820.06" width="12.07" height="7.96" fill="#e8e68e" /><rect x="425.06" y="820.06" width="12.07" height="7.96" fill="#ffd86c" /><rect x="436.83" y="820.06" width="12.07" height="7.96" fill="#c2c2a6" /><rect x="448.6" y="820.06" width="12.07" height="7.96" fill="#fff67c" /><rect x="460.37" y="820.06" width="12.07" height="7.96" fill="#ffb257" /><rect x="472.14" y="820.06" width="12.07" height="7.96" fill="#fff67c" /><rect x="483.91" y="820.06" width="12.07" height="7.96" fill="#fff67c" /><rect x="495.68" y="820.06" width="12.07" height="7.96" fill="#ffb257" /><rect x="507.45" y="820.06" width="12.07" height="7.96" fill="#ffd86c" /><rect x="519.22" y="820.06" width="12.07" height="7.96" fill="#e8e68e" /><rect x="530.99" y="820.06" width="12.07" height="7.96" fill="#fff67c" /><rect x="542.76" y="820.06" width="12.07" height="7.96" fill="#e8e68e" /><rect x="554.53" y="820.06" width="11.77" height="7.96" fill="#fff67c" /><text x="567.4" y="825.69" font-size="5.15" fill="#222">Mogibacteriaceae</text><rect x="330.9" y="827.72" width="12.07" height="7.96" fill="#7a7ac8" /><rect x="342.67" y="827.72" width="12.07" height="7.96" fill="#a8a8b0" /><rect x="354.44" y="827.72" width="12.07" height="7.96" fill="#9292c0" /><rect x="366.21" y="827.72" width="12.07" height="7.96" fill="#9292c0" /><rect x="377.98" y="827.72" width="12.07" height="7.96" fill="#a8a8b0" /><rect x="389.75" y="827.72" width="12.07" height="7.96" fill="#9292c0" /><rect x="401.52" y="827.72" width="12.07" height="7.96" fill="#7a7ac8" /><rect x="413.29" y="827.72" width="12.07" height="7.96" fill="#7a7ac8" /><rect x="425.06" y="827.72" width="12.07" height="7.96" fill="#9292c0" /><rect x="436.83" y="827.72" width="12.07" height="7.96" fill="#7a7ac8" /><rect x="448.6" y="827.72" width="12.07" height="7.96" fill="#a8a8b0" /><rect x="460.37" y="827.72" width="12.07" height="7.96" fill="#7a7ac8" /><rect x="472.14" y="827.72" width="12.07" height="7.96" fill="#7a7ac8" /><rect x="483.91" y="827.72" width="12.07" height="7.96" fill="#7a7ac8" /><rect x="495.68" y="827.72" width="12.07" height="7.96" fill="#a8a8b0" /><rect x="507.45" y="827.72" width="12.07" height="7.96" fill="#ffb257" /><rect x="519.22" y="827.72" width="12.07" height="7.96" fill="#ffd86c" /><rect x="530.99" y="827.72" width="12.07" height="7.96" fill="#ff6a33" /><rect x="542.76" y="827.72" width="12.07" height="7.96" fill="#ffd86c" /><rect x="554.53" y="827.72" width="11.77" height="7.96" fill="#ff8c44" /><text x="567.4" y="833.35" font-size="5.15" fill="#222">Prevotellaceae</text><rect x="330.9" y="835.38" width="12.07" height="7.96" fill="#ffd86c" /><rect x="342.67" y="835.38" width="12.07" height="7.96" fill="#ff6a33" /><rect x="354.44" y="835.38" width="12.07" height="7.96" fill="#ff8c44" /><rect x="366.21" y="835.38" width="12.07" height="7.96" fill="#ff4a25" /><rect x="377.98" y="835.38" width="12.07" height="7.96" fill="#ff6a33" /><rect x="389.75" y="835.38" width="12.07" height="7.96" fill="#ff8c44" /><rect x="401.52" y="835.38" width="12.07" height="7.96" fill="#ff6a33" /><rect x="413.29" y="835.38" width="12.07" height="7.96" fill="#ffb257" /><rect x="425.06" y="835.38" width="12.07" height="7.96" fill="#ff4a25" /><rect x="436.83" y="835.38" width="12.07" height="7.96" fill="#ff6a33" /><rect x="448.6" y="835.38" width="12.07" height="7.96" fill="#ff6a33" /><rect x="460.37" y="835.38" width="12.07" height="7.96" fill="#ff4a25" /><rect x="472.14" y="835.38" width="12.07" height="7.96" fill="#ff4a25" /><rect x="483.91" y="835.38" width="12.07" height="7.96" fill="#ff4a25" /><rect x="495.68" y="835.38" width="12.07" height="7.96" fill="#ff8c44" /><rect x="507.45" y="835.38" width="12.07" height="7.96" fill="#ff4a25" /><rect x="519.22" y="835.38" width="12.07" height="7.96" fill="#ff4a25" /><rect x="530.99" y="835.38" width="12.07" height="7.96" fill="#ff2a15" /><rect x="542.76" y="835.38" width="12.07" height="7.96" fill="#ff2a15" /><rect x="554.53" y="835.38" width="11.77" height="7.96" fill="#ff2a15" /><text x="567.4" y="841.01" font-size="5.15" fill="#222">S24-7</text><rect x="330.9" y="843.04" width="12.07" height="7.96" fill="#ff4a25" /><rect x="342.67" y="843.04" width="12.07" height="7.96" fill="#ff6a33" /><rect x="354.44" y="843.04" width="12.07" height="7.96" fill="#ff4a25" /><rect x="366.21" y="843.04" width="12.07" height="7.96" fill="#ff4a25" /><rect x="377.98" y="843.04" width="12.07" height="7.96" fill="#ff8c44" /><rect x="389.75" y="843.04" width="12.07" height="7.96" fill="#ff4a25" /><rect x="401.52" y="843.04" width="12.07" height="7.96" fill="#fff67c" /><rect x="413.29" y="843.04" width="12.07" height="7.96" fill="#e8e68e" /><rect x="425.06" y="843.04" width="12.07" height="7.96" fill="#ff0000" /><rect x="436.83" y="843.04" width="12.07" height="7.96" fill="#ff0000" /><rect x="448.6" y="843.04" width="12.07" height="7.96" fill="#ff4a25" /><rect x="460.37" y="843.04" width="12.07" height="7.96" fill="#ff4a25" /><rect x="472.14" y="843.04" width="12.07" height="7.96" fill="#ff0000" /><rect x="483.91" y="843.04" width="12.07" height="7.96" fill="#ff4a25" /><rect x="495.68" y="843.04" width="12.07" height="7.96" fill="#fff67c" /><rect x="507.45" y="843.04" width="12.07" height="7.96" fill="#ff8c44" /><rect x="519.22" y="843.04" width="12.07" height="7.96" fill="#ff6a33" /><rect x="530.99" y="843.04" width="12.07" height="7.96" fill="#ff6a33" /><rect x="542.76" y="843.04" width="12.07" height="7.96" fill="#ffd86c" /><rect x="554.53" y="843.04" width="11.77" height="7.96" fill="#ff8c44" /><text x="567.4" y="848.67" font-size="5.15" fill="#222">Bacteroidaceae</text><rect x="330.9" y="850.7" width="12.07" height="7.96" fill="#e8e68e" /><rect x="342.67" y="850.7" width="12.07" height="7.96" fill="#e8e68e" /><rect x="354.44" y="850.7" width="12.07" height="7.96" fill="#ffd86c" /><rect x="366.21" y="850.7" width="12.07" height="7.96" fill="#ffd86c" /><rect x="377.98" y="850.7" width="12.07" height="7.96" fill="#fff67c" /><rect x="389.75" y="850.7" width="12.07" height="7.96" fill="#ffd86c" /><rect x="401.52" y="850.7" width="12.07" height="7.96" fill="#a8a8b0" /><rect x="413.29" y="850.7" width="12.07" height="7.96" fill="#c2c2a6" /><rect x="425.06" y="850.7" width="12.07" height="7.96" fill="#ffb257" /><rect x="436.83" y="850.7" width="12.07" height="7.96" fill="#ffb257" /><rect x="448.6" y="850.7" width="12.07" height="7.96" fill="#ffb257" /><rect x="460.37" y="850.7" width="12.07" height="7.96" fill="#ffb257" /><rect x="472.14" y="850.7" width="12.07" height="7.96" fill="#ffb257" /><rect x="483.91" y="850.7" width="12.07" height="7.96" fill="#ffb257" /><rect x="495.68" y="850.7" width="12.07" height="7.96" fill="#e8e68e" /><rect x="507.45" y="850.7" width="12.07" height="7.96" fill="#fff67c" /><rect x="519.22" y="850.7" width="12.07" height="7.96" fill="#ffd86c" /><rect x="530.99" y="850.7" width="12.07" height="7.96" fill="#ffd86c" /><rect x="542.76" y="850.7" width="12.07" height="7.96" fill="#e8e68e" /><rect x="554.53" y="850.7" width="11.77" height="7.96" fill="#fff67c" /><text x="567.4" y="856.33" font-size="5.15" fill="#222">Porphyromonadaceae</text><rect x="330.9" y="858.36" width="12.07" height="7.96" fill="#d4d498" /><rect x="342.67" y="858.36" width="12.07" height="7.96" fill="#e8e68e" /><rect x="354.44" y="858.36" width="12.07" height="7.96" fill="#ffd86c" /><rect x="366.21" y="858.36" width="12.07" height="7.96" fill="#ffd86c" /><rect x="377.98" y="858.36" width="12.07" height="7.96" fill="#e8e68e" /><rect x="389.75" y="858.36" width="12.07" height="7.96" fill="#fff67c" /><rect x="401.52" y="858.36" width="12.07" height="7.96" fill="#c2c2a6" /><rect x="413.29" y="858.36" width="12.07" height="7.96" fill="#c2c2a6" /><rect x="425.06" y="858.36" width="12.07" height="7.96" fill="#ff8c44" /><rect x="436.83" y="858.36" width="12.07" height="7.96" fill="#ffb257" /><rect x="448.6" y="858.36" width="12.07" height="7.96" fill="#ff8c44" /><rect x="460.37" y="858.36" width="12.07" height="7.96" fill="#ffb257" /><rect x="472.14" y="858.36" width="12.07" height="7.96" fill="#ffb257" /><rect x="483.91" y="858.36" width="12.07" height="7.96" fill="#ff6a33" /><rect x="495.68" y="858.36" width="12.07" height="7.96" fill="#d4d498" /><rect x="507.45" y="858.36" width="12.07" height="7.96" fill="#d4d498" /><rect x="519.22" y="858.36" width="12.07" height="7.96" fill="#d4d498" /><rect x="530.99" y="858.36" width="12.07" height="7.96" fill="#d4d498" /><rect x="542.76" y="858.36" width="12.07" height="7.96" fill="#c2c2a6" /><rect x="554.53" y="858.36" width="11.77" height="7.96" fill="#c2c2a6" /><text x="567.4" y="863.99" font-size="5.15" fill="#222">Barnesiellaceae</text><rect x="330.9" y="866.02" width="12.07" height="7.96" fill="#ffb257" /><rect x="342.67" y="866.02" width="12.07" height="7.96" fill="#e8e68e" /><rect x="354.44" y="866.02" width="12.07" height="7.96" fill="#fff67c" /><rect x="366.21" y="866.02" width="12.07" height="7.96" fill="#ffd86c" /><rect x="377.98" y="866.02" width="12.07" height="7.96" fill="#c2c2a6" /><rect x="389.75" y="866.02" width="12.07" height="7.96" fill="#ffd86c" /><rect x="401.52" y="866.02" width="12.07" height="7.96" fill="#e8e68e" /><rect x="413.29" y="866.02" width="12.07" height="7.96" fill="#d4d498" /><rect x="425.06" y="866.02" width="12.07" height="7.96" fill="#ff4a25" /><rect x="436.83" y="866.02" width="12.07" height="7.96" fill="#ff8c44" /><rect x="448.6" y="866.02" width="12.07" height="7.96" fill="#ff8c44" /><rect x="460.37" y="866.02" width="12.07" height="7.96" fill="#ffb257" /><rect x="472.14" y="866.02" width="12.07" height="7.96" fill="#ff8c44" /><rect x="483.91" y="866.02" width="12.07" height="7.96" fill="#ffd86c" /><rect x="495.68" y="866.02" width="12.07" height="7.96" fill="#e8e68e" /><rect x="507.45" y="866.02" width="12.07" height="7.96" fill="#d4d498" /><rect x="519.22" y="866.02" width="12.07" height="7.96" fill="#e8e68e" /><rect x="530.99" y="866.02" width="12.07" height="7.96" fill="#fff67c" /><rect x="542.76" y="866.02" width="12.07" height="7.96" fill="#fff67c" /><rect x="554.53" y="866.02" width="11.77" height="7.96" fill="#ff8c44" /><text x="567.4" y="871.65" font-size="5.15" fill="#222">Paraprevotellaceae</text><rect x="330.9" y="873.68" width="12.07" height="7.96" fill="#d4d498" /><rect x="342.67" y="873.68" width="12.07" height="7.96" fill="#c2c2a6" /><rect x="354.44" y="873.68" width="12.07" height="7.96" fill="#fff67c" /><rect x="366.21" y="873.68" width="12.07" height="7.96" fill="#a8a8b0" /><rect x="377.98" y="873.68" width="12.07" height="7.96" fill="#c2c2a6" /><rect x="389.75" y="873.68" width="12.07" height="7.96" fill="#d4d498" /><rect x="401.52" y="873.68" width="12.07" height="7.96" fill="#a8a8b0" /><rect x="413.29" y="873.68" width="12.07" height="7.96" fill="#9292c0" /><rect x="425.06" y="873.68" width="12.07" height="7.96" fill="#e8e68e" /><rect x="436.83" y="873.68" width="12.07" height="7.96" fill="#d4d498" /><rect x="448.6" y="873.68" width="12.07" height="7.96" fill="#ffd86c" /><rect x="460.37" y="873.68" width="12.07" height="7.96" fill="#e8e68e" /><rect x="472.14" y="873.68" width="12.07" height="7.96" fill="#d4d498" /><rect x="483.91" y="873.68" width="12.07" height="7.96" fill="#e8e68e" /><rect x="495.68" y="873.68" width="12.07" height="7.96" fill="#9292c0" /><rect x="507.45" y="873.68" width="12.07" height="7.96" fill="#d4d498" /><rect x="519.22" y="873.68" width="12.07" height="7.96" fill="#e8e68e" /><rect x="530.99" y="873.68" width="12.07" height="7.96" fill="#e8e68e" /><rect x="542.76" y="873.68" width="12.07" height="7.96" fill="#d4d498" /><rect x="554.53" y="873.68" width="11.77" height="7.96" fill="#d4d498" /><text x="567.4" y="879.31" font-size="5.15" fill="#222">Deferribacteraceae</text><rect x="330.9" y="881.34" width="12.07" height="7.96" fill="#ff4a25" /><rect x="342.67" y="881.34" width="12.07" height="7.96" fill="#ff8c44" /><rect x="354.44" y="881.34" width="12.07" height="7.96" fill="#ffb257" /><rect x="366.21" y="881.34" width="12.07" height="7.96" fill="#ff8c44" /><rect x="377.98" y="881.34" width="12.07" height="7.96" fill="#ffb257" /><rect x="389.75" y="881.34" width="12.07" height="7.96" fill="#ff4a25" /><rect x="401.52" y="881.34" width="12.07" height="7.96" fill="#ffb257" /><rect x="413.29" y="881.34" width="12.07" height="7.96" fill="#ffd86c" /><rect x="425.06" y="881.34" width="12.07" height="7.96" fill="#ff8c44" /><rect x="436.83" y="881.34" width="12.07" height="7.96" fill="#ff6a33" /><rect x="448.6" y="881.34" width="12.07" height="7.96" fill="#ffb257" /><rect x="460.37" y="881.34" width="12.07" height="7.96" fill="#ffb257" /><rect x="472.14" y="881.34" width="12.07" height="7.96" fill="#d4d498" /><rect x="483.91" y="881.34" width="12.07" height="7.96" fill="#ff6a33" /><rect x="495.68" y="881.34" width="12.07" height="7.96" fill="#ffd86c" /><rect x="507.45" y="881.34" width="12.07" height="7.96" fill="#a8a8b0" /><rect x="519.22" y="881.34" width="12.07" height="7.96" fill="#e8e68e" /><rect x="530.99" y="881.34" width="12.07" height="7.96" fill="#e8e68e" /><rect x="542.76" y="881.34" width="12.07" height="7.96" fill="#d4d498" /><rect x="554.53" y="881.34" width="11.77" height="7.96" fill="#d4d498" /><text x="567.4" y="886.97" font-size="5.15" fill="#222">Enterobacteriaceae</text><rect x="330.9" y="889" width="12.07" height="7.96" fill="#fff67c" /><rect x="342.67" y="889" width="12.07" height="7.96" fill="#ffd86c" /><rect x="354.44" y="889" width="12.07" height="7.96" fill="#fff67c" /><rect x="366.21" y="889" width="12.07" height="7.96" fill="#fff67c" /><rect x="377.98" y="889" width="12.07" height="7.96" fill="#d4d498" /><rect x="389.75" y="889" width="12.07" height="7.96" fill="#ffb257" /><rect x="401.52" y="889" width="12.07" height="7.96" fill="#c2c2a6" /><rect x="413.29" y="889" width="12.07" height="7.96" fill="#e8e68e" /><rect x="425.06" y="889" width="12.07" height="7.96" fill="#ffd86c" /><rect x="436.83" y="889" width="12.07" height="7.96" fill="#fff67c" /><rect x="448.6" y="889" width="12.07" height="7.96" fill="#e8e68e" /><rect x="460.37" y="889" width="12.07" height="7.96" fill="#c2c2a6" /><rect x="472.14" y="889" width="12.07" height="7.96" fill="#d4d498" /><rect x="483.91" y="889" width="12.07" height="7.96" fill="#ffd86c" /><rect x="495.68" y="889" width="12.07" height="7.96" fill="#fff67c" /><rect x="507.45" y="889" width="12.07" height="7.96" fill="#e8e68e" /><rect x="519.22" y="889" width="12.07" height="7.96" fill="#fff67c" /><rect x="530.99" y="889" width="12.07" height="7.96" fill="#fff67c" /><rect x="542.76" y="889" width="12.07" height="7.96" fill="#d4d498" /><rect x="554.53" y="889" width="11.77" height="7.96" fill="#e8e68e" /><text x="567.4" y="894.63" font-size="5.15" fill="#222">Streptococcaceae</text><rect x="330.9" y="896.66" width="12.07" height="7.96" fill="#ffb257" /><rect x="342.67" y="896.66" width="12.07" height="7.96" fill="#ffb257" /><rect x="354.44" y="896.66" width="12.07" height="7.96" fill="#fff67c" /><rect x="366.21" y="896.66" width="12.07" height="7.96" fill="#ffd86c" /><rect x="377.98" y="896.66" width="12.07" height="7.96" fill="#ffd86c" /><rect x="389.75" y="896.66" width="12.07" height="7.96" fill="#ffb257" /><rect x="401.52" y="896.66" width="12.07" height="7.96" fill="#fff67c" /><rect x="413.29" y="896.66" width="12.07" height="7.96" fill="#ffd86c" /><rect x="425.06" y="896.66" width="12.07" height="7.96" fill="#ffb257" /><rect x="436.83" y="896.66" width="12.07" height="7.96" fill="#ffd86c" /><rect x="448.6" y="896.66" width="12.07" height="7.96" fill="#ffb257" /><rect x="460.37" y="896.66" width="12.07" height="7.96" fill="#ffd86c" /><rect x="472.14" y="896.66" width="12.07" height="7.96" fill="#ffd86c" /><rect x="483.91" y="896.66" width="12.07" height="7.96" fill="#ffb257" /><rect x="495.68" y="896.66" width="12.07" height="7.96" fill="#ffd86c" /><rect x="507.45" y="896.66" width="12.07" height="7.96" fill="#ffd86c" /><rect x="519.22" y="896.66" width="12.07" height="7.96" fill="#ffd86c" /><rect x="530.99" y="896.66" width="12.07" height="7.96" fill="#ffd86c" /><rect x="542.76" y="896.66" width="12.07" height="7.96" fill="#fff67c" /><rect x="554.53" y="896.66" width="11.77" height="7.96" fill="#ffb257" /><text x="567.4" y="902.29" font-size="5.15" fill="#222">Others(&lt;0.5%)</text><rect x="330.9" y="904.32" width="12.07" height="7.96" fill="#ff4a25" /><rect x="342.67" y="904.32" width="12.07" height="7.96" fill="#ff4a25" /><rect x="354.44" y="904.32" width="12.07" height="7.96" fill="#ff4a25" /><rect x="366.21" y="904.32" width="12.07" height="7.96" fill="#ff4a25" /><rect x="377.98" y="904.32" width="12.07" height="7.96" fill="#ff2a15" /><rect x="389.75" y="904.32" width="12.07" height="7.96" fill="#ff4a25" /><rect x="401.52" y="904.32" width="12.07" height="7.96" fill="#ff4a25" /><rect x="413.29" y="904.32" width="12.07" height="7.96" fill="#ff2a15" /><rect x="425.06" y="904.32" width="12.07" height="7.96" fill="#ff2a15" /><rect x="436.83" y="904.32" width="12.07" height="7.96" fill="#ff4a25" /><rect x="448.6" y="904.32" width="12.07" height="7.96" fill="#ff4a25" /><rect x="460.37" y="904.32" width="12.07" height="7.96" fill="#ff4a25" /><rect x="472.14" y="904.32" width="12.07" height="7.96" fill="#ff4a25" /><rect x="483.91" y="904.32" width="12.07" height="7.96" fill="#ffb257" /><rect x="495.68" y="904.32" width="12.07" height="7.96" fill="#ff4a25" /><rect x="507.45" y="904.32" width="12.07" height="7.96" fill="#ff4a25" /><rect x="519.22" y="904.32" width="12.07" height="7.96" fill="#ff2a15" /><rect x="530.99" y="904.32" width="12.07" height="7.96" fill="#ff2a15" /><rect x="542.76" y="904.32" width="12.07" height="7.96" fill="#ff2a15" /><rect x="554.53" y="904.32" width="11.77" height="7.96" fill="#ffb257" /><text x="567.4" y="909.95" font-size="5.15" fill="#222">Bifidobacteriaceae</text><rect x="330.9" y="911.98" width="12.07" height="7.96" fill="#ff8c44" /><rect x="342.67" y="911.98" width="12.07" height="7.96" fill="#ff4a25" /><rect x="354.44" y="911.98" width="12.07" height="7.96" fill="#ff4a25" /><rect x="366.21" y="911.98" width="12.07" height="7.96" fill="#ff6a33" /><rect x="377.98" y="911.98" width="12.07" height="7.96" fill="#ff4a25" /><rect x="389.75" y="911.98" width="12.07" height="7.96" fill="#ff4a25" /><rect x="401.52" y="911.98" width="12.07" height="7.96" fill="#ff4a25" /><rect x="413.29" y="911.98" width="12.07" height="7.96" fill="#ff4a25" /><rect x="425.06" y="911.98" width="12.07" height="7.96" fill="#ff6a33" /><rect x="436.83" y="911.98" width="12.07" height="7.96" fill="#ff6a33" /><rect x="448.6" y="911.98" width="12.07" height="7.96" fill="#ff6a33" /><rect x="460.37" y="911.98" width="12.07" height="7.96" fill="#ff6a33" /><rect x="472.14" y="911.98" width="12.07" height="7.96" fill="#ff6a33" /><rect x="483.91" y="911.98" width="12.07" height="7.96" fill="#ffb257" /><rect x="495.68" y="911.98" width="12.07" height="7.96" fill="#ff8c44" /><rect x="507.45" y="911.98" width="12.07" height="7.96" fill="#ff8c44" /><rect x="519.22" y="911.98" width="12.07" height="7.96" fill="#ff8c44" /><rect x="530.99" y="911.98" width="12.07" height="7.96" fill="#ff8c44" /><rect x="542.76" y="911.98" width="12.07" height="7.96" fill="#ffb257" /><rect x="554.53" y="911.98" width="11.77" height="7.96" fill="#ffd86c" /><text x="567.4" y="917.61" font-size="5.15" fill="#222">Coriobacteriaceae</text><rect x="330.9" y="919.64" width="12.07" height="7.96" fill="#ff2a15" /><rect x="342.67" y="919.64" width="12.07" height="7.96" fill="#ff0000" /><rect x="354.44" y="919.64" width="12.07" height="7.96" fill="#ff0000" /><rect x="366.21" y="919.64" width="12.07" height="7.96" fill="#ff2a15" /><rect x="377.98" y="919.64" width="12.07" height="7.96" fill="#ff0000" /><rect x="389.75" y="919.64" width="12.07" height="7.96" fill="#ff2a15" /><rect x="401.52" y="919.64" width="12.07" height="7.96" fill="#ff2a15" /><rect x="413.29" y="919.64" width="12.07" height="7.96" fill="#ff0000" /><rect x="425.06" y="919.64" width="12.07" height="7.96" fill="#ff2a15" /><rect x="436.83" y="919.64" width="12.07" height="7.96" fill="#ff2a15" /><rect x="448.6" y="919.64" width="12.07" height="7.96" fill="#ff2a15" /><rect x="460.37" y="919.64" width="12.07" height="7.96" fill="#ff2a15" /><rect x="472.14" y="919.64" width="12.07" height="7.96" fill="#ff2a15" /><rect x="483.91" y="919.64" width="12.07" height="7.96" fill="#ff8c44" /><rect x="495.68" y="919.64" width="12.07" height="7.96" fill="#ff6a33" /><rect x="507.45" y="919.64" width="12.07" height="7.96" fill="#ff6a33" /><rect x="519.22" y="919.64" width="12.07" height="7.96" fill="#ff4a25" /><rect x="530.99" y="919.64" width="12.07" height="7.96" fill="#ff4a25" /><rect x="542.76" y="919.64" width="12.07" height="7.96" fill="#ff4a25" /><rect x="554.53" y="919.64" width="11.77" height="7.96" fill="#fff67c" /><text x="567.4" y="925.27" font-size="5.15" fill="#222">Erysipelotrichaceae</text><rect x="330.9" y="927.3" width="12.07" height="7.96" fill="#e8e68e" /><rect x="342.67" y="927.3" width="12.07" height="7.96" fill="#fff67c" /><rect x="354.44" y="927.3" width="12.07" height="7.96" fill="#e8e68e" /><rect x="366.21" y="927.3" width="12.07" height="7.96" fill="#d4d498" /><rect x="377.98" y="927.3" width="12.07" height="7.96" fill="#fff67c" /><rect x="389.75" y="927.3" width="12.07" height="7.96" fill="#e8e68e" /><rect x="401.52" y="927.3" width="12.07" height="7.96" fill="#d4d498" /><rect x="413.29" y="927.3" width="12.07" height="7.96" fill="#7a7ac8" /><rect x="425.06" y="927.3" width="12.07" height="7.96" fill="#a8a8b0" /><rect x="436.83" y="927.3" width="12.07" height="7.96" fill="#7a7ac8" /><rect x="448.6" y="927.3" width="12.07" height="7.96" fill="#ffb257" /><rect x="460.37" y="927.3" width="12.07" height="7.96" fill="#e8e68e" /><rect x="472.14" y="927.3" width="12.07" height="7.96" fill="#7a7ac8" /><rect x="483.91" y="927.3" width="12.07" height="7.96" fill="#a8a8b0" /><rect x="495.68" y="927.3" width="12.07" height="7.96" fill="#e8e68e" /><rect x="507.45" y="927.3" width="12.07" height="7.96" fill="#fff67c" /><rect x="519.22" y="927.3" width="12.07" height="7.96" fill="#d4d498" /><rect x="530.99" y="927.3" width="12.07" height="7.96" fill="#d4d498" /><rect x="542.76" y="927.3" width="12.07" height="7.96" fill="#e8e68e" /><rect x="554.53" y="927.3" width="11.77" height="7.96" fill="#c2c2a6" /><text x="567.4" y="932.93" font-size="5.15" fill="#222">Helicobacteraceae</text><rect x="330.9" y="934.96" width="12.07" height="7.96" fill="#ff2a15" /><rect x="342.67" y="934.96" width="12.07" height="7.96" fill="#ff2a15" /><rect x="354.44" y="934.96" width="12.07" height="7.96" fill="#ff0000" /><rect x="366.21" y="934.96" width="12.07" height="7.96" fill="#ff0000" /><rect x="377.98" y="934.96" width="12.07" height="7.96" fill="#ff0000" /><rect x="389.75" y="934.96" width="12.07" height="7.96" fill="#ff0000" /><rect x="401.52" y="934.96" width="12.07" height="7.96" fill="#ff0000" /><rect x="413.29" y="934.96" width="12.07" height="7.96" fill="#ff0000" /><rect x="425.06" y="934.96" width="12.07" height="7.96" fill="#ff6a33" /><rect x="436.83" y="934.96" width="12.07" height="7.96" fill="#ff6a33" /><rect x="448.6" y="934.96" width="12.07" height="7.96" fill="#ff0000" /><rect x="460.37" y="934.96" width="12.07" height="7.96" fill="#ff0000" /><rect x="472.14" y="934.96" width="12.07" height="7.96" fill="#ff0000" /><rect x="483.91" y="934.96" width="12.07" height="7.96" fill="#ff0000" /><rect x="495.68" y="934.96" width="12.07" height="7.96" fill="#ff0000" /><rect x="507.45" y="934.96" width="12.07" height="7.96" fill="#ff2a15" /><rect x="519.22" y="934.96" width="12.07" height="7.96" fill="#ff0000" /><rect x="530.99" y="934.96" width="12.07" height="7.96" fill="#ff0000" /><rect x="542.76" y="934.96" width="12.07" height="7.96" fill="#ff4a25" /><rect x="554.53" y="934.96" width="11.77" height="7.96" fill="#ff2a15" /><text x="567.4" y="940.59" font-size="5.15" fill="#222">Lactobacillaceae</text><rect x="330.9" y="942.62" width="12.07" height="7.96" fill="#ff4a25" /><rect x="342.67" y="942.62" width="12.07" height="7.96" fill="#ff6a33" /><rect x="354.44" y="942.62" width="12.07" height="7.96" fill="#ff8c44" /><rect x="366.21" y="942.62" width="12.07" height="7.96" fill="#ff6a33" /><rect x="377.98" y="942.62" width="12.07" height="7.96" fill="#ff6a33" /><rect x="389.75" y="942.62" width="12.07" height="7.96" fill="#ff4a25" /><rect x="401.52" y="942.62" width="12.07" height="7.96" fill="#ff8c44" /><rect x="413.29" y="942.62" width="12.07" height="7.96" fill="#ff6a33" /><rect x="425.06" y="942.62" width="12.07" height="7.96" fill="#ffb257" /><rect x="436.83" y="942.62" width="12.07" height="7.96" fill="#ff4a25" /><rect x="448.6" y="942.62" width="12.07" height="7.96" fill="#ff8c44" /><rect x="460.37" y="942.62" width="12.07" height="7.96" fill="#ff8c44" /><rect x="472.14" y="942.62" width="12.07" height="7.96" fill="#ff6a33" /><rect x="483.91" y="942.62" width="12.07" height="7.96" fill="#ff8c44" /><rect x="495.68" y="942.62" width="12.07" height="7.96" fill="#ff6a33" /><rect x="507.45" y="942.62" width="12.07" height="7.96" fill="#ff6a33" /><rect x="519.22" y="942.62" width="12.07" height="7.96" fill="#ff6a33" /><rect x="530.99" y="942.62" width="12.07" height="7.96" fill="#ff6a33" /><rect x="542.76" y="942.62" width="12.07" height="7.96" fill="#ff4a25" /><rect x="554.53" y="942.62" width="11.77" height="7.96" fill="#ff4a25" /><text x="567.4" y="948.25" font-size="5.15" fill="#222">Clostridiaceae</text><rect x="330.9" y="950.28" width="12.07" height="7.96" fill="#ff2a15" /><rect x="342.67" y="950.28" width="12.07" height="7.96" fill="#ff6a33" /><rect x="354.44" y="950.28" width="12.07" height="7.96" fill="#ff6a33" /><rect x="366.21" y="950.28" width="12.07" height="7.96" fill="#ff6a33" /><rect x="377.98" y="950.28" width="12.07" height="7.96" fill="#ff6a33" /><rect x="389.75" y="950.28" width="12.07" height="7.96" fill="#ff6a33" /><rect x="401.52" y="950.28" width="12.07" height="7.96" fill="#ff8c44" /><rect x="413.29" y="950.28" width="12.07" height="7.96" fill="#ff4a25" /><rect x="425.06" y="950.28" width="12.07" height="7.96" fill="#ff8c44" /><rect x="436.83" y="950.28" width="12.07" height="7.96" fill="#ff4a25" /><rect x="448.6" y="950.28" width="12.07" height="7.96" fill="#ff4a25" /><rect x="460.37" y="950.28" width="12.07" height="7.96" fill="#ff4a25" /><rect x="472.14" y="950.28" width="12.07" height="7.96" fill="#ff6a33" /><rect x="483.91" y="950.28" width="12.07" height="7.96" fill="#ff6a33" /><rect x="495.68" y="950.28" width="12.07" height="7.96" fill="#ff2a15" /><rect x="507.45" y="950.28" width="12.07" height="7.96" fill="#ff4a25" /><rect x="519.22" y="950.28" width="12.07" height="7.96" fill="#ff4a25" /><rect x="530.99" y="950.28" width="12.07" height="7.96" fill="#ff4a25" /><rect x="542.76" y="950.28" width="12.07" height="7.96" fill="#ff2a15" /><rect x="554.53" y="950.28" width="11.77" height="7.96" fill="#ff2a15" /><text x="567.4" y="955.91" font-size="5.15" fill="#222">Peptostreptococcaceae</text><rect x="330.9" y="957.94" width="12.07" height="7.96" fill="#ff6a33" /><rect x="342.67" y="957.94" width="12.07" height="7.96" fill="#ff8c44" /><rect x="354.44" y="957.94" width="12.07" height="7.96" fill="#ff6a33" /><rect x="366.21" y="957.94" width="12.07" height="7.96" fill="#ff8c44" /><rect x="377.98" y="957.94" width="12.07" height="7.96" fill="#ff6a33" /><rect x="389.75" y="957.94" width="12.07" height="7.96" fill="#ffb257" /><rect x="401.52" y="957.94" width="12.07" height="7.96" fill="#ffb257" /><rect x="413.29" y="957.94" width="12.07" height="7.96" fill="#ff8c44" /><rect x="425.06" y="957.94" width="12.07" height="7.96" fill="#ffb257" /><rect x="436.83" y="957.94" width="12.07" height="7.96" fill="#ff6a33" /><rect x="448.6" y="957.94" width="12.07" height="7.96" fill="#ffb257" /><rect x="460.37" y="957.94" width="12.07" height="7.96" fill="#ff8c44" /><rect x="472.14" y="957.94" width="12.07" height="7.96" fill="#ff8c44" /><rect x="483.91" y="957.94" width="12.07" height="7.96" fill="#ffb257" /><rect x="495.68" y="957.94" width="12.07" height="7.96" fill="#ff8c44" /><rect x="507.45" y="957.94" width="12.07" height="7.96" fill="#ff6a33" /><rect x="519.22" y="957.94" width="12.07" height="7.96" fill="#ff4a25" /><rect x="530.99" y="957.94" width="12.07" height="7.96" fill="#ff6a33" /><rect x="542.76" y="957.94" width="12.07" height="7.96" fill="#ff4a25" /><rect x="554.53" y="957.94" width="11.77" height="7.96" fill="#ff4a25" /><text x="567.4" y="963.57" font-size="5.15" fill="#222">Turicibacteraceae</text><rect x="330.9" y="965.6" width="12.07" height="7.96" fill="#ff4a25" /><rect x="342.67" y="965.6" width="12.07" height="7.96" fill="#ff6a33" /><rect x="354.44" y="965.6" width="12.07" height="7.96" fill="#ff6a33" /><rect x="366.21" y="965.6" width="12.07" height="7.96" fill="#ff6a33" /><rect x="377.98" y="965.6" width="12.07" height="7.96" fill="#ff8c44" /><rect x="389.75" y="965.6" width="12.07" height="7.96" fill="#ff6a33" /><rect x="401.52" y="965.6" width="12.07" height="7.96" fill="#ff6a33" /><rect x="413.29" y="965.6" width="12.07" height="7.96" fill="#ffb257" /><rect x="425.06" y="965.6" width="12.07" height="7.96" fill="#ff4a25" /><rect x="436.83" y="965.6" width="12.07" height="7.96" fill="#ff4a25" /><rect x="448.6" y="965.6" width="12.07" height="7.96" fill="#ff4a25" /><rect x="460.37" y="965.6" width="12.07" height="7.96" fill="#ff8c44" /><rect x="472.14" y="965.6" width="12.07" height="7.96" fill="#ff6a33" /><rect x="483.91" y="965.6" width="12.07" height="7.96" fill="#ff2a15" /><rect x="495.68" y="965.6" width="12.07" height="7.96" fill="#ff4a25" /><rect x="507.45" y="965.6" width="12.07" height="7.96" fill="#ff2a15" /><rect x="519.22" y="965.6" width="12.07" height="7.96" fill="#ff4a25" /><rect x="530.99" y="965.6" width="12.07" height="7.96" fill="#ff6a33" /><rect x="542.76" y="965.6" width="12.07" height="7.96" fill="#ff6a33" /><rect x="554.53" y="965.6" width="11.77" height="7.96" fill="#ff4a25" /><text x="567.4" y="971.23" font-size="5.15" fill="#222">Lachnospiraceae</text><rect x="330.9" y="973.26" width="12.07" height="7.66" fill="#e8e68e" /><rect x="342.67" y="973.26" width="12.07" height="7.66" fill="#7a7ac8" /><rect x="354.44" y="973.26" width="12.07" height="7.66" fill="#7a7ac8" /><rect x="366.21" y="973.26" width="12.07" height="7.66" fill="#7a7ac8" /><rect x="377.98" y="973.26" width="12.07" height="7.66" fill="#9292c0" /><rect x="389.75" y="973.26" width="12.07" height="7.66" fill="#9292c0" /><rect x="401.52" y="973.26" width="12.07" height="7.66" fill="#7a7ac8" /><rect x="413.29" y="973.26" width="12.07" height="7.66" fill="#7a7ac8" /><rect x="425.06" y="973.26" width="12.07" height="7.66" fill="#e8e68e" /><rect x="436.83" y="973.26" width="12.07" height="7.66" fill="#ff8c44" /><rect x="448.6" y="973.26" width="12.07" height="7.66" fill="#9292c0" /><rect x="460.37" y="973.26" width="12.07" height="7.66" fill="#9292c0" /><rect x="472.14" y="973.26" width="12.07" height="7.66" fill="#7a7ac8" /><rect x="483.91" y="973.26" width="12.07" height="7.66" fill="#7a7ac8" /><rect x="495.68" y="973.26" width="12.07" height="7.66" fill="#ff8c44" /><rect x="507.45" y="973.26" width="12.07" height="7.66" fill="#c2c2a6" /><rect x="519.22" y="973.26" width="12.07" height="7.66" fill="#a8a8b0" /><rect x="530.99" y="973.26" width="12.07" height="7.66" fill="#a8a8b0" /><rect x="542.76" y="973.26" width="12.07" height="7.66" fill="#e8e68e" /><rect x="554.53" y="973.26" width="11.77" height="7.66" fill="#7a7ac8" /><text x="567.4" y="978.89" font-size="5.15" fill="#222">Verrucomicrobiaceae</text><rect x="330.9" y="766" width="23.54" height="5.6" fill="#000000" /><rect x="354.44" y="766" width="11.77" height="5.6" fill="#ff0000" /><rect x="366.21" y="766" width="23.54" height="5.6" fill="#ffb400" /><rect x="389.75" y="766" width="11.77" height="5.6" fill="#000000" /><rect x="401.52" y="766" width="23.54" height="5.6" fill="#ffb400" /><rect x="425.06" y="766" width="23.54" height="5.6" fill="#000000" /><rect x="448.6" y="766" width="47.08" height="5.6" fill="#ff0000" /><rect x="495.68" y="766" width="11.77" height="5.6" fill="#ffb400" /><rect x="507.45" y="766" width="58.85" height="5.6" fill="#5a5af0" /><path d="M348.55 762.3 V757.2 H360.32 V762.3 M354.44 757.2 V754.6 H372.09 V762.3 M363.27 754.6 V750.2 H383.86 V762.3 M373.57 750.2 V742.7 H395.63 V762.3 M407.4 762.3 V752.3 H419.17 V762.3 M384.6 742.7 V740.4 H413.29 V752.3 M336.78 762.3 V728.3 H398.95 V740.4 M430.94 762.3 V731.3 H442.71 V762.3 M367.87 728.3 V723.4 H436.83 V731.3 M454.48 762.3 V747.6 H466.25 V762.3 M460.37 747.6 V738.3 H478.02 V762.3 M469.2 738.3 V733.4 H489.79 V762.3 M402.35 723.4 V721.5 H479.5 V733.4 M525.11 762.3 V759.7 H536.88 V762.3 M513.34 762.3 V745.3 H530.99 V759.7 M522.16 745.3 V735.7 H548.64 V762.3 M535.4 735.7 V726.4 H560.41 V762.3 M501.56 762.3 V719 H547.91 V726.4 M440.92 721.5 V716.4 H524.74 V719" stroke="#666" stroke-width="0.9" fill="none" /><path d="M330.6 808.57 H319.3 V816.23 H330.6 M330.6 800.91 H315.4 V812.4 H319.3 M330.6 793.25 H308.7 V806.66 H315.4 M330.6 785.59 H297.5 V799.95 H308.7 M297.5 792.77 H291.3 V823.89 H330.6 M330.6 831.55 H312.8 V839.21 H330.6 M291.3 808.33 H287.1 V835.38 H312.8 M330.6 846.87 H325.8 V854.53 H330.6 M325.8 850.7 H323.6 V862.19 H330.6 M323.6 856.45 H310.3 V869.85 H330.6 M310.3 863.15 H304.5 V877.51 H330.6 M330.6 892.83 H302.3 V900.49 H330.6 M330.6 885.17 H295.7 V896.66 H302.3 M304.5 870.33 H289.6 V890.92 H295.7 M287.1 821.86 H282.5 V880.62 H289.6 M330.6 777.93 H280.3 V851.24 H282.5 M330.6 915.81 H327.6 V923.47 H330.6 M330.6 908.15 H306.5 V919.64 H327.6 M330.6 931.13 H293.4 V938.79 H330.6 M306.5 913.9 H278.2 V934.96 H293.4 M280.3 814.58 H276.3 V924.43 H278.2 M330.6 954.11 H321.5 V961.77 H330.6 M330.6 946.45 H317.3 V957.94 H321.5 M330.6 969.43 H300.2 V977.09 H330.6 M317.3 952.2 H284.8 V973.26 H300.2 M276.3 869.51 H274.3 V962.73 H284.8" stroke="#666" stroke-width="0.9" fill="none" /><text x="609.6" y="714.3" font-size="10.3" font-weight="bold">Group</text><rect x="609.3" y="721.5" width="9.1" height="8.8" fill="#000" /><text x="623" y="729.7" font-size="10.35">Control</text><rect x="609.3" y="735.6" width="9.1" height="8.8" fill="#ffb400" /><text x="623" y="743.8" font-size="10.35">Dex-P/PBS</text><rect x="609.3" y="749.3" width="9.1" height="8.8" fill="#ff0000" /><rect x="609.3" y="763" width="9.1" height="8.8" fill="#5a5af0" /><text x="623" y="771.2" font-size="10.35">Healthy</text><text x="623" y="757.5" font-size="10.35">Dex-P/NPA<tspan dy="2.6" font-size="7.1">2</tspan></text><rect x="642.9" y="841" width="11.2" height="9.32" fill="#ff6a2a" /><text x="655.1" y="849.97" font-size="6.4" fill="#222">1.37</text><rect x="642.9" y="850.27" width="11.2" height="9.32" fill="#ff7a30" /><text x="655.1" y="859.24" font-size="6.4" fill="#222">1.01</text><rect x="642.9" y="859.54" width="11.2" height="9.32" fill="#ff8c3c" /><text x="655.1" y="868.51" font-size="6.4" fill="#222">0.66</text><rect x="642.9" y="868.81" width="11.2" height="9.32" fill="#ffa044" /><text x="655.1" y="877.78" font-size="6.4" fill="#222">0.31</text><rect x="642.9" y="878.08" width="11.2" height="9.32" fill="#ffb24c" /><text x="655.1" y="887.05" font-size="6.4" fill="#222">-0.04</text><rect x="642.9" y="887.35" width="11.2" height="9.32" fill="#ffc858" /><text x="655.1" y="896.32" font-size="6.4" fill="#222">-0.39</text><rect x="642.9" y="896.62" width="11.2" height="9.32" fill="#ffe064" /><text x="655.1" y="905.59" font-size="6.4" fill="#222">-0.74</text><rect x="642.9" y="905.89" width="11.2" height="9.32" fill="#fffa74" /><text x="655.1" y="914.86" font-size="6.4" fill="#222">-1.09</text><rect x="642.9" y="915.16" width="11.2" height="9.32" fill="#ecec88" /><text x="655.1" y="924.13" font-size="6.4" fill="#222">-1.44</text><rect x="642.9" y="924.43" width="11.2" height="9.32" fill="#d9d994" /><text x="655.1" y="933.4" font-size="6.4" fill="#222">-1.80</text><rect x="642.9" y="933.7" width="11.2" height="9.32" fill="#c2c29e" /><text x="655.1" y="942.67" font-size="6.4" fill="#222">-2.15</text><rect x="642.9" y="942.97" width="11.2" height="9.32" fill="#aaaaaa" /><text x="655.1" y="951.94" font-size="6.4" fill="#222">-2.50</text><rect x="642.9" y="952.24" width="11.2" height="9.32" fill="#9a9ab6" /><text x="655.1" y="961.21" font-size="6.4" fill="#222">-2.85</text><rect x="642.9" y="961.51" width="11.2" height="9.32" fill="#8888c0" /><text x="655.1" y="970.48" font-size="6.4" fill="#222">-3.20</text><rect x="642.9" y="970.78" width="11.2" height="9.32" fill="#7474c6" /><text x="655.1" y="979.75" font-size="6.4" fill="#222">-3.55</text><text x="650" y="817.6" font-size="7.9" textLength="68.7" lengthAdjust="spacingAndGlyphs" text-anchor="middle">Relative abundance</text><text x="651.2" y="827.8" font-size="7.8" text-anchor="middle">(%)</text><text x="642.1" y="836.5" font-size="7.8">Log<tspan dy="1.9" font-size="5.6">10</tspan></text></svg>
</body></html>
